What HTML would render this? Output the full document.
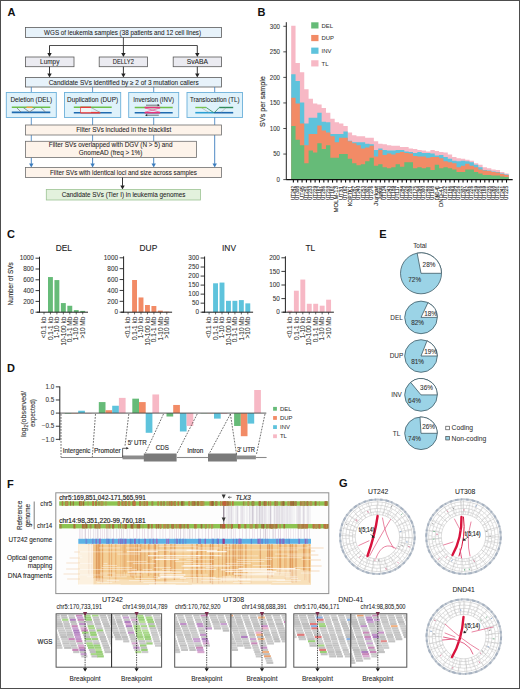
<!DOCTYPE html><html><head><meta charset="utf-8"><style>html,body{margin:0;padding:0;background:#fff;}svg{display:block;}</style></head><body>
<svg width="520" height="689" viewBox="0 0 520 689" font-family='"Liberation Sans", sans-serif'>
<rect x="0.00" y="0.00" width="520.00" height="689.00" fill="#ffffff" stroke="none" stroke-width="1"/>
<text x="7.6" y="15.6" font-size="11" text-anchor="start" font-weight="bold" fill="#111">A</text>
<rect x="25.50" y="27.50" width="196.00" height="10.00" fill="#e7f2fa" stroke="#5a5a5a" stroke-width="0.8"/>
<text x="122.6" y="35.0" font-size="6.7" text-anchor="middle" font-weight="normal" fill="#222" textLength="157" lengthAdjust="spacingAndGlyphs" stroke="#222" stroke-width="0.06">WGS of leukemia samples (38 patients and 12 cell lines)</text>
<line x1="123.40" y1="37.50" x2="123.40" y2="45.50" stroke="#222" stroke-width="0.8"/>
<line x1="49.50" y1="45.50" x2="197.30" y2="45.50" stroke="#222" stroke-width="0.8"/>
<line x1="49.50" y1="45.50" x2="49.50" y2="53.40" stroke="#222" stroke-width="0.9"/>
<path d="M47.30,53.10 L51.70,53.10 L49.50,57.00 Z" fill="#222" stroke="none" stroke-width="1"/>
<line x1="123.40" y1="45.50" x2="123.40" y2="53.40" stroke="#222" stroke-width="0.9"/>
<path d="M121.20,53.10 L125.60,53.10 L123.40,57.00 Z" fill="#222" stroke="none" stroke-width="1"/>
<line x1="197.30" y1="45.50" x2="197.30" y2="53.40" stroke="#222" stroke-width="0.9"/>
<path d="M195.10,53.10 L199.50,53.10 L197.30,57.00 Z" fill="#222" stroke="none" stroke-width="1"/>
<rect x="25.50" y="57.00" width="48.50" height="9.70" fill="#ebebf1" stroke="#5a5a5a" stroke-width="0.8"/>
<text x="49.75" y="64.0" font-size="6.7" text-anchor="middle" font-weight="normal" fill="#222" textLength="19.3" lengthAdjust="spacingAndGlyphs" stroke="#222" stroke-width="0.06">Lumpy</text>
<rect x="99.20" y="57.00" width="48.30" height="9.70" fill="#ebebf1" stroke="#5a5a5a" stroke-width="0.8"/>
<text x="123.35" y="64.0" font-size="6.7" text-anchor="middle" font-weight="normal" fill="#222" textLength="21.2" lengthAdjust="spacingAndGlyphs" stroke="#222" stroke-width="0.06">DELLY2</text>
<rect x="173.20" y="57.00" width="48.30" height="9.70" fill="#ebebf1" stroke="#5a5a5a" stroke-width="0.8"/>
<text x="197.35" y="64.0" font-size="6.7" text-anchor="middle" font-weight="normal" fill="#222" textLength="21.4" lengthAdjust="spacingAndGlyphs" stroke="#222" stroke-width="0.06">SvABA</text>
<line x1="49.50" y1="66.70" x2="49.50" y2="73.90" stroke="#222" stroke-width="0.9"/>
<path d="M47.30,73.60 L51.70,73.60 L49.50,77.50 Z" fill="#222" stroke="none" stroke-width="1"/>
<line x1="123.40" y1="66.70" x2="123.40" y2="73.90" stroke="#222" stroke-width="0.9"/>
<path d="M121.20,73.60 L125.60,73.60 L123.40,77.50 Z" fill="#222" stroke="none" stroke-width="1"/>
<line x1="197.30" y1="66.70" x2="197.30" y2="73.90" stroke="#222" stroke-width="0.9"/>
<path d="M195.10,73.60 L199.50,73.60 L197.30,77.50 Z" fill="#222" stroke="none" stroke-width="1"/>
<rect x="25.50" y="77.50" width="196.00" height="9.50" fill="#e7f2fa" stroke="#5a5a5a" stroke-width="0.8"/>
<text x="123.7" y="84.6" font-size="6.7" text-anchor="middle" font-weight="normal" fill="#222" textLength="150" lengthAdjust="spacingAndGlyphs" stroke="#222" stroke-width="0.06">Candidate SVs identified by ≥ 2 of 3 mutation callers</text>
<line x1="31.30" y1="87.00" x2="31.30" y2="92.50" stroke="#3b7cbd" stroke-width="0.8"/>
<line x1="92.60" y1="87.00" x2="92.60" y2="92.50" stroke="#3b7cbd" stroke-width="0.8"/>
<line x1="153.70" y1="87.00" x2="153.70" y2="92.50" stroke="#3b7cbd" stroke-width="0.8"/>
<line x1="214.70" y1="87.00" x2="214.70" y2="92.50" stroke="#3b7cbd" stroke-width="0.8"/>
<rect x="6.30" y="92.50" width="50.00" height="25.00" fill="#dff2fb" stroke="#6cb0da" stroke-width="0.9"/>
<text x="31.3" y="102.2" font-size="6.7" text-anchor="middle" font-weight="normal" fill="#222" textLength="41.7" lengthAdjust="spacingAndGlyphs" stroke="#222" stroke-width="0.06">Deletion (DEL)</text>
<rect x="64.50" y="92.50" width="56.20" height="25.00" fill="#dff2fb" stroke="#6cb0da" stroke-width="0.9"/>
<text x="92.6" y="102.2" font-size="6.7" text-anchor="middle" font-weight="normal" fill="#222" textLength="51" lengthAdjust="spacingAndGlyphs" stroke="#222" stroke-width="0.06">Duplication (DUP)</text>
<rect x="128.70" y="92.50" width="50.00" height="25.00" fill="#dff2fb" stroke="#6cb0da" stroke-width="0.9"/>
<text x="153.7" y="102.2" font-size="6.7" text-anchor="middle" font-weight="normal" fill="#222" textLength="40.7" lengthAdjust="spacingAndGlyphs" stroke="#222" stroke-width="0.06">Inversion (INV)</text>
<rect x="187.00" y="92.50" width="55.50" height="25.00" fill="#dff2fb" stroke="#6cb0da" stroke-width="0.9"/>
<text x="214.75" y="102.2" font-size="6.7" text-anchor="middle" font-weight="normal" fill="#222" textLength="49.5" lengthAdjust="spacingAndGlyphs" stroke="#222" stroke-width="0.06">Translocation (TL)</text>
<line x1="11.80" y1="107.30" x2="50.30" y2="107.30" stroke="#6cc04a" stroke-width="1.4"/>
<line x1="26.50" y1="107.30" x2="32.50" y2="107.30" stroke="#f5a04a" stroke-width="1.4"/>
<line x1="11.80" y1="112.40" x2="50.30" y2="112.40" stroke="#1f6bb0" stroke-width="1.6"/>
<path d="M16.8,107.8 L21,112 M23.5,107.8 L29.5,112 L35.5,107.8 M41,107.8 L45.5,112" fill="none" stroke="#777" stroke-width="0.75"/>
<line x1="73.80" y1="107.30" x2="111.70" y2="107.30" stroke="#6cc04a" stroke-width="1.4"/>
<line x1="80.50" y1="107.30" x2="91.00" y2="107.30" stroke="#e83a3a" stroke-width="1.4"/>
<line x1="73.80" y1="112.70" x2="111.70" y2="112.70" stroke="#1f6bb0" stroke-width="1.6"/>
<line x1="80.50" y1="112.70" x2="100.30" y2="112.70" stroke="#e83a3a" stroke-width="1.6"/>
<rect x="80.50" y="108.00" width="10.50" height="4.20" fill="#f3f3f3" stroke="none" stroke-width="1"/>
<line x1="80.50" y1="107.30" x2="80.50" y2="112.70" stroke="#e83a3a" stroke-width="0.7"/>
<line x1="91.00" y1="107.50" x2="100.30" y2="112.50" stroke="#888" stroke-width="0.6"/>
<line x1="134.70" y1="107.50" x2="172.70" y2="107.50" stroke="#6cc04a" stroke-width="1.4"/>
<line x1="144.60" y1="107.50" x2="160.20" y2="107.50" stroke="#e5357a" stroke-width="1.5"/>
<line x1="134.70" y1="112.70" x2="172.70" y2="112.70" stroke="#1f6bb0" stroke-width="1.6"/>
<line x1="144.60" y1="112.70" x2="160.20" y2="112.70" stroke="#e5357a" stroke-width="1.5"/>
<path d="M145,108 L160,112.2 M145,112.2 L160,108" fill="none" stroke="#e5357a" stroke-width="0.6"/>
<line x1="146.00" y1="105.20" x2="158.50" y2="105.20" stroke="#222" stroke-width="0.6"/>
<path d="M159.8,105.2 L157.6,104.1 L157.6,106.3 Z" fill="#222" stroke="none" stroke-width="1"/>
<line x1="146.30" y1="115.20" x2="158.80" y2="115.20" stroke="#222" stroke-width="0.6"/>
<path d="M145,115.2 L147.2,114.1 L147.2,116.3 Z" fill="#222" stroke="none" stroke-width="1"/>
<line x1="195.30" y1="107.50" x2="206.20" y2="107.50" stroke="#76c44f" stroke-width="1.4"/>
<line x1="219.20" y1="107.50" x2="233.20" y2="107.50" stroke="#2f8a5a" stroke-width="1.4"/>
<line x1="195.30" y1="112.70" x2="214.00" y2="112.70" stroke="#2a9fd4" stroke-width="1.6"/>
<line x1="214.00" y1="112.70" x2="233.20" y2="112.70" stroke="#1f6bb0" stroke-width="1.6"/>
<path d="M206.2,107.5 L213.5,112.5 M219.2,107.5 L214.5,112.5" fill="none" stroke="#2f8a5a" stroke-width="0.8"/>
<path d="M201.5,107.8 L209,112.5 M226,107.8 L221,112.3" fill="none" stroke="#999" stroke-width="0.5"/>
<line x1="31.30" y1="117.50" x2="31.30" y2="125.00" stroke="#3b7cbd" stroke-width="0.8"/>
<line x1="92.60" y1="117.50" x2="92.60" y2="125.00" stroke="#3b7cbd" stroke-width="0.8"/>
<line x1="153.70" y1="117.50" x2="153.70" y2="125.00" stroke="#3b7cbd" stroke-width="0.8"/>
<line x1="214.70" y1="117.50" x2="214.70" y2="125.00" stroke="#3b7cbd" stroke-width="0.8"/>
<line x1="31.30" y1="135.00" x2="31.30" y2="141.30" stroke="#3b7cbd" stroke-width="0.8"/>
<line x1="31.30" y1="157.50" x2="31.30" y2="163.90" stroke="#3b7cbd" stroke-width="0.9"/>
<path d="M29.10,163.60 L33.50,163.60 L31.30,167.50 Z" fill="#3b7cbd" stroke="none" stroke-width="1"/>
<line x1="92.60" y1="135.00" x2="92.60" y2="141.30" stroke="#3b7cbd" stroke-width="0.8"/>
<line x1="92.60" y1="157.50" x2="92.60" y2="163.90" stroke="#3b7cbd" stroke-width="0.9"/>
<path d="M90.40,163.60 L94.80,163.60 L92.60,167.50 Z" fill="#3b7cbd" stroke="none" stroke-width="1"/>
<line x1="153.70" y1="135.00" x2="153.70" y2="141.30" stroke="#3b7cbd" stroke-width="0.8"/>
<line x1="153.70" y1="157.50" x2="153.70" y2="163.90" stroke="#3b7cbd" stroke-width="0.9"/>
<path d="M151.50,163.60 L155.90,163.60 L153.70,167.50 Z" fill="#3b7cbd" stroke="none" stroke-width="1"/>
<line x1="214.70" y1="135.00" x2="214.70" y2="163.90" stroke="#3b7cbd" stroke-width="0.9"/>
<path d="M212.50,163.60 L216.90,163.60 L214.70,167.50 Z" fill="#3b7cbd" stroke="none" stroke-width="1"/>
<rect x="25.50" y="125.00" width="196.00" height="10.00" fill="#fdf3ea" stroke="#6e6e6e" stroke-width="0.8"/>
<text x="123.7" y="132.3" font-size="6.7" text-anchor="middle" font-weight="normal" fill="#222" textLength="95" lengthAdjust="spacingAndGlyphs" stroke="#222" stroke-width="0.06">Filter SVs included in the blacklist</text>
<rect x="25.50" y="141.30" width="171.00" height="16.20" fill="#fdf3ea" stroke="#6e6e6e" stroke-width="0.8"/>
<text x="110.6" y="146.6" font-size="6.7" text-anchor="middle" font-weight="normal" fill="#222" textLength="123.7" lengthAdjust="spacingAndGlyphs" stroke="#222" stroke-width="0.06">Filter SVs overlapped with DGV (N &gt; 5) and</text>
<text x="110.6" y="154.6" font-size="6.7" text-anchor="middle" font-weight="normal" fill="#222" textLength="63.7" lengthAdjust="spacingAndGlyphs" stroke="#222" stroke-width="0.06">GnomeAD (freq &gt; 1%)</text>
<rect x="25.50" y="167.50" width="196.00" height="10.00" fill="#fdf3ea" stroke="#6e6e6e" stroke-width="0.8"/>
<text x="123.5" y="174.6" font-size="6.7" text-anchor="middle" font-weight="normal" fill="#222" textLength="147" lengthAdjust="spacingAndGlyphs" stroke="#222" stroke-width="0.06">Filter SVs with identical loci and size across samples</text>
<line x1="122.50" y1="177.50" x2="122.50" y2="185.90" stroke="#222" stroke-width="0.9"/>
<path d="M120.30,185.60 L124.70,185.60 L122.50,189.50 Z" fill="#222" stroke="none" stroke-width="1"/>
<rect x="46.30" y="189.50" width="154.20" height="10.50" fill="#e3f1dd" stroke="#9cc493" stroke-width="0.8"/>
<text x="123.6" y="196.9" font-size="6.7" text-anchor="middle" font-weight="normal" fill="#222" textLength="123.7" lengthAdjust="spacingAndGlyphs" stroke="#222" stroke-width="0.06">Candidate SVs (Tier I) in leukemia genomes</text>
<text x="257.6" y="16.3" font-size="11" text-anchor="start" font-weight="bold" fill="#111">B</text>
<path d="M291.20,179.60 L291.20,25.79 L295.55,25.79 L295.55,63.09 L299.90,63.09 L299.90,72.29 L304.25,72.29 L304.25,89.15 L308.60,89.15 L308.60,98.86 L312.95,98.86 L312.95,103.46 L317.30,103.46 L317.30,104.48 L321.65,104.48 L321.65,108.06 L326.00,108.06 L326.00,112.66 L330.35,112.66 L330.35,118.79 L334.70,118.79 L334.70,122.37 L339.05,122.37 L339.05,123.39 L343.40,123.39 L343.40,125.94 L347.75,125.94 L347.75,132.59 L352.10,132.59 L352.10,135.14 L356.45,135.14 L356.45,136.16 L360.80,136.16 L360.80,136.16 L365.15,136.16 L365.15,137.70 L369.50,137.70 L369.50,137.70 L373.85,137.70 L373.85,141.27 L378.20,141.27 L378.20,143.83 L382.55,143.83 L382.55,144.34 L386.90,144.34 L386.90,145.36 L391.25,145.36 L391.25,145.87 L395.60,145.87 L395.60,145.87 L399.95,145.87 L399.95,146.90 L404.30,146.90 L404.30,146.90 L408.65,146.90 L408.65,148.43 L413.00,148.43 L413.00,148.94 L417.35,148.94 L417.35,149.96 L421.70,149.96 L421.70,150.47 L426.05,150.47 L426.05,151.50 L430.40,151.50 L430.40,149.96 L434.75,149.96 L434.75,150.98 L439.10,150.98 L439.10,152.01 L443.45,152.01 L443.45,152.52 L447.80,152.52 L447.80,154.56 L452.15,154.56 L452.15,157.12 L456.50,157.12 L456.50,158.14 L460.85,158.14 L460.85,158.65 L465.20,158.65 L465.20,159.67 L469.55,159.67 L469.55,160.69 L473.90,160.69 L473.90,163.25 L478.25,163.25 L478.25,164.78 L482.60,164.78 L482.60,167.34 L486.95,167.34 L486.95,168.36 L491.30,168.36 L491.30,169.38 L495.65,169.38 L495.65,169.89 L500.00,169.89 L500.00,171.94 L504.35,171.94 L504.35,173.47 L508.70,173.47 L508.70,179.60 Z" fill="#f7b8c5" stroke="none" stroke-width="1"/>
<path d="M291.20,179.60 L291.20,74.33 L295.55,74.33 L295.55,80.98 L299.90,80.98 L299.90,102.44 L304.25,102.44 L304.25,123.39 L308.60,123.39 L308.60,117.77 L312.95,117.77 L312.95,117.77 L317.30,117.77 L317.30,112.66 L321.65,112.66 L321.65,121.86 L326.00,121.86 L326.00,122.37 L330.35,122.37 L330.35,134.12 L334.70,134.12 L334.70,134.12 L339.05,134.12 L339.05,134.12 L343.40,134.12 L343.40,131.57 L347.75,131.57 L347.75,140.76 L352.10,140.76 L352.10,142.30 L356.45,142.30 L356.45,142.30 L360.80,142.30 L360.80,142.30 L365.15,142.30 L365.15,143.83 L369.50,143.83 L369.50,144.34 L373.85,144.34 L373.85,149.96 L378.20,149.96 L378.20,148.43 L382.55,148.43 L382.55,149.96 L386.90,149.96 L386.90,150.47 L391.25,150.47 L391.25,150.47 L395.60,150.47 L395.60,149.96 L399.95,149.96 L399.95,149.96 L404.30,149.96 L404.30,151.50 L408.65,151.50 L408.65,152.01 L413.00,152.01 L413.00,153.03 L417.35,153.03 L417.35,152.01 L421.70,152.01 L421.70,153.03 L426.05,153.03 L426.05,153.03 L430.40,153.03 L430.40,153.54 L434.75,153.54 L434.75,155.58 L439.10,155.58 L439.10,155.07 L443.45,155.07 L443.45,157.12 L447.80,157.12 L447.80,158.65 L452.15,158.65 L452.15,160.69 L456.50,160.69 L456.50,161.20 L460.85,161.20 L460.85,160.69 L465.20,160.69 L465.20,161.20 L469.55,161.20 L469.55,162.23 L473.90,162.23 L473.90,164.78 L478.25,164.78 L478.25,167.34 L482.60,167.34 L482.60,169.89 L486.95,169.89 L486.95,170.40 L491.30,170.40 L491.30,171.42 L495.65,171.42 L495.65,171.94 L500.00,171.94 L500.00,173.47 L504.35,173.47 L504.35,174.49 L508.70,174.49 L508.70,179.60 Z" fill="#5ec3dc" stroke="none" stroke-width="1"/>
<path d="M291.20,179.60 L291.20,97.84 L295.55,97.84 L295.55,103.46 L299.90,103.46 L299.90,123.39 L304.25,123.39 L304.25,145.36 L308.60,145.36 L308.60,134.12 L312.95,134.12 L312.95,134.12 L317.30,134.12 L317.30,125.43 L321.65,125.43 L321.65,130.54 L326.00,130.54 L326.00,132.59 L330.35,132.59 L330.35,136.16 L334.70,136.16 L334.70,142.30 L339.05,142.30 L339.05,137.70 L343.40,137.70 L343.40,137.70 L347.75,137.70 L347.75,141.27 L352.10,141.27 L352.10,143.32 L356.45,143.32 L356.45,145.36 L360.80,145.36 L360.80,148.43 L365.15,148.43 L365.15,147.41 L369.50,147.41 L369.50,145.87 L373.85,145.87 L373.85,156.60 L378.20,156.60 L378.20,149.96 L382.55,149.96 L382.55,155.07 L386.90,155.07 L386.90,153.54 L391.25,153.54 L391.25,154.56 L395.60,154.56 L395.60,153.03 L399.95,153.03 L399.95,152.01 L404.30,152.01 L404.30,153.03 L408.65,153.03 L408.65,153.54 L413.00,153.54 L413.00,156.09 L417.35,156.09 L417.35,156.60 L421.70,156.60 L421.70,156.60 L426.05,156.60 L426.05,157.63 L430.40,157.63 L430.40,157.12 L434.75,157.12 L434.75,157.12 L439.10,157.12 L439.10,158.14 L443.45,158.14 L443.45,161.20 L447.80,161.20 L447.80,162.23 L452.15,162.23 L452.15,163.25 L456.50,163.25 L456.50,167.34 L460.85,167.34 L460.85,165.80 L465.20,165.80 L465.20,163.76 L469.55,163.76 L469.55,165.80 L473.90,165.80 L473.90,167.34 L478.25,167.34 L478.25,169.38 L482.60,169.38 L482.60,170.40 L486.95,170.40 L486.95,170.91 L491.30,170.91 L491.30,171.94 L495.65,171.94 L495.65,172.45 L500.00,172.45 L500.00,173.98 L504.35,173.98 L504.35,175.00 L508.70,175.00 L508.70,179.60 Z" fill="#f28b66" stroke="none" stroke-width="1"/>
<path d="M291.20,179.60 L291.20,125.94 L295.55,125.94 L295.55,139.74 L299.90,139.74 L299.90,145.36 L304.25,145.36 L304.25,163.25 L308.60,163.25 L308.60,150.47 L312.95,150.47 L312.95,152.52 L317.30,152.52 L317.30,143.32 L321.65,143.32 L321.65,148.94 L326.00,148.94 L326.00,145.36 L330.35,145.36 L330.35,157.63 L334.70,157.63 L334.70,157.63 L339.05,157.63 L339.05,154.05 L343.40,154.05 L343.40,154.05 L347.75,154.05 L347.75,158.65 L352.10,158.65 L352.10,163.25 L356.45,163.25 L356.45,165.29 L360.80,165.29 L360.80,164.27 L365.15,164.27 L365.15,161.20 L369.50,161.20 L369.50,157.63 L373.85,157.63 L373.85,165.80 L378.20,165.80 L378.20,164.27 L382.55,164.27 L382.55,167.34 L386.90,167.34 L386.90,168.36 L391.25,168.36 L391.25,167.34 L395.60,167.34 L395.60,164.27 L399.95,164.27 L399.95,166.82 L404.30,166.82 L404.30,162.23 L408.65,162.23 L408.65,162.23 L413.00,162.23 L413.00,168.36 L417.35,168.36 L417.35,167.34 L421.70,167.34 L421.70,168.36 L426.05,168.36 L426.05,167.34 L430.40,167.34 L430.40,169.89 L434.75,169.89 L434.75,164.78 L439.10,164.78 L439.10,168.36 L443.45,168.36 L443.45,167.34 L447.80,167.34 L447.80,168.36 L452.15,168.36 L452.15,169.38 L456.50,169.38 L456.50,171.94 L460.85,171.94 L460.85,171.94 L465.20,171.94 L465.20,169.38 L469.55,169.38 L469.55,169.38 L473.90,169.38 L473.90,171.94 L478.25,171.94 L478.25,173.47 L482.60,173.47 L482.60,175.00 L486.95,175.00 L486.95,175.00 L491.30,175.00 L491.30,175.51 L495.65,175.51 L495.65,175.51 L500.00,175.51 L500.00,176.53 L504.35,176.53 L504.35,177.04 L508.70,177.04 L508.70,179.60 Z" fill="#66bb78" stroke="none" stroke-width="1"/>
<line x1="286.30" y1="22.20" x2="286.30" y2="180.00" stroke="#222" stroke-width="1"/>
<line x1="286.30" y1="179.60" x2="512.70" y2="179.60" stroke="#111" stroke-width="1.3"/>
<line x1="283.30" y1="179.60" x2="286.30" y2="179.60" stroke="#222" stroke-width="0.8"/>
<text x="280.0" y="181.9" font-size="6.4" text-anchor="end" font-weight="normal" fill="#333" textLength="3.4" lengthAdjust="spacingAndGlyphs" stroke="#333" stroke-width="0.07">0</text>
<line x1="283.30" y1="154.05" x2="286.30" y2="154.05" stroke="#222" stroke-width="0.8"/>
<text x="280.0" y="156.35" font-size="6.4" text-anchor="end" font-weight="normal" fill="#333" textLength="6.8" lengthAdjust="spacingAndGlyphs" stroke="#333" stroke-width="0.07">50</text>
<line x1="283.30" y1="128.50" x2="286.30" y2="128.50" stroke="#222" stroke-width="0.8"/>
<text x="280.0" y="130.8" font-size="6.4" text-anchor="end" font-weight="normal" fill="#333" textLength="10.2" lengthAdjust="spacingAndGlyphs" stroke="#333" stroke-width="0.07">100</text>
<line x1="283.30" y1="102.95" x2="286.30" y2="102.95" stroke="#222" stroke-width="0.8"/>
<text x="280.0" y="105.24999999999999" font-size="6.4" text-anchor="end" font-weight="normal" fill="#333" textLength="10.2" lengthAdjust="spacingAndGlyphs" stroke="#333" stroke-width="0.07">150</text>
<line x1="283.30" y1="77.40" x2="286.30" y2="77.40" stroke="#222" stroke-width="0.8"/>
<text x="280.0" y="79.69999999999999" font-size="6.4" text-anchor="end" font-weight="normal" fill="#333" textLength="10.2" lengthAdjust="spacingAndGlyphs" stroke="#333" stroke-width="0.07">200</text>
<line x1="283.30" y1="51.85" x2="286.30" y2="51.85" stroke="#222" stroke-width="0.8"/>
<text x="280.0" y="54.14999999999999" font-size="6.4" text-anchor="end" font-weight="normal" fill="#333" textLength="10.2" lengthAdjust="spacingAndGlyphs" stroke="#333" stroke-width="0.07">250</text>
<line x1="283.30" y1="26.30" x2="286.30" y2="26.30" stroke="#222" stroke-width="0.8"/>
<text x="280.0" y="28.599999999999984" font-size="6.4" text-anchor="end" font-weight="normal" fill="#333" textLength="10.2" lengthAdjust="spacingAndGlyphs" stroke="#333" stroke-width="0.07">300</text>
<line x1="293.38" y1="179.60" x2="293.38" y2="182.60" stroke="#111" stroke-width="1.1"/>
<text x="294.975" y="186.0" font-size="4.6" text-anchor="end" font-weight="normal" fill="#333" textLength="14" lengthAdjust="spacingAndGlyphs" transform="rotate(-90 294.975 186.0)" stroke="#333" stroke-width="0.14">UT242</text>
<line x1="297.73" y1="179.60" x2="297.73" y2="182.60" stroke="#111" stroke-width="1.1"/>
<text x="299.32500000000005" y="186.0" font-size="4.6" text-anchor="end" font-weight="normal" fill="#333" textLength="14" lengthAdjust="spacingAndGlyphs" transform="rotate(-90 299.32500000000005 186.0)" stroke="#333" stroke-width="0.14">UT308</text>
<line x1="302.07" y1="179.60" x2="302.07" y2="182.60" stroke="#111" stroke-width="1.1"/>
<text x="303.675" y="186.0" font-size="4.6" text-anchor="end" font-weight="normal" fill="#333" textLength="14" lengthAdjust="spacingAndGlyphs" transform="rotate(-90 303.675 186.0)" stroke="#333" stroke-width="0.14">UT45</text>
<line x1="306.43" y1="179.60" x2="306.43" y2="182.60" stroke="#111" stroke-width="1.1"/>
<text x="308.02500000000003" y="186.0" font-size="4.6" text-anchor="end" font-weight="normal" fill="#333" textLength="14" lengthAdjust="spacingAndGlyphs" transform="rotate(-90 308.02500000000003 186.0)" stroke="#333" stroke-width="0.14">UT251</text>
<line x1="310.77" y1="179.60" x2="310.77" y2="182.60" stroke="#111" stroke-width="1.1"/>
<text x="312.375" y="186.0" font-size="4.6" text-anchor="end" font-weight="normal" fill="#333" textLength="14" lengthAdjust="spacingAndGlyphs" transform="rotate(-90 312.375 186.0)" stroke="#333" stroke-width="0.14">UT233</text>
<line x1="315.12" y1="179.60" x2="315.12" y2="182.60" stroke="#111" stroke-width="1.1"/>
<text x="316.725" y="186.0" font-size="4.6" text-anchor="end" font-weight="normal" fill="#333" textLength="14" lengthAdjust="spacingAndGlyphs" transform="rotate(-90 316.725 186.0)" stroke="#333" stroke-width="0.14">UT229</text>
<line x1="319.48" y1="179.60" x2="319.48" y2="182.60" stroke="#111" stroke-width="1.1"/>
<text x="321.07500000000005" y="186.0" font-size="4.6" text-anchor="end" font-weight="normal" fill="#333" textLength="14" lengthAdjust="spacingAndGlyphs" transform="rotate(-90 321.07500000000005 186.0)" stroke="#333" stroke-width="0.14">UT167</text>
<line x1="323.82" y1="179.60" x2="323.82" y2="182.60" stroke="#111" stroke-width="1.1"/>
<text x="325.425" y="186.0" font-size="4.6" text-anchor="end" font-weight="normal" fill="#333" textLength="14" lengthAdjust="spacingAndGlyphs" transform="rotate(-90 325.425 186.0)" stroke="#333" stroke-width="0.14">UT286</text>
<line x1="328.18" y1="179.60" x2="328.18" y2="182.60" stroke="#111" stroke-width="1.1"/>
<text x="329.77500000000003" y="186.0" font-size="4.6" text-anchor="end" font-weight="normal" fill="#333" textLength="14" lengthAdjust="spacingAndGlyphs" transform="rotate(-90 329.77500000000003 186.0)" stroke="#333" stroke-width="0.14">UT218</text>
<line x1="332.52" y1="179.60" x2="332.52" y2="182.60" stroke="#111" stroke-width="1.1"/>
<text x="334.125" y="186.0" font-size="4.6" text-anchor="end" font-weight="normal" fill="#333" textLength="14" lengthAdjust="spacingAndGlyphs" transform="rotate(-90 334.125 186.0)" stroke="#333" stroke-width="0.14">UT161</text>
<line x1="336.88" y1="179.60" x2="336.88" y2="182.60" stroke="#111" stroke-width="1.1"/>
<text x="338.475" y="186.0" font-size="4.6" text-anchor="end" font-weight="normal" fill="#333" textLength="26.5" lengthAdjust="spacingAndGlyphs" transform="rotate(-90 338.475 186.0)" stroke="#333" stroke-width="0.14">MOLM-13</text>
<line x1="341.22" y1="179.60" x2="341.22" y2="182.60" stroke="#111" stroke-width="1.1"/>
<text x="342.825" y="186.0" font-size="4.6" text-anchor="end" font-weight="normal" fill="#333" textLength="14" lengthAdjust="spacingAndGlyphs" transform="rotate(-90 342.825 186.0)" stroke="#333" stroke-width="0.14">UT31</text>
<line x1="345.57" y1="179.60" x2="345.57" y2="182.60" stroke="#111" stroke-width="1.1"/>
<text x="347.175" y="186.0" font-size="4.6" text-anchor="end" font-weight="normal" fill="#333" textLength="14" lengthAdjust="spacingAndGlyphs" transform="rotate(-90 347.175 186.0)" stroke="#333" stroke-width="0.14">UT162</text>
<line x1="349.93" y1="179.60" x2="349.93" y2="182.60" stroke="#111" stroke-width="1.1"/>
<text x="351.52500000000003" y="186.0" font-size="4.6" text-anchor="end" font-weight="normal" fill="#333" textLength="20" lengthAdjust="spacingAndGlyphs" transform="rotate(-90 351.52500000000003 186.0)" stroke="#333" stroke-width="0.14">KOPTK1</text>
<line x1="354.27" y1="179.60" x2="354.27" y2="182.60" stroke="#111" stroke-width="1.1"/>
<text x="355.875" y="186.0" font-size="4.6" text-anchor="end" font-weight="normal" fill="#333" textLength="14" lengthAdjust="spacingAndGlyphs" transform="rotate(-90 355.875 186.0)" stroke="#333" stroke-width="0.14">UT287</text>
<line x1="358.62" y1="179.60" x2="358.62" y2="182.60" stroke="#111" stroke-width="1.1"/>
<text x="360.225" y="186.0" font-size="4.6" text-anchor="end" font-weight="normal" fill="#333" textLength="14" lengthAdjust="spacingAndGlyphs" transform="rotate(-90 360.225 186.0)" stroke="#333" stroke-width="0.14">UT240</text>
<line x1="362.97" y1="179.60" x2="362.97" y2="182.60" stroke="#111" stroke-width="1.1"/>
<text x="364.575" y="186.0" font-size="4.6" text-anchor="end" font-weight="normal" fill="#333" textLength="14" lengthAdjust="spacingAndGlyphs" transform="rotate(-90 364.575 186.0)" stroke="#333" stroke-width="0.14">UT253</text>
<line x1="367.32" y1="179.60" x2="367.32" y2="182.60" stroke="#111" stroke-width="1.1"/>
<text x="368.925" y="186.0" font-size="4.6" text-anchor="end" font-weight="normal" fill="#333" textLength="14" lengthAdjust="spacingAndGlyphs" transform="rotate(-90 368.925 186.0)" stroke="#333" stroke-width="0.14">UT302</text>
<line x1="371.68" y1="179.60" x2="371.68" y2="182.60" stroke="#111" stroke-width="1.1"/>
<text x="373.27500000000003" y="186.0" font-size="4.6" text-anchor="end" font-weight="normal" fill="#333" textLength="14" lengthAdjust="spacingAndGlyphs" transform="rotate(-90 373.27500000000003 186.0)" stroke="#333" stroke-width="0.14">UT276</text>
<line x1="376.02" y1="179.60" x2="376.02" y2="182.60" stroke="#111" stroke-width="1.1"/>
<text x="377.625" y="186.0" font-size="4.6" text-anchor="end" font-weight="normal" fill="#333" textLength="20" lengthAdjust="spacingAndGlyphs" transform="rotate(-90 377.625 186.0)" stroke="#333" stroke-width="0.14">Jurkat</text>
<line x1="380.38" y1="179.60" x2="380.38" y2="182.60" stroke="#111" stroke-width="1.1"/>
<text x="381.975" y="186.0" font-size="4.6" text-anchor="end" font-weight="normal" fill="#333" textLength="14" lengthAdjust="spacingAndGlyphs" transform="rotate(-90 381.975 186.0)" stroke="#333" stroke-width="0.14">Jurkat</text>
<line x1="384.72" y1="179.60" x2="384.72" y2="182.60" stroke="#111" stroke-width="1.1"/>
<text x="386.325" y="186.0" font-size="4.6" text-anchor="end" font-weight="normal" fill="#333" textLength="14" lengthAdjust="spacingAndGlyphs" transform="rotate(-90 386.325 186.0)" stroke="#333" stroke-width="0.14">UT124</text>
<line x1="389.07" y1="179.60" x2="389.07" y2="182.60" stroke="#111" stroke-width="1.1"/>
<text x="390.675" y="186.0" font-size="4.6" text-anchor="end" font-weight="normal" fill="#333" textLength="14" lengthAdjust="spacingAndGlyphs" transform="rotate(-90 390.675 186.0)" stroke="#333" stroke-width="0.14">UT243</text>
<line x1="393.43" y1="179.60" x2="393.43" y2="182.60" stroke="#111" stroke-width="1.1"/>
<text x="395.02500000000003" y="186.0" font-size="4.6" text-anchor="end" font-weight="normal" fill="#333" textLength="14" lengthAdjust="spacingAndGlyphs" transform="rotate(-90 395.02500000000003 186.0)" stroke="#333" stroke-width="0.14">UT189</text>
<line x1="397.77" y1="179.60" x2="397.77" y2="182.60" stroke="#111" stroke-width="1.1"/>
<text x="399.375" y="186.0" font-size="4.6" text-anchor="end" font-weight="normal" fill="#333" textLength="14" lengthAdjust="spacingAndGlyphs" transform="rotate(-90 399.375 186.0)" stroke="#333" stroke-width="0.14">UT117</text>
<line x1="402.12" y1="179.60" x2="402.12" y2="182.60" stroke="#111" stroke-width="1.1"/>
<text x="403.725" y="186.0" font-size="4.6" text-anchor="end" font-weight="normal" fill="#333" textLength="14" lengthAdjust="spacingAndGlyphs" transform="rotate(-90 403.725 186.0)" stroke="#333" stroke-width="0.14">UT284</text>
<line x1="406.47" y1="179.60" x2="406.47" y2="182.60" stroke="#111" stroke-width="1.1"/>
<text x="408.075" y="186.0" font-size="4.6" text-anchor="end" font-weight="normal" fill="#333" textLength="14" lengthAdjust="spacingAndGlyphs" transform="rotate(-90 408.075 186.0)" stroke="#333" stroke-width="0.14">UT226</text>
<line x1="410.82" y1="179.60" x2="410.82" y2="182.60" stroke="#111" stroke-width="1.1"/>
<text x="412.425" y="186.0" font-size="4.6" text-anchor="end" font-weight="normal" fill="#333" textLength="14" lengthAdjust="spacingAndGlyphs" transform="rotate(-90 412.425 186.0)" stroke="#333" stroke-width="0.14">UT209</text>
<line x1="415.18" y1="179.60" x2="415.18" y2="182.60" stroke="#111" stroke-width="1.1"/>
<text x="416.77500000000003" y="186.0" font-size="4.6" text-anchor="end" font-weight="normal" fill="#333" textLength="14" lengthAdjust="spacingAndGlyphs" transform="rotate(-90 416.77500000000003 186.0)" stroke="#333" stroke-width="0.14">UT175</text>
<line x1="419.52" y1="179.60" x2="419.52" y2="182.60" stroke="#111" stroke-width="1.1"/>
<text x="421.125" y="186.0" font-size="4.6" text-anchor="end" font-weight="normal" fill="#333" textLength="14" lengthAdjust="spacingAndGlyphs" transform="rotate(-90 421.125 186.0)" stroke="#333" stroke-width="0.14">UT298</text>
<line x1="423.88" y1="179.60" x2="423.88" y2="182.60" stroke="#111" stroke-width="1.1"/>
<text x="425.475" y="186.0" font-size="4.6" text-anchor="end" font-weight="normal" fill="#333" textLength="14" lengthAdjust="spacingAndGlyphs" transform="rotate(-90 425.475 186.0)" stroke="#333" stroke-width="0.14">UT300</text>
<line x1="428.22" y1="179.60" x2="428.22" y2="182.60" stroke="#111" stroke-width="1.1"/>
<text x="429.825" y="186.0" font-size="4.6" text-anchor="end" font-weight="normal" fill="#333" textLength="14" lengthAdjust="spacingAndGlyphs" transform="rotate(-90 429.825 186.0)" stroke="#333" stroke-width="0.14">UT288</text>
<line x1="432.57" y1="179.60" x2="432.57" y2="182.60" stroke="#111" stroke-width="1.1"/>
<text x="434.175" y="186.0" font-size="4.6" text-anchor="end" font-weight="normal" fill="#333" textLength="14" lengthAdjust="spacingAndGlyphs" transform="rotate(-90 434.175 186.0)" stroke="#333" stroke-width="0.14">UT168</text>
<line x1="436.93" y1="179.60" x2="436.93" y2="182.60" stroke="#111" stroke-width="1.1"/>
<text x="438.52500000000003" y="186.0" font-size="4.6" text-anchor="end" font-weight="normal" fill="#333" textLength="14" lengthAdjust="spacingAndGlyphs" transform="rotate(-90 438.52500000000003 186.0)" stroke="#333" stroke-width="0.14">DND-41</text>
<line x1="441.27" y1="179.60" x2="441.27" y2="182.60" stroke="#111" stroke-width="1.1"/>
<text x="442.875" y="186.0" font-size="4.6" text-anchor="end" font-weight="normal" fill="#333" textLength="21" lengthAdjust="spacingAndGlyphs" transform="rotate(-90 442.875 186.0)" stroke="#333" stroke-width="0.14">DND-41</text>
<line x1="445.62" y1="179.60" x2="445.62" y2="182.60" stroke="#111" stroke-width="1.1"/>
<text x="447.225" y="186.0" font-size="4.6" text-anchor="end" font-weight="normal" fill="#333" textLength="14" lengthAdjust="spacingAndGlyphs" transform="rotate(-90 447.225 186.0)" stroke="#333" stroke-width="0.14">UT232</text>
<line x1="449.97" y1="179.60" x2="449.97" y2="182.60" stroke="#111" stroke-width="1.1"/>
<text x="451.575" y="186.0" font-size="4.6" text-anchor="end" font-weight="normal" fill="#333" textLength="14" lengthAdjust="spacingAndGlyphs" transform="rotate(-90 451.575 186.0)" stroke="#333" stroke-width="0.14">UT186</text>
<line x1="454.32" y1="179.60" x2="454.32" y2="182.60" stroke="#111" stroke-width="1.1"/>
<text x="455.925" y="186.0" font-size="4.6" text-anchor="end" font-weight="normal" fill="#333" textLength="14" lengthAdjust="spacingAndGlyphs" transform="rotate(-90 455.925 186.0)" stroke="#333" stroke-width="0.14">UT284</text>
<line x1="458.68" y1="179.60" x2="458.68" y2="182.60" stroke="#111" stroke-width="1.1"/>
<text x="460.27500000000003" y="186.0" font-size="4.6" text-anchor="end" font-weight="normal" fill="#333" textLength="14" lengthAdjust="spacingAndGlyphs" transform="rotate(-90 460.27500000000003 186.0)" stroke="#333" stroke-width="0.14">UT216</text>
<line x1="463.02" y1="179.60" x2="463.02" y2="182.60" stroke="#111" stroke-width="1.1"/>
<text x="464.625" y="186.0" font-size="4.6" text-anchor="end" font-weight="normal" fill="#333" textLength="14" lengthAdjust="spacingAndGlyphs" transform="rotate(-90 464.625 186.0)" stroke="#333" stroke-width="0.14">UT307</text>
<line x1="467.38" y1="179.60" x2="467.38" y2="182.60" stroke="#111" stroke-width="1.1"/>
<text x="468.975" y="186.0" font-size="4.6" text-anchor="end" font-weight="normal" fill="#333" textLength="14" lengthAdjust="spacingAndGlyphs" transform="rotate(-90 468.975 186.0)" stroke="#333" stroke-width="0.14">UT262</text>
<line x1="471.72" y1="179.60" x2="471.72" y2="182.60" stroke="#111" stroke-width="1.1"/>
<text x="473.325" y="186.0" font-size="4.6" text-anchor="end" font-weight="normal" fill="#333" textLength="14" lengthAdjust="spacingAndGlyphs" transform="rotate(-90 473.325 186.0)" stroke="#333" stroke-width="0.14">UT226</text>
<line x1="476.07" y1="179.60" x2="476.07" y2="182.60" stroke="#111" stroke-width="1.1"/>
<text x="477.675" y="186.0" font-size="4.6" text-anchor="end" font-weight="normal" fill="#333" textLength="14" lengthAdjust="spacingAndGlyphs" transform="rotate(-90 477.675 186.0)" stroke="#333" stroke-width="0.14">UT259</text>
<line x1="480.43" y1="179.60" x2="480.43" y2="182.60" stroke="#111" stroke-width="1.1"/>
<text x="482.02500000000003" y="186.0" font-size="4.6" text-anchor="end" font-weight="normal" fill="#333" textLength="14" lengthAdjust="spacingAndGlyphs" transform="rotate(-90 482.02500000000003 186.0)" stroke="#333" stroke-width="0.14">UT226</text>
<line x1="484.77" y1="179.60" x2="484.77" y2="182.60" stroke="#111" stroke-width="1.1"/>
<text x="486.375" y="186.0" font-size="4.6" text-anchor="end" font-weight="normal" fill="#333" textLength="14" lengthAdjust="spacingAndGlyphs" transform="rotate(-90 486.375 186.0)" stroke="#333" stroke-width="0.14">UT169</text>
<line x1="489.12" y1="179.60" x2="489.12" y2="182.60" stroke="#111" stroke-width="1.1"/>
<text x="490.72499999999997" y="186.0" font-size="4.6" text-anchor="end" font-weight="normal" fill="#333" textLength="14" lengthAdjust="spacingAndGlyphs" transform="rotate(-90 490.72499999999997 186.0)" stroke="#333" stroke-width="0.14">UT235</text>
<line x1="493.47" y1="179.60" x2="493.47" y2="182.60" stroke="#111" stroke-width="1.1"/>
<text x="495.075" y="186.0" font-size="4.6" text-anchor="end" font-weight="normal" fill="#333" textLength="14" lengthAdjust="spacingAndGlyphs" transform="rotate(-90 495.075 186.0)" stroke="#333" stroke-width="0.14">UT268</text>
<line x1="497.82" y1="179.60" x2="497.82" y2="182.60" stroke="#111" stroke-width="1.1"/>
<text x="499.425" y="186.0" font-size="4.6" text-anchor="end" font-weight="normal" fill="#333" textLength="14" lengthAdjust="spacingAndGlyphs" transform="rotate(-90 499.425 186.0)" stroke="#333" stroke-width="0.14">UT201</text>
<line x1="502.18" y1="179.60" x2="502.18" y2="182.60" stroke="#111" stroke-width="1.1"/>
<text x="503.77500000000003" y="186.0" font-size="4.6" text-anchor="end" font-weight="normal" fill="#333" textLength="14" lengthAdjust="spacingAndGlyphs" transform="rotate(-90 503.77500000000003 186.0)" stroke="#333" stroke-width="0.14">UT241</text>
<line x1="506.52" y1="179.60" x2="506.52" y2="182.60" stroke="#111" stroke-width="1.1"/>
<text x="508.125" y="186.0" font-size="4.6" text-anchor="end" font-weight="normal" fill="#333" textLength="14" lengthAdjust="spacingAndGlyphs" transform="rotate(-90 508.125 186.0)" stroke="#333" stroke-width="0.14">UT225</text>
<text x="264.5" y="101.5" font-size="7.2" text-anchor="middle" font-weight="normal" fill="#333" transform="rotate(-90 264.5 101.5)" stroke="#333" stroke-width="0.16">SVs per sample</text>
<rect x="311.20" y="22.30" width="7.30" height="6.20" fill="#66bb78" stroke="none" stroke-width="1"/>
<text x="321.6" y="27.6" font-size="5.9" text-anchor="start" font-weight="normal" fill="#333" stroke="#333" stroke-width="0.05">DEL</text>
<rect x="311.20" y="34.95" width="7.30" height="6.20" fill="#f28b66" stroke="none" stroke-width="1"/>
<text x="321.6" y="40.25" font-size="5.9" text-anchor="start" font-weight="normal" fill="#333" stroke="#333" stroke-width="0.05">DUP</text>
<rect x="311.20" y="47.60" width="7.30" height="6.20" fill="#5ec3dc" stroke="none" stroke-width="1"/>
<text x="321.6" y="52.9" font-size="5.9" text-anchor="start" font-weight="normal" fill="#333" stroke="#333" stroke-width="0.05">INV</text>
<rect x="311.20" y="60.25" width="7.30" height="6.20" fill="#f7b8c5" stroke="none" stroke-width="1"/>
<text x="321.6" y="65.55" font-size="5.9" text-anchor="start" font-weight="normal" fill="#333" stroke="#333" stroke-width="0.05">TL</text>
<text x="6.9" y="238.0" font-size="11" text-anchor="start" font-weight="bold" fill="#111">C</text>
<text x="63.8" y="250.8" font-size="8.4" text-anchor="middle" font-weight="normal" fill="#222" stroke="#222" stroke-width="0.1">DEL</text>
<rect x="41.55" y="312.04" width="4.90" height="0.16" fill="#66bb78" stroke="none" stroke-width="1"/>
<rect x="48.00" y="277.05" width="4.90" height="35.15" fill="#66bb78" stroke="none" stroke-width="1"/>
<rect x="54.45" y="280.07" width="4.90" height="32.13" fill="#66bb78" stroke="none" stroke-width="1"/>
<rect x="60.90" y="303.07" width="4.90" height="9.13" fill="#66bb78" stroke="none" stroke-width="1"/>
<rect x="67.35" y="305.77" width="4.90" height="6.43" fill="#66bb78" stroke="none" stroke-width="1"/>
<rect x="73.80" y="310.09" width="4.90" height="2.11" fill="#66bb78" stroke="none" stroke-width="1"/>
<rect x="80.25" y="310.90" width="4.90" height="1.30" fill="#66bb78" stroke="none" stroke-width="1"/>
<line x1="39.50" y1="256.70" x2="39.50" y2="312.70" stroke="#222" stroke-width="1"/>
<line x1="37.00" y1="312.20" x2="88.00" y2="312.20" stroke="#222" stroke-width="1"/>
<line x1="35.50" y1="312.20" x2="39.50" y2="312.20" stroke="#222" stroke-width="0.9"/>
<text x="33.9" y="314.4" font-size="6.3" text-anchor="end" font-weight="normal" fill="#333" textLength="3.55" lengthAdjust="spacingAndGlyphs" stroke="#333" stroke-width="0.07">0</text>
<line x1="35.50" y1="301.40" x2="39.50" y2="301.40" stroke="#222" stroke-width="0.9"/>
<text x="33.9" y="303.59999999999997" font-size="6.3" text-anchor="end" font-weight="normal" fill="#333" textLength="10.649999999999999" lengthAdjust="spacingAndGlyphs" stroke="#333" stroke-width="0.07">200</text>
<line x1="35.50" y1="290.60" x2="39.50" y2="290.60" stroke="#222" stroke-width="0.9"/>
<text x="33.9" y="292.79999999999995" font-size="6.3" text-anchor="end" font-weight="normal" fill="#333" textLength="10.649999999999999" lengthAdjust="spacingAndGlyphs" stroke="#333" stroke-width="0.07">400</text>
<line x1="35.50" y1="279.80" x2="39.50" y2="279.80" stroke="#222" stroke-width="0.9"/>
<text x="33.9" y="282.0" font-size="6.3" text-anchor="end" font-weight="normal" fill="#333" textLength="10.649999999999999" lengthAdjust="spacingAndGlyphs" stroke="#333" stroke-width="0.07">600</text>
<line x1="35.50" y1="269.00" x2="39.50" y2="269.00" stroke="#222" stroke-width="0.9"/>
<text x="33.9" y="271.2" font-size="6.3" text-anchor="end" font-weight="normal" fill="#333" textLength="10.649999999999999" lengthAdjust="spacingAndGlyphs" stroke="#333" stroke-width="0.07">800</text>
<line x1="35.50" y1="258.20" x2="39.50" y2="258.20" stroke="#222" stroke-width="0.9"/>
<text x="33.9" y="260.4" font-size="6.3" text-anchor="end" font-weight="normal" fill="#333" textLength="14.2" lengthAdjust="spacingAndGlyphs" stroke="#333" stroke-width="0.07">1000</text>
<line x1="44.00" y1="312.20" x2="44.00" y2="314.40" stroke="#222" stroke-width="0.7"/>
<text x="46.2" y="316.6" font-size="6.5" text-anchor="end" font-weight="normal" fill="#333" transform="rotate(-90 46.2 316.6)" stroke="#333" stroke-width="0.07">&lt;0.1 kb</text>
<line x1="50.45" y1="312.20" x2="50.45" y2="314.40" stroke="#222" stroke-width="0.7"/>
<text x="52.650000000000006" y="316.6" font-size="6.5" text-anchor="end" font-weight="normal" fill="#333" transform="rotate(-90 52.650000000000006 316.6)" stroke="#333" stroke-width="0.07">0.1-1 kb</text>
<line x1="56.90" y1="312.20" x2="56.90" y2="314.40" stroke="#222" stroke-width="0.7"/>
<text x="59.1" y="316.6" font-size="6.5" text-anchor="end" font-weight="normal" fill="#333" transform="rotate(-90 59.1 316.6)" stroke="#333" stroke-width="0.07">1-10 kb</text>
<line x1="63.35" y1="312.20" x2="63.35" y2="314.40" stroke="#222" stroke-width="0.7"/>
<text x="65.55" y="316.6" font-size="6.5" text-anchor="end" font-weight="normal" fill="#333" transform="rotate(-90 65.55 316.6)" stroke="#333" stroke-width="0.07">10-100 kb</text>
<line x1="69.80" y1="312.20" x2="69.80" y2="314.40" stroke="#222" stroke-width="0.7"/>
<text x="72.0" y="316.6" font-size="6.5" text-anchor="end" font-weight="normal" fill="#333" transform="rotate(-90 72.0 316.6)" stroke="#333" stroke-width="0.07">0.1-1 Mb</text>
<line x1="76.25" y1="312.20" x2="76.25" y2="314.40" stroke="#222" stroke-width="0.7"/>
<text x="78.45" y="316.6" font-size="6.5" text-anchor="end" font-weight="normal" fill="#333" transform="rotate(-90 78.45 316.6)" stroke="#333" stroke-width="0.07">1-10 Mb</text>
<line x1="82.70" y1="312.20" x2="82.70" y2="314.40" stroke="#222" stroke-width="0.7"/>
<text x="84.9" y="316.6" font-size="6.5" text-anchor="end" font-weight="normal" fill="#333" transform="rotate(-90 84.9 316.6)" stroke="#333" stroke-width="0.07">&gt;10 Mb</text>
<text x="148.4" y="250.8" font-size="8.4" text-anchor="middle" font-weight="normal" fill="#222" stroke="#222" stroke-width="0.1">DUP</text>
<rect x="125.65" y="312.09" width="4.90" height="0.11" fill="#f28b66" stroke="none" stroke-width="1"/>
<rect x="132.10" y="280.00" width="4.90" height="32.20" fill="#f28b66" stroke="none" stroke-width="1"/>
<rect x="138.55" y="297.46" width="4.90" height="14.74" fill="#f28b66" stroke="none" stroke-width="1"/>
<rect x="145.00" y="305.02" width="4.90" height="7.18" fill="#f28b66" stroke="none" stroke-width="1"/>
<rect x="151.45" y="306.00" width="4.90" height="6.20" fill="#f28b66" stroke="none" stroke-width="1"/>
<rect x="157.90" y="310.62" width="4.90" height="1.58" fill="#f28b66" stroke="none" stroke-width="1"/>
<rect x="164.35" y="311.66" width="4.90" height="0.54" fill="#f28b66" stroke="none" stroke-width="1"/>
<line x1="123.60" y1="256.30" x2="123.60" y2="312.70" stroke="#222" stroke-width="1"/>
<line x1="121.10" y1="312.20" x2="172.10" y2="312.20" stroke="#222" stroke-width="1"/>
<line x1="119.60" y1="312.20" x2="123.60" y2="312.20" stroke="#222" stroke-width="0.9"/>
<text x="118.0" y="314.4" font-size="6.3" text-anchor="end" font-weight="normal" fill="#333" textLength="3.55" lengthAdjust="spacingAndGlyphs" stroke="#333" stroke-width="0.07">0</text>
<line x1="119.60" y1="301.32" x2="123.60" y2="301.32" stroke="#222" stroke-width="0.9"/>
<text x="118.0" y="303.52" font-size="6.3" text-anchor="end" font-weight="normal" fill="#333" textLength="10.649999999999999" lengthAdjust="spacingAndGlyphs" stroke="#333" stroke-width="0.07">200</text>
<line x1="119.60" y1="290.44" x2="123.60" y2="290.44" stroke="#222" stroke-width="0.9"/>
<text x="118.0" y="292.64" font-size="6.3" text-anchor="end" font-weight="normal" fill="#333" textLength="10.649999999999999" lengthAdjust="spacingAndGlyphs" stroke="#333" stroke-width="0.07">400</text>
<line x1="119.60" y1="279.56" x2="123.60" y2="279.56" stroke="#222" stroke-width="0.9"/>
<text x="118.0" y="281.76" font-size="6.3" text-anchor="end" font-weight="normal" fill="#333" textLength="10.649999999999999" lengthAdjust="spacingAndGlyphs" stroke="#333" stroke-width="0.07">600</text>
<line x1="119.60" y1="268.68" x2="123.60" y2="268.68" stroke="#222" stroke-width="0.9"/>
<text x="118.0" y="270.88" font-size="6.3" text-anchor="end" font-weight="normal" fill="#333" textLength="10.649999999999999" lengthAdjust="spacingAndGlyphs" stroke="#333" stroke-width="0.07">800</text>
<line x1="119.60" y1="257.80" x2="123.60" y2="257.80" stroke="#222" stroke-width="0.9"/>
<text x="118.0" y="260.0" font-size="6.3" text-anchor="end" font-weight="normal" fill="#333" textLength="14.2" lengthAdjust="spacingAndGlyphs" stroke="#333" stroke-width="0.07">1000</text>
<line x1="128.10" y1="312.20" x2="128.10" y2="314.40" stroke="#222" stroke-width="0.7"/>
<text x="130.29999999999998" y="316.6" font-size="6.5" text-anchor="end" font-weight="normal" fill="#333" transform="rotate(-90 130.29999999999998 316.6)" stroke="#333" stroke-width="0.07">&lt;0.1 kb</text>
<line x1="134.55" y1="312.20" x2="134.55" y2="314.40" stroke="#222" stroke-width="0.7"/>
<text x="136.74999999999997" y="316.6" font-size="6.5" text-anchor="end" font-weight="normal" fill="#333" transform="rotate(-90 136.74999999999997 316.6)" stroke="#333" stroke-width="0.07">0.1-1 kb</text>
<line x1="141.00" y1="312.20" x2="141.00" y2="314.40" stroke="#222" stroke-width="0.7"/>
<text x="143.2" y="316.6" font-size="6.5" text-anchor="end" font-weight="normal" fill="#333" transform="rotate(-90 143.2 316.6)" stroke="#333" stroke-width="0.07">1-10 kb</text>
<line x1="147.45" y1="312.20" x2="147.45" y2="314.40" stroke="#222" stroke-width="0.7"/>
<text x="149.64999999999998" y="316.6" font-size="6.5" text-anchor="end" font-weight="normal" fill="#333" transform="rotate(-90 149.64999999999998 316.6)" stroke="#333" stroke-width="0.07">10-100 kb</text>
<line x1="153.90" y1="312.20" x2="153.90" y2="314.40" stroke="#222" stroke-width="0.7"/>
<text x="156.1" y="316.6" font-size="6.5" text-anchor="end" font-weight="normal" fill="#333" transform="rotate(-90 156.1 316.6)" stroke="#333" stroke-width="0.07">0.1-1 Mb</text>
<line x1="160.35" y1="312.20" x2="160.35" y2="314.40" stroke="#222" stroke-width="0.7"/>
<text x="162.54999999999998" y="316.6" font-size="6.5" text-anchor="end" font-weight="normal" fill="#333" transform="rotate(-90 162.54999999999998 316.6)" stroke="#333" stroke-width="0.07">1-10 Mb</text>
<line x1="166.80" y1="312.20" x2="166.80" y2="314.40" stroke="#222" stroke-width="0.7"/>
<text x="169.0" y="316.6" font-size="6.5" text-anchor="end" font-weight="normal" fill="#333" transform="rotate(-90 169.0 316.6)" stroke="#333" stroke-width="0.07">&gt;10 Mb</text>
<text x="229.0" y="250.8" font-size="8.4" text-anchor="middle" font-weight="normal" fill="#222" stroke="#222" stroke-width="0.1">INV</text>
<rect x="206.65" y="311.84" width="4.90" height="0.36" fill="#5ec3dc" stroke="none" stroke-width="1"/>
<rect x="213.10" y="283.29" width="4.90" height="28.91" fill="#5ec3dc" stroke="none" stroke-width="1"/>
<rect x="219.55" y="282.57" width="4.90" height="29.63" fill="#5ec3dc" stroke="none" stroke-width="1"/>
<rect x="226.00" y="300.82" width="4.90" height="11.38" fill="#5ec3dc" stroke="none" stroke-width="1"/>
<rect x="232.45" y="300.82" width="4.90" height="11.38" fill="#5ec3dc" stroke="none" stroke-width="1"/>
<rect x="238.90" y="300.10" width="4.90" height="12.10" fill="#5ec3dc" stroke="none" stroke-width="1"/>
<rect x="245.35" y="303.35" width="4.90" height="8.85" fill="#5ec3dc" stroke="none" stroke-width="1"/>
<line x1="204.60" y1="256.50" x2="204.60" y2="312.70" stroke="#222" stroke-width="1"/>
<line x1="202.10" y1="312.20" x2="253.10" y2="312.20" stroke="#222" stroke-width="1"/>
<line x1="200.60" y1="312.20" x2="204.60" y2="312.20" stroke="#222" stroke-width="0.9"/>
<text x="199.0" y="314.4" font-size="6.3" text-anchor="end" font-weight="normal" fill="#333" textLength="3.55" lengthAdjust="spacingAndGlyphs" stroke="#333" stroke-width="0.07">0</text>
<line x1="200.60" y1="303.17" x2="204.60" y2="303.17" stroke="#222" stroke-width="0.9"/>
<text x="199.0" y="305.3666666666666" font-size="6.3" text-anchor="end" font-weight="normal" fill="#333" textLength="7.1" lengthAdjust="spacingAndGlyphs" stroke="#333" stroke-width="0.07">50</text>
<line x1="200.60" y1="294.13" x2="204.60" y2="294.13" stroke="#222" stroke-width="0.9"/>
<text x="199.0" y="296.3333333333333" font-size="6.3" text-anchor="end" font-weight="normal" fill="#333" textLength="10.649999999999999" lengthAdjust="spacingAndGlyphs" stroke="#333" stroke-width="0.07">100</text>
<line x1="200.60" y1="285.10" x2="204.60" y2="285.10" stroke="#222" stroke-width="0.9"/>
<text x="199.0" y="287.29999999999995" font-size="6.3" text-anchor="end" font-weight="normal" fill="#333" textLength="10.649999999999999" lengthAdjust="spacingAndGlyphs" stroke="#333" stroke-width="0.07">150</text>
<line x1="200.60" y1="276.07" x2="204.60" y2="276.07" stroke="#222" stroke-width="0.9"/>
<text x="199.0" y="278.26666666666665" font-size="6.3" text-anchor="end" font-weight="normal" fill="#333" textLength="10.649999999999999" lengthAdjust="spacingAndGlyphs" stroke="#333" stroke-width="0.07">200</text>
<line x1="200.60" y1="267.03" x2="204.60" y2="267.03" stroke="#222" stroke-width="0.9"/>
<text x="199.0" y="269.2333333333333" font-size="6.3" text-anchor="end" font-weight="normal" fill="#333" textLength="10.649999999999999" lengthAdjust="spacingAndGlyphs" stroke="#333" stroke-width="0.07">250</text>
<line x1="200.60" y1="258.00" x2="204.60" y2="258.00" stroke="#222" stroke-width="0.9"/>
<text x="199.0" y="260.2" font-size="6.3" text-anchor="end" font-weight="normal" fill="#333" textLength="10.649999999999999" lengthAdjust="spacingAndGlyphs" stroke="#333" stroke-width="0.07">300</text>
<line x1="209.10" y1="312.20" x2="209.10" y2="314.40" stroke="#222" stroke-width="0.7"/>
<text x="211.29999999999998" y="316.6" font-size="6.5" text-anchor="end" font-weight="normal" fill="#333" transform="rotate(-90 211.29999999999998 316.6)" stroke="#333" stroke-width="0.07">&lt;0.1 kb</text>
<line x1="215.55" y1="312.20" x2="215.55" y2="314.40" stroke="#222" stroke-width="0.7"/>
<text x="217.74999999999997" y="316.6" font-size="6.5" text-anchor="end" font-weight="normal" fill="#333" transform="rotate(-90 217.74999999999997 316.6)" stroke="#333" stroke-width="0.07">0.1-1 kb</text>
<line x1="222.00" y1="312.20" x2="222.00" y2="314.40" stroke="#222" stroke-width="0.7"/>
<text x="224.2" y="316.6" font-size="6.5" text-anchor="end" font-weight="normal" fill="#333" transform="rotate(-90 224.2 316.6)" stroke="#333" stroke-width="0.07">1-10 kb</text>
<line x1="228.45" y1="312.20" x2="228.45" y2="314.40" stroke="#222" stroke-width="0.7"/>
<text x="230.64999999999998" y="316.6" font-size="6.5" text-anchor="end" font-weight="normal" fill="#333" transform="rotate(-90 230.64999999999998 316.6)" stroke="#333" stroke-width="0.07">10-100 kb</text>
<line x1="234.90" y1="312.20" x2="234.90" y2="314.40" stroke="#222" stroke-width="0.7"/>
<text x="237.1" y="316.6" font-size="6.5" text-anchor="end" font-weight="normal" fill="#333" transform="rotate(-90 237.1 316.6)" stroke="#333" stroke-width="0.07">0.1-1 Mb</text>
<line x1="241.35" y1="312.20" x2="241.35" y2="314.40" stroke="#222" stroke-width="0.7"/>
<text x="243.54999999999998" y="316.6" font-size="6.5" text-anchor="end" font-weight="normal" fill="#333" transform="rotate(-90 243.54999999999998 316.6)" stroke="#333" stroke-width="0.07">1-10 Mb</text>
<line x1="247.80" y1="312.20" x2="247.80" y2="314.40" stroke="#222" stroke-width="0.7"/>
<text x="250.0" y="316.6" font-size="6.5" text-anchor="end" font-weight="normal" fill="#333" transform="rotate(-90 250.0 316.6)" stroke="#333" stroke-width="0.07">&gt;10 Mb</text>
<text x="310.4" y="250.8" font-size="8.4" text-anchor="middle" font-weight="normal" fill="#222" stroke="#222" stroke-width="0.1">TL</text>
<rect x="287.45" y="310.57" width="4.90" height="1.63" fill="#f7b8c5" stroke="none" stroke-width="1"/>
<rect x="293.90" y="290.71" width="4.90" height="21.49" fill="#f7b8c5" stroke="none" stroke-width="1"/>
<rect x="300.35" y="279.56" width="4.90" height="32.64" fill="#f7b8c5" stroke="none" stroke-width="1"/>
<rect x="306.80" y="303.77" width="4.90" height="8.43" fill="#f7b8c5" stroke="none" stroke-width="1"/>
<rect x="313.25" y="303.77" width="4.90" height="8.43" fill="#f7b8c5" stroke="none" stroke-width="1"/>
<rect x="319.70" y="305.67" width="4.90" height="6.53" fill="#f7b8c5" stroke="none" stroke-width="1"/>
<rect x="326.15" y="299.69" width="4.90" height="12.51" fill="#f7b8c5" stroke="none" stroke-width="1"/>
<line x1="285.40" y1="256.30" x2="285.40" y2="312.70" stroke="#222" stroke-width="1"/>
<line x1="282.90" y1="312.20" x2="333.90" y2="312.20" stroke="#222" stroke-width="1"/>
<line x1="281.40" y1="312.20" x2="285.40" y2="312.20" stroke="#222" stroke-width="0.9"/>
<text x="279.79999999999995" y="314.4" font-size="6.3" text-anchor="end" font-weight="normal" fill="#333" textLength="3.55" lengthAdjust="spacingAndGlyphs" stroke="#333" stroke-width="0.07">0</text>
<line x1="281.40" y1="298.60" x2="285.40" y2="298.60" stroke="#222" stroke-width="0.9"/>
<text x="279.79999999999995" y="300.79999999999995" font-size="6.3" text-anchor="end" font-weight="normal" fill="#333" textLength="7.1" lengthAdjust="spacingAndGlyphs" stroke="#333" stroke-width="0.07">50</text>
<line x1="281.40" y1="285.00" x2="285.40" y2="285.00" stroke="#222" stroke-width="0.9"/>
<text x="279.79999999999995" y="287.2" font-size="6.3" text-anchor="end" font-weight="normal" fill="#333" textLength="10.649999999999999" lengthAdjust="spacingAndGlyphs" stroke="#333" stroke-width="0.07">100</text>
<line x1="281.40" y1="271.40" x2="285.40" y2="271.40" stroke="#222" stroke-width="0.9"/>
<text x="279.79999999999995" y="273.59999999999997" font-size="6.3" text-anchor="end" font-weight="normal" fill="#333" textLength="10.649999999999999" lengthAdjust="spacingAndGlyphs" stroke="#333" stroke-width="0.07">150</text>
<line x1="281.40" y1="257.80" x2="285.40" y2="257.80" stroke="#222" stroke-width="0.9"/>
<text x="279.79999999999995" y="259.99999999999994" font-size="6.3" text-anchor="end" font-weight="normal" fill="#333" textLength="10.649999999999999" lengthAdjust="spacingAndGlyphs" stroke="#333" stroke-width="0.07">200</text>
<line x1="289.90" y1="312.20" x2="289.90" y2="314.40" stroke="#222" stroke-width="0.7"/>
<text x="292.09999999999997" y="316.6" font-size="6.5" text-anchor="end" font-weight="normal" fill="#333" transform="rotate(-90 292.09999999999997 316.6)" stroke="#333" stroke-width="0.07">&lt;0.1 kb</text>
<line x1="296.35" y1="312.20" x2="296.35" y2="314.40" stroke="#222" stroke-width="0.7"/>
<text x="298.54999999999995" y="316.6" font-size="6.5" text-anchor="end" font-weight="normal" fill="#333" transform="rotate(-90 298.54999999999995 316.6)" stroke="#333" stroke-width="0.07">0.1-1 kb</text>
<line x1="302.80" y1="312.20" x2="302.80" y2="314.40" stroke="#222" stroke-width="0.7"/>
<text x="304.99999999999994" y="316.6" font-size="6.5" text-anchor="end" font-weight="normal" fill="#333" transform="rotate(-90 304.99999999999994 316.6)" stroke="#333" stroke-width="0.07">1-10 kb</text>
<line x1="309.25" y1="312.20" x2="309.25" y2="314.40" stroke="#222" stroke-width="0.7"/>
<text x="311.45" y="316.6" font-size="6.5" text-anchor="end" font-weight="normal" fill="#333" transform="rotate(-90 311.45 316.6)" stroke="#333" stroke-width="0.07">10-100 kb</text>
<line x1="315.70" y1="312.20" x2="315.70" y2="314.40" stroke="#222" stroke-width="0.7"/>
<text x="317.9" y="316.6" font-size="6.5" text-anchor="end" font-weight="normal" fill="#333" transform="rotate(-90 317.9 316.6)" stroke="#333" stroke-width="0.07">0.1-1 Mb</text>
<line x1="322.15" y1="312.20" x2="322.15" y2="314.40" stroke="#222" stroke-width="0.7"/>
<text x="324.34999999999997" y="316.6" font-size="6.5" text-anchor="end" font-weight="normal" fill="#333" transform="rotate(-90 324.34999999999997 316.6)" stroke="#333" stroke-width="0.07">1-10 Mb</text>
<line x1="328.60" y1="312.20" x2="328.60" y2="314.40" stroke="#222" stroke-width="0.7"/>
<text x="330.79999999999995" y="316.6" font-size="6.5" text-anchor="end" font-weight="normal" fill="#333" transform="rotate(-90 330.79999999999995 316.6)" stroke="#333" stroke-width="0.07">&gt;10 Mb</text>
<text x="13.0" y="283.8" font-size="7.6" text-anchor="middle" font-weight="normal" fill="#333" textLength="43" lengthAdjust="spacingAndGlyphs" transform="rotate(-90 13.0 283.8)" stroke="#333" stroke-width="0.16">Number of SVs</text>
<text x="7.0" y="371.8" font-size="11" text-anchor="start" font-weight="bold" fill="#111">D</text>
<rect x="64.80" y="413.10" width="6.70" height="0.53" fill="#66bb78" stroke="none" stroke-width="1"/>
<rect x="71.50" y="413.10" width="6.70" height="0.39" fill="#f28b66" stroke="none" stroke-width="1"/>
<rect x="78.20" y="410.74" width="6.70" height="2.36" fill="#5ec3dc" stroke="none" stroke-width="1"/>
<rect x="84.90" y="413.10" width="6.70" height="0.53" fill="#f7b8c5" stroke="none" stroke-width="1"/>
<rect x="98.80" y="402.08" width="6.70" height="11.03" fill="#66bb78" stroke="none" stroke-width="1"/>
<rect x="105.50" y="410.21" width="6.70" height="2.89" fill="#f28b66" stroke="none" stroke-width="1"/>
<rect x="112.20" y="405.75" width="6.70" height="7.35" fill="#5ec3dc" stroke="none" stroke-width="1"/>
<rect x="118.90" y="397.88" width="6.70" height="15.22" fill="#f7b8c5" stroke="none" stroke-width="1"/>
<rect x="132.30" y="398.66" width="6.70" height="14.44" fill="#66bb78" stroke="none" stroke-width="1"/>
<rect x="139.00" y="402.08" width="6.70" height="11.03" fill="#f28b66" stroke="none" stroke-width="1"/>
<rect x="145.70" y="413.10" width="6.70" height="19.69" fill="#5ec3dc" stroke="none" stroke-width="1"/>
<rect x="152.40" y="394.46" width="6.70" height="18.64" fill="#f7b8c5" stroke="none" stroke-width="1"/>
<rect x="166.50" y="413.10" width="6.70" height="3.41" fill="#66bb78" stroke="none" stroke-width="1"/>
<rect x="173.20" y="404.96" width="6.70" height="8.14" fill="#f28b66" stroke="none" stroke-width="1"/>
<rect x="179.90" y="413.10" width="6.70" height="18.38" fill="#5ec3dc" stroke="none" stroke-width="1"/>
<rect x="186.60" y="413.10" width="6.70" height="12.86" fill="#f7b8c5" stroke="none" stroke-width="1"/>
<rect x="200.60" y="413.10" width="6.70" height="0.26" fill="#66bb78" stroke="none" stroke-width="1"/>
<rect x="207.30" y="413.10" width="6.70" height="0.26" fill="#f28b66" stroke="none" stroke-width="1"/>
<rect x="214.00" y="413.10" width="6.70" height="5.51" fill="#5ec3dc" stroke="none" stroke-width="1"/>
<rect x="220.70" y="413.10" width="6.70" height="0.79" fill="#f7b8c5" stroke="none" stroke-width="1"/>
<rect x="234.10" y="413.10" width="6.70" height="12.86" fill="#66bb78" stroke="none" stroke-width="1"/>
<rect x="240.80" y="413.10" width="6.70" height="23.10" fill="#f28b66" stroke="none" stroke-width="1"/>
<rect x="247.50" y="413.10" width="6.70" height="10.50" fill="#5ec3dc" stroke="none" stroke-width="1"/>
<rect x="254.20" y="390.00" width="6.70" height="23.10" fill="#f7b8c5" stroke="none" stroke-width="1"/>
<line x1="59.80" y1="413.10" x2="266.30" y2="413.10" stroke="#444" stroke-width="0.9"/>
<line x1="59.80" y1="386.50" x2="59.80" y2="440.30" stroke="#222" stroke-width="1"/>
<line x1="55.80" y1="386.85" x2="59.80" y2="386.85" stroke="#222" stroke-width="0.9"/>
<text x="54.199999999999996" y="389.05" font-size="6.3" text-anchor="end" font-weight="normal" fill="#333" stroke="#333" stroke-width="0.07">1.0</text>
<line x1="55.80" y1="399.98" x2="59.80" y2="399.98" stroke="#222" stroke-width="0.9"/>
<text x="54.199999999999996" y="402.175" font-size="6.3" text-anchor="end" font-weight="normal" fill="#333" stroke="#333" stroke-width="0.07">0.5</text>
<line x1="55.80" y1="413.10" x2="59.80" y2="413.10" stroke="#222" stroke-width="0.9"/>
<text x="54.199999999999996" y="415.3" font-size="6.3" text-anchor="end" font-weight="normal" fill="#333" stroke="#333" stroke-width="0.07">0</text>
<line x1="55.80" y1="426.23" x2="59.80" y2="426.23" stroke="#222" stroke-width="0.9"/>
<text x="54.199999999999996" y="428.425" font-size="6.3" text-anchor="end" font-weight="normal" fill="#333" stroke="#333" stroke-width="0.07">−0.5</text>
<line x1="55.80" y1="439.35" x2="59.80" y2="439.35" stroke="#222" stroke-width="0.9"/>
<text x="54.199999999999996" y="441.55" font-size="6.3" text-anchor="end" font-weight="normal" fill="#333" stroke="#333" stroke-width="0.07">−1.0</text>
<text x="26.2" y="414" font-size="7.2" text-anchor="middle" fill="#333" stroke="#333" stroke-width="0.1" transform="rotate(-90 26.2 414)">log<tspan font-size="4.8" dy="1.6">2</tspan><tspan dy="-1.6">(observed/</tspan></text>
<text x="34.6" y="413.0" font-size="7.2" text-anchor="middle" font-weight="normal" fill="#333" textLength="28" lengthAdjust="spacingAndGlyphs" transform="rotate(-90 34.6 413.0)" stroke="#333" stroke-width="0.1">expected)</text>
<rect x="273.10" y="406.90" width="3.80" height="3.80" fill="#66bb78" stroke="none" stroke-width="1"/>
<text x="280.0" y="410.90000000000003" font-size="5.9" text-anchor="start" font-weight="normal" fill="#333" stroke="#333" stroke-width="0.05">DEL</text>
<rect x="273.10" y="416.05" width="3.80" height="3.80" fill="#f28b66" stroke="none" stroke-width="1"/>
<text x="280.0" y="420.05" font-size="5.9" text-anchor="start" font-weight="normal" fill="#333" stroke="#333" stroke-width="0.05">DUP</text>
<rect x="273.10" y="425.20" width="3.80" height="3.80" fill="#5ec3dc" stroke="none" stroke-width="1"/>
<text x="280.0" y="429.20000000000005" font-size="5.9" text-anchor="start" font-weight="normal" fill="#333" stroke="#333" stroke-width="0.05">INV</text>
<rect x="273.10" y="434.35" width="3.80" height="3.80" fill="#f7b8c5" stroke="none" stroke-width="1"/>
<text x="280.0" y="438.35" font-size="5.9" text-anchor="start" font-weight="normal" fill="#333" stroke="#333" stroke-width="0.05">TL</text>
<line x1="60.80" y1="457.50" x2="122.50" y2="457.50" stroke="#8a8a8a" stroke-width="1.1"/>
<rect x="122.50" y="455.50" width="21.50" height="3.80" fill="#8c8c8c" stroke="none" stroke-width="1"/>
<rect x="143.80" y="453.50" width="32.80" height="8.00" fill="#7a7a7a" stroke="none" stroke-width="1"/>
<line x1="176.60" y1="457.50" x2="208.00" y2="457.50" stroke="#8a8a8a" stroke-width="1.1"/>
<rect x="208.00" y="453.50" width="28.90" height="8.00" fill="#7a7a7a" stroke="none" stroke-width="1"/>
<rect x="236.90" y="455.50" width="19.00" height="3.80" fill="#8c8c8c" stroke="none" stroke-width="1"/>
<line x1="255.80" y1="457.50" x2="266.60" y2="457.50" stroke="#8a8a8a" stroke-width="1.1"/>
<path d="M122.6,457.5 L122.6,448.3 L126.8,448.3" fill="none" stroke="#222" stroke-width="0.7"/>
<path d="M128.8,448.3 L126.3,447.1 L126.3,449.5 Z" fill="#222" stroke="none" stroke-width="1"/>
<line x1="61.00" y1="414.00" x2="61.00" y2="457.00" stroke="#333" stroke-width="0.7" stroke-dasharray="1.8,1.2"/>
<line x1="95.50" y1="414.00" x2="92.30" y2="457.00" stroke="#333" stroke-width="0.7" stroke-dasharray="1.8,1.2"/>
<line x1="128.80" y1="414.00" x2="125.00" y2="446.00" stroke="#333" stroke-width="0.7" stroke-dasharray="1.8,1.2"/>
<line x1="163.50" y1="414.00" x2="145.50" y2="453.00" stroke="#333" stroke-width="0.7" stroke-dasharray="1.8,1.2"/>
<line x1="197.20" y1="414.00" x2="177.20" y2="453.00" stroke="#333" stroke-width="0.7" stroke-dasharray="1.8,1.2"/>
<line x1="230.40" y1="414.00" x2="209.60" y2="453.00" stroke="#333" stroke-width="0.7" stroke-dasharray="1.8,1.2"/>
<line x1="230.40" y1="414.00" x2="236.60" y2="455.00" stroke="#333" stroke-width="0.7" stroke-dasharray="1.8,1.2"/>
<line x1="265.00" y1="414.00" x2="256.30" y2="455.00" stroke="#333" stroke-width="0.7" stroke-dasharray="1.8,1.2"/>
<text x="62.8" y="453.2" font-size="6.5" text-anchor="start" font-weight="normal" fill="#333" textLength="27.7" lengthAdjust="spacingAndGlyphs" stroke="#333" stroke-width="0.16">Intergenic</text>
<text x="93.9" y="453.2" font-size="6.5" text-anchor="start" font-weight="normal" fill="#333" textLength="26.8" lengthAdjust="spacingAndGlyphs" stroke="#333" stroke-width="0.16">Promoter</text>
<text x="127.7" y="444.6" font-size="6.5" text-anchor="start" font-weight="normal" fill="#333" textLength="19.1" lengthAdjust="spacingAndGlyphs" stroke="#333" stroke-width="0.16">5′ UTR</text>
<text x="155.8" y="450.3" font-size="6.5" text-anchor="start" font-weight="normal" fill="#333" textLength="13" lengthAdjust="spacingAndGlyphs" stroke="#333" stroke-width="0.16">CDS</text>
<text x="187.2" y="452.6" font-size="6.5" text-anchor="start" font-weight="normal" fill="#333" textLength="16.2" lengthAdjust="spacingAndGlyphs" stroke="#333" stroke-width="0.16">Intron</text>
<text x="236.9" y="452.0" font-size="6.5" text-anchor="start" font-weight="normal" fill="#333" textLength="18.1" lengthAdjust="spacingAndGlyphs" stroke="#333" stroke-width="0.16">3′ UTR</text>
<text x="379.3" y="237.6" font-size="11" text-anchor="start" font-weight="bold" fill="#111">E</text>
<text x="419.9" y="248.4" font-size="6.4" text-anchor="middle" font-weight="normal" fill="#333" stroke="#333" stroke-width="0.06">Total</text>
<circle cx="421" cy="273.3" r="20.5" fill="#9bd3e6" stroke="#3d5a66" stroke-width="0.8"/>
<path d="M421,273.3 L441.50,273.30 A20.5,20.5 0 0 0 417.16,253.16 Z" fill="#fff" stroke="#3d5a66" stroke-width="0.8"/>
<text x="429" y="266.6" font-size="6.4" text-anchor="middle" font-weight="normal" fill="#333" stroke="#333" stroke-width="0.08">28%</text>
<text x="414.7" y="281.9" font-size="6.4" text-anchor="middle" font-weight="normal" fill="#333" stroke="#333" stroke-width="0.08">72%</text>
<text x="396.5" y="319.59999999999997" font-size="6.4" text-anchor="middle" font-weight="normal" fill="#333" stroke="#333" stroke-width="0.06">DEL</text>
<circle cx="421" cy="317.4" r="16.3" fill="#9bd3e6" stroke="#3d5a66" stroke-width="0.8"/>
<path d="M421,317.4 L437.30,317.40 A16.3,16.3 0 0 0 427.94,302.65 Z" fill="#fff" stroke="#3d5a66" stroke-width="0.8"/>
<text x="396.5" y="358.2" font-size="6.4" text-anchor="middle" font-weight="normal" fill="#333" stroke="#333" stroke-width="0.06">DUP</text>
<circle cx="421" cy="356.0" r="16.3" fill="#9bd3e6" stroke="#3d5a66" stroke-width="0.8"/>
<path d="M421,356.0 L437.30,356.00 A16.3,16.3 0 0 0 427.00,340.84 Z" fill="#fff" stroke="#3d5a66" stroke-width="0.8"/>
<text x="396.5" y="397.09999999999997" font-size="6.4" text-anchor="middle" font-weight="normal" fill="#333" stroke="#333" stroke-width="0.06">INV</text>
<circle cx="421" cy="394.9" r="16.3" fill="#9bd3e6" stroke="#3d5a66" stroke-width="0.8"/>
<path d="M421,394.9 L437.30,394.90 A16.3,16.3 0 0 0 410.61,382.34 Z" fill="#fff" stroke="#3d5a66" stroke-width="0.8"/>
<text x="396.5" y="435.5" font-size="6.4" text-anchor="middle" font-weight="normal" fill="#333" stroke="#333" stroke-width="0.06">TL</text>
<circle cx="421" cy="433.3" r="16.3" fill="#9bd3e6" stroke="#3d5a66" stroke-width="0.8"/>
<path d="M421,433.3 L437.30,433.30 A16.3,16.3 0 0 0 419.98,417.03 Z" fill="#fff" stroke="#3d5a66" stroke-width="0.8"/>
<text x="430.6" y="315.6" font-size="6.4" text-anchor="middle" font-weight="normal" fill="#333" stroke="#333" stroke-width="0.08">18%</text>
<text x="417.6" y="325.2" font-size="6.4" text-anchor="middle" font-weight="normal" fill="#333" stroke="#333" stroke-width="0.08">82%</text>
<text x="430.6" y="354.0" font-size="6.4" text-anchor="middle" font-weight="normal" fill="#333" stroke="#333" stroke-width="0.08">19%</text>
<text x="417.6" y="363.8" font-size="6.4" text-anchor="middle" font-weight="normal" fill="#333" stroke="#333" stroke-width="0.08">81%</text>
<text x="426.5" y="389.8" font-size="6.4" text-anchor="middle" font-weight="normal" fill="#333" stroke="#333" stroke-width="0.08">36%</text>
<text x="414.5" y="402.5" font-size="6.4" text-anchor="middle" font-weight="normal" fill="#333" stroke="#333" stroke-width="0.08">64%</text>
<text x="428.6" y="429.4" font-size="6.4" text-anchor="middle" font-weight="normal" fill="#333" stroke="#333" stroke-width="0.08">26%</text>
<text x="414.5" y="441.2" font-size="6.4" text-anchor="middle" font-weight="normal" fill="#333" stroke="#333" stroke-width="0.08">74%</text>
<rect x="445.80" y="426.20" width="3.60" height="3.60" fill="#fff" stroke="#333" stroke-width="0.6"/>
<rect x="445.80" y="436.40" width="3.60" height="3.60" fill="#9bd3e6" stroke="#333" stroke-width="0.6"/>
<text x="451.6" y="430.3" font-size="6.8" text-anchor="start" font-weight="normal" fill="#333" textLength="21.3" lengthAdjust="spacingAndGlyphs" stroke="#333" stroke-width="0.06">Coding</text>
<text x="451.6" y="440.5" font-size="6.8" text-anchor="start" font-weight="normal" fill="#333" textLength="34.6" lengthAdjust="spacingAndGlyphs" stroke="#333" stroke-width="0.06">Non-coding</text>
<text x="7.1" y="488.2" font-size="11" text-anchor="start" font-weight="bold" fill="#111">F</text>
<rect x="55.80" y="492.80" width="273.00" height="100.80" fill="#fdfdfd" stroke="#8f8f8f" stroke-width="1.0"/>
<text x="59.2" y="499.6" font-size="6.8" text-anchor="start" font-weight="normal" fill="#222" textLength="86.5" lengthAdjust="spacingAndGlyphs" stroke="#222" stroke-width="0.16">chr5:169,851,042-171,565,991</text>
<text x="59.2" y="522.6" font-size="6.8" text-anchor="start" font-weight="normal" fill="#222" textLength="86.5" lengthAdjust="spacingAndGlyphs" stroke="#222" stroke-width="0.16">chr14:98,351,220-99,760,181</text>
<rect x="224.50" y="505.80" width="86.50" height="18.20" fill="#eeedf0" stroke="none" stroke-width="1"/>
<rect x="225.00" y="505.80" width="1.05" height="18.20" fill="#fafafa" stroke="none" stroke-width="1"/>
<rect x="228.21" y="505.80" width="1.38" height="18.20" fill="#e0dce4" stroke="none" stroke-width="1"/>
<rect x="230.73" y="505.80" width="1.19" height="18.20" fill="#dcd8e0" stroke="none" stroke-width="1"/>
<rect x="233.84" y="505.80" width="1.08" height="18.20" fill="#fafafa" stroke="none" stroke-width="1"/>
<rect x="236.92" y="505.80" width="0.69" height="18.20" fill="#cfcad4" stroke="none" stroke-width="1"/>
<rect x="238.71" y="505.80" width="1.14" height="18.20" fill="#ffffff" stroke="none" stroke-width="1"/>
<rect x="241.48" y="505.80" width="1.20" height="18.20" fill="#e0dce4" stroke="none" stroke-width="1"/>
<rect x="244.91" y="505.80" width="1.25" height="18.20" fill="#fafafa" stroke="none" stroke-width="1"/>
<rect x="247.71" y="505.80" width="1.22" height="18.20" fill="#fafafa" stroke="none" stroke-width="1"/>
<rect x="249.33" y="505.80" width="0.64" height="18.20" fill="#dcd8e0" stroke="none" stroke-width="1"/>
<rect x="252.03" y="505.80" width="1.38" height="18.20" fill="#cfcad4" stroke="none" stroke-width="1"/>
<rect x="254.41" y="505.80" width="1.44" height="18.20" fill="#fafafa" stroke="none" stroke-width="1"/>
<rect x="256.38" y="505.80" width="0.89" height="18.20" fill="#d6d2da" stroke="none" stroke-width="1"/>
<rect x="259.20" y="505.80" width="1.06" height="18.20" fill="#cfcad4" stroke="none" stroke-width="1"/>
<rect x="261.52" y="505.80" width="1.15" height="18.20" fill="#d6d2da" stroke="none" stroke-width="1"/>
<rect x="264.43" y="505.80" width="0.92" height="18.20" fill="#dcd8e0" stroke="none" stroke-width="1"/>
<rect x="266.96" y="505.80" width="0.63" height="18.20" fill="#fafafa" stroke="none" stroke-width="1"/>
<rect x="269.99" y="505.80" width="1.00" height="18.20" fill="#cfcad4" stroke="none" stroke-width="1"/>
<rect x="272.26" y="505.80" width="1.56" height="18.20" fill="#ffffff" stroke="none" stroke-width="1"/>
<rect x="273.77" y="505.80" width="0.81" height="18.20" fill="#d6d2da" stroke="none" stroke-width="1"/>
<rect x="276.21" y="505.80" width="1.58" height="18.20" fill="#e0dce4" stroke="none" stroke-width="1"/>
<rect x="278.55" y="505.80" width="1.17" height="18.20" fill="#dcd8e0" stroke="none" stroke-width="1"/>
<rect x="281.60" y="505.80" width="0.87" height="18.20" fill="#d6d2da" stroke="none" stroke-width="1"/>
<rect x="283.72" y="505.80" width="0.62" height="18.20" fill="#e0dce4" stroke="none" stroke-width="1"/>
<rect x="286.74" y="505.80" width="0.72" height="18.20" fill="#dcd8e0" stroke="none" stroke-width="1"/>
<rect x="289.65" y="505.80" width="0.61" height="18.20" fill="#e0dce4" stroke="none" stroke-width="1"/>
<rect x="292.75" y="505.80" width="0.78" height="18.20" fill="#fafafa" stroke="none" stroke-width="1"/>
<rect x="294.63" y="505.80" width="1.11" height="18.20" fill="#ffffff" stroke="none" stroke-width="1"/>
<rect x="297.66" y="505.80" width="1.02" height="18.20" fill="#e0dce4" stroke="none" stroke-width="1"/>
<rect x="299.40" y="505.80" width="1.02" height="18.20" fill="#dcd8e0" stroke="none" stroke-width="1"/>
<rect x="300.90" y="505.80" width="1.46" height="18.20" fill="#fafafa" stroke="none" stroke-width="1"/>
<rect x="303.01" y="505.80" width="1.48" height="18.20" fill="#dcd8e0" stroke="none" stroke-width="1"/>
<rect x="304.88" y="505.80" width="1.60" height="18.20" fill="#fafafa" stroke="none" stroke-width="1"/>
<rect x="307.67" y="505.80" width="0.70" height="18.20" fill="#dcd8e0" stroke="none" stroke-width="1"/>
<rect x="309.59" y="505.80" width="0.86" height="18.20" fill="#fafafa" stroke="none" stroke-width="1"/>
<rect x="79.00" y="528.50" width="0.68" height="10.50" fill="#e6d8e4" stroke="none" stroke-width="1"/>
<rect x="80.67" y="528.50" width="0.63" height="10.50" fill="#ddd2de" stroke="none" stroke-width="1"/>
<rect x="82.21" y="528.50" width="0.72" height="10.50" fill="#e9e2ea" stroke="none" stroke-width="1"/>
<rect x="84.75" y="528.50" width="1.08" height="10.50" fill="#d6ccd8" stroke="none" stroke-width="1"/>
<rect x="88.16" y="528.50" width="0.58" height="10.50" fill="#d6ccd8" stroke="none" stroke-width="1"/>
<rect x="90.08" y="528.50" width="0.59" height="10.50" fill="#ddd2de" stroke="none" stroke-width="1"/>
<rect x="93.46" y="528.50" width="0.65" height="10.50" fill="#ddd2de" stroke="none" stroke-width="1"/>
<rect x="95.33" y="528.50" width="0.88" height="10.50" fill="#e9e2ea" stroke="none" stroke-width="1"/>
<rect x="97.28" y="528.50" width="1.07" height="10.50" fill="#d6ccd8" stroke="none" stroke-width="1"/>
<rect x="100.17" y="528.50" width="0.75" height="10.50" fill="#e6d8e4" stroke="none" stroke-width="1"/>
<rect x="101.92" y="528.50" width="0.81" height="10.50" fill="#ecdfe8" stroke="none" stroke-width="1"/>
<rect x="103.97" y="528.50" width="0.92" height="10.50" fill="#ecdfe8" stroke="none" stroke-width="1"/>
<rect x="106.44" y="528.50" width="1.04" height="10.50" fill="#d6ccd8" stroke="none" stroke-width="1"/>
<rect x="108.61" y="528.50" width="0.61" height="10.50" fill="#e6d8e4" stroke="none" stroke-width="1"/>
<rect x="110.40" y="528.50" width="0.79" height="10.50" fill="#e9e2ea" stroke="none" stroke-width="1"/>
<rect x="113.32" y="528.50" width="0.67" height="10.50" fill="#ddd2de" stroke="none" stroke-width="1"/>
<rect x="116.54" y="528.50" width="0.54" height="10.50" fill="#d6ccd8" stroke="none" stroke-width="1"/>
<rect x="119.06" y="528.50" width="0.54" height="10.50" fill="#ddd2de" stroke="none" stroke-width="1"/>
<rect x="121.21" y="528.50" width="0.82" height="10.50" fill="#ddd2de" stroke="none" stroke-width="1"/>
<rect x="122.92" y="528.50" width="0.58" height="10.50" fill="#d6ccd8" stroke="none" stroke-width="1"/>
<rect x="126.68" y="528.50" width="0.89" height="10.50" fill="#e9e2ea" stroke="none" stroke-width="1"/>
<rect x="129.52" y="528.50" width="0.58" height="10.50" fill="#e6d8e4" stroke="none" stroke-width="1"/>
<rect x="133.15" y="528.50" width="0.78" height="10.50" fill="#ecdfe8" stroke="none" stroke-width="1"/>
<rect x="136.26" y="528.50" width="1.08" height="10.50" fill="#e6d8e4" stroke="none" stroke-width="1"/>
<rect x="139.14" y="528.50" width="0.54" height="10.50" fill="#e6d8e4" stroke="none" stroke-width="1"/>
<rect x="142.32" y="528.50" width="0.69" height="10.50" fill="#e6d8e4" stroke="none" stroke-width="1"/>
<rect x="143.99" y="528.50" width="0.83" height="10.50" fill="#e6d8e4" stroke="none" stroke-width="1"/>
<rect x="147.56" y="528.50" width="0.94" height="10.50" fill="#ddd2de" stroke="none" stroke-width="1"/>
<rect x="150.88" y="528.50" width="1.05" height="10.50" fill="#ecdfe8" stroke="none" stroke-width="1"/>
<rect x="152.58" y="528.50" width="0.78" height="10.50" fill="#e6d8e4" stroke="none" stroke-width="1"/>
<rect x="156.08" y="528.50" width="0.75" height="10.50" fill="#e6d8e4" stroke="none" stroke-width="1"/>
<rect x="159.57" y="528.50" width="0.84" height="10.50" fill="#e9e2ea" stroke="none" stroke-width="1"/>
<rect x="162.59" y="528.50" width="0.73" height="10.50" fill="#e6d8e4" stroke="none" stroke-width="1"/>
<rect x="165.49" y="528.50" width="0.55" height="10.50" fill="#e6d8e4" stroke="none" stroke-width="1"/>
<rect x="169.28" y="528.50" width="1.03" height="10.50" fill="#ecdfe8" stroke="none" stroke-width="1"/>
<rect x="171.67" y="528.50" width="0.94" height="10.50" fill="#e9e2ea" stroke="none" stroke-width="1"/>
<rect x="174.22" y="528.50" width="0.78" height="10.50" fill="#e9e2ea" stroke="none" stroke-width="1"/>
<rect x="175.92" y="528.50" width="0.95" height="10.50" fill="#e6d8e4" stroke="none" stroke-width="1"/>
<rect x="178.13" y="528.50" width="0.55" height="10.50" fill="#e6d8e4" stroke="none" stroke-width="1"/>
<rect x="180.16" y="528.50" width="0.92" height="10.50" fill="#d6ccd8" stroke="none" stroke-width="1"/>
<rect x="183.45" y="528.50" width="0.90" height="10.50" fill="#d6ccd8" stroke="none" stroke-width="1"/>
<rect x="185.54" y="528.50" width="0.51" height="10.50" fill="#ecdfe8" stroke="none" stroke-width="1"/>
<rect x="187.37" y="528.50" width="0.87" height="10.50" fill="#e9e2ea" stroke="none" stroke-width="1"/>
<rect x="189.26" y="528.50" width="1.04" height="10.50" fill="#d6ccd8" stroke="none" stroke-width="1"/>
<rect x="191.91" y="528.50" width="0.64" height="10.50" fill="#d6ccd8" stroke="none" stroke-width="1"/>
<rect x="194.94" y="528.50" width="0.62" height="10.50" fill="#d6ccd8" stroke="none" stroke-width="1"/>
<rect x="198.29" y="528.50" width="0.95" height="10.50" fill="#ddd2de" stroke="none" stroke-width="1"/>
<rect x="201.81" y="528.50" width="0.73" height="10.50" fill="#e9e2ea" stroke="none" stroke-width="1"/>
<rect x="205.43" y="528.50" width="0.63" height="10.50" fill="#ddd2de" stroke="none" stroke-width="1"/>
<rect x="208.07" y="528.50" width="1.00" height="10.50" fill="#e6d8e4" stroke="none" stroke-width="1"/>
<rect x="211.21" y="528.50" width="1.07" height="10.50" fill="#ecdfe8" stroke="none" stroke-width="1"/>
<rect x="214.60" y="528.50" width="0.57" height="10.50" fill="#d6ccd8" stroke="none" stroke-width="1"/>
<rect x="216.73" y="528.50" width="0.63" height="10.50" fill="#d6ccd8" stroke="none" stroke-width="1"/>
<rect x="219.11" y="528.50" width="0.81" height="10.50" fill="#ecdfe8" stroke="none" stroke-width="1"/>
<rect x="222.26" y="528.50" width="1.01" height="10.50" fill="#e9e2ea" stroke="none" stroke-width="1"/>
<rect x="224.80" y="528.50" width="0.54" height="10.50" fill="#e6d8e4" stroke="none" stroke-width="1"/>
<rect x="226.94" y="528.50" width="0.86" height="10.50" fill="#ecdfe8" stroke="none" stroke-width="1"/>
<rect x="229.75" y="528.50" width="0.69" height="10.50" fill="#e9e2ea" stroke="none" stroke-width="1"/>
<rect x="231.29" y="528.50" width="0.58" height="10.50" fill="#d6ccd8" stroke="none" stroke-width="1"/>
<rect x="233.23" y="528.50" width="0.96" height="10.50" fill="#ecdfe8" stroke="none" stroke-width="1"/>
<rect x="235.28" y="528.50" width="0.58" height="10.50" fill="#e6d8e4" stroke="none" stroke-width="1"/>
<rect x="239.04" y="528.50" width="0.57" height="10.50" fill="#e6d8e4" stroke="none" stroke-width="1"/>
<rect x="241.99" y="528.50" width="0.89" height="10.50" fill="#ecdfe8" stroke="none" stroke-width="1"/>
<rect x="245.69" y="528.50" width="0.91" height="10.50" fill="#ddd2de" stroke="none" stroke-width="1"/>
<rect x="249.09" y="528.50" width="0.65" height="10.50" fill="#e6d8e4" stroke="none" stroke-width="1"/>
<rect x="252.33" y="528.50" width="0.82" height="10.50" fill="#e6d8e4" stroke="none" stroke-width="1"/>
<rect x="254.24" y="528.50" width="0.66" height="10.50" fill="#ecdfe8" stroke="none" stroke-width="1"/>
<rect x="256.98" y="528.50" width="1.07" height="10.50" fill="#e9e2ea" stroke="none" stroke-width="1"/>
<rect x="259.89" y="528.50" width="0.95" height="10.50" fill="#d6ccd8" stroke="none" stroke-width="1"/>
<rect x="263.34" y="528.50" width="0.92" height="10.50" fill="#ddd2de" stroke="none" stroke-width="1"/>
<rect x="265.04" y="528.50" width="1.06" height="10.50" fill="#d6ccd8" stroke="none" stroke-width="1"/>
<rect x="266.84" y="528.50" width="0.77" height="10.50" fill="#e6d8e4" stroke="none" stroke-width="1"/>
<rect x="269.21" y="528.50" width="0.84" height="10.50" fill="#e9e2ea" stroke="none" stroke-width="1"/>
<rect x="272.54" y="528.50" width="1.07" height="10.50" fill="#d6ccd8" stroke="none" stroke-width="1"/>
<rect x="274.79" y="528.50" width="1.09" height="10.50" fill="#e6d8e4" stroke="none" stroke-width="1"/>
<rect x="277.95" y="528.50" width="0.99" height="10.50" fill="#e6d8e4" stroke="none" stroke-width="1"/>
<rect x="279.94" y="528.50" width="1.04" height="10.50" fill="#e6d8e4" stroke="none" stroke-width="1"/>
<rect x="283.69" y="528.50" width="0.82" height="10.50" fill="#ecdfe8" stroke="none" stroke-width="1"/>
<rect x="285.79" y="528.50" width="0.93" height="10.50" fill="#e6d8e4" stroke="none" stroke-width="1"/>
<rect x="288.10" y="528.50" width="0.55" height="10.50" fill="#d6ccd8" stroke="none" stroke-width="1"/>
<rect x="290.38" y="528.50" width="0.75" height="10.50" fill="#ecdfe8" stroke="none" stroke-width="1"/>
<rect x="293.00" y="528.50" width="0.52" height="10.50" fill="#e6d8e4" stroke="none" stroke-width="1"/>
<rect x="295.49" y="528.50" width="0.52" height="10.50" fill="#e9e2ea" stroke="none" stroke-width="1"/>
<rect x="297.76" y="528.50" width="0.97" height="10.50" fill="#ddd2de" stroke="none" stroke-width="1"/>
<rect x="300.34" y="528.50" width="1.10" height="10.50" fill="#e9e2ea" stroke="none" stroke-width="1"/>
<rect x="303.78" y="528.50" width="0.91" height="10.50" fill="#d6ccd8" stroke="none" stroke-width="1"/>
<rect x="306.61" y="528.50" width="0.91" height="10.50" fill="#ddd2de" stroke="none" stroke-width="1"/>
<rect x="309.12" y="528.50" width="0.84" height="10.50" fill="#e9e2ea" stroke="none" stroke-width="1"/>
<rect x="223.20" y="505.80" width="1.10" height="18.20" fill="#8a7c8c" stroke="none" stroke-width="1"/>
<rect x="59.20" y="501.30" width="269.10" height="4.40" fill="#8ec452" stroke="none" stroke-width="1"/>
<rect x="199.36" y="501.30" width="2.13" height="4.40" fill="#b09450" stroke="none" stroke-width="1"/>
<rect x="127.97" y="501.30" width="1.84" height="4.40" fill="#a08a48" stroke="none" stroke-width="1"/>
<rect x="292.47" y="501.30" width="1.74" height="4.40" fill="#b88a4a" stroke="none" stroke-width="1"/>
<rect x="287.29" y="501.30" width="2.35" height="4.40" fill="#b09450" stroke="none" stroke-width="1"/>
<rect x="132.38" y="501.30" width="1.55" height="4.40" fill="#9a6436" stroke="none" stroke-width="1"/>
<rect x="202.88" y="501.30" width="1.56" height="4.40" fill="#b09450" stroke="none" stroke-width="1"/>
<rect x="160.28" y="501.30" width="1.62" height="4.40" fill="#ac7c42" stroke="none" stroke-width="1"/>
<rect x="197.54" y="501.30" width="1.38" height="4.40" fill="#a08a48" stroke="none" stroke-width="1"/>
<rect x="324.46" y="501.30" width="0.91" height="4.40" fill="#ac7c42" stroke="none" stroke-width="1"/>
<rect x="244.45" y="501.30" width="0.81" height="4.40" fill="#b09450" stroke="none" stroke-width="1"/>
<rect x="182.24" y="501.30" width="2.27" height="4.40" fill="#a08a48" stroke="none" stroke-width="1"/>
<rect x="306.77" y="501.30" width="1.16" height="4.40" fill="#9a6436" stroke="none" stroke-width="1"/>
<rect x="191.38" y="501.30" width="1.28" height="4.40" fill="#a08a48" stroke="none" stroke-width="1"/>
<rect x="310.06" y="501.30" width="2.26" height="4.40" fill="#b09450" stroke="none" stroke-width="1"/>
<rect x="144.25" y="501.30" width="1.03" height="4.40" fill="#b09450" stroke="none" stroke-width="1"/>
<rect x="67.09" y="501.30" width="1.14" height="4.40" fill="#bc7442" stroke="none" stroke-width="1"/>
<rect x="268.13" y="501.30" width="0.74" height="4.40" fill="#a46c3a" stroke="none" stroke-width="1"/>
<rect x="100.90" y="501.30" width="0.72" height="4.40" fill="#b88a4a" stroke="none" stroke-width="1"/>
<rect x="145.55" y="501.30" width="1.30" height="4.40" fill="#b09450" stroke="none" stroke-width="1"/>
<rect x="192.93" y="501.30" width="1.55" height="4.40" fill="#b09450" stroke="none" stroke-width="1"/>
<rect x="92.12" y="501.30" width="1.57" height="4.40" fill="#b88a4a" stroke="none" stroke-width="1"/>
<rect x="251.61" y="501.30" width="1.89" height="4.40" fill="#9a6436" stroke="none" stroke-width="1"/>
<rect x="65.43" y="501.30" width="1.78" height="4.40" fill="#a08a48" stroke="none" stroke-width="1"/>
<rect x="201.12" y="501.30" width="0.97" height="4.40" fill="#a46c3a" stroke="none" stroke-width="1"/>
<rect x="290.80" y="501.30" width="1.61" height="4.40" fill="#a46c3a" stroke="none" stroke-width="1"/>
<rect x="201.19" y="501.30" width="2.15" height="4.40" fill="#b09450" stroke="none" stroke-width="1"/>
<rect x="216.48" y="501.30" width="0.93" height="4.40" fill="#bc7442" stroke="none" stroke-width="1"/>
<rect x="227.54" y="501.30" width="1.29" height="4.40" fill="#a46c3a" stroke="none" stroke-width="1"/>
<rect x="143.89" y="501.30" width="1.24" height="4.40" fill="#a46c3a" stroke="none" stroke-width="1"/>
<rect x="117.68" y="501.30" width="2.40" height="4.40" fill="#ac7c42" stroke="none" stroke-width="1"/>
<rect x="95.11" y="501.30" width="1.11" height="4.40" fill="#bc7442" stroke="none" stroke-width="1"/>
<rect x="82.83" y="501.30" width="1.36" height="4.40" fill="#9a6436" stroke="none" stroke-width="1"/>
<rect x="282.30" y="501.30" width="1.42" height="4.40" fill="#a08a48" stroke="none" stroke-width="1"/>
<rect x="248.17" y="501.30" width="1.04" height="4.40" fill="#bc7442" stroke="none" stroke-width="1"/>
<rect x="242.91" y="501.30" width="0.73" height="4.40" fill="#a46c3a" stroke="none" stroke-width="1"/>
<rect x="211.99" y="501.30" width="1.31" height="4.40" fill="#a08a48" stroke="none" stroke-width="1"/>
<rect x="318.82" y="501.30" width="0.90" height="4.40" fill="#b09450" stroke="none" stroke-width="1"/>
<rect x="229.35" y="501.30" width="1.28" height="4.40" fill="#bc7442" stroke="none" stroke-width="1"/>
<rect x="282.51" y="501.30" width="2.06" height="4.40" fill="#9a6436" stroke="none" stroke-width="1"/>
<rect x="87.67" y="501.30" width="0.76" height="4.40" fill="#b09450" stroke="none" stroke-width="1"/>
<rect x="223.64" y="501.30" width="2.24" height="4.40" fill="#9a6436" stroke="none" stroke-width="1"/>
<rect x="98.49" y="501.30" width="1.01" height="4.40" fill="#a46c3a" stroke="none" stroke-width="1"/>
<rect x="105.45" y="501.30" width="0.97" height="4.40" fill="#b88a4a" stroke="none" stroke-width="1"/>
<rect x="307.70" y="501.30" width="0.86" height="4.40" fill="#ac7c42" stroke="none" stroke-width="1"/>
<rect x="95.25" y="501.30" width="1.86" height="4.40" fill="#ac7c42" stroke="none" stroke-width="1"/>
<rect x="264.22" y="501.30" width="1.26" height="4.40" fill="#9a6436" stroke="none" stroke-width="1"/>
<rect x="173.53" y="501.30" width="1.30" height="4.40" fill="#a46c3a" stroke="none" stroke-width="1"/>
<rect x="220.31" y="501.30" width="0.72" height="4.40" fill="#bc7442" stroke="none" stroke-width="1"/>
<rect x="70.16" y="501.30" width="1.04" height="4.40" fill="#9a6436" stroke="none" stroke-width="1"/>
<rect x="180.90" y="501.30" width="1.96" height="4.40" fill="#9a6436" stroke="none" stroke-width="1"/>
<rect x="306.35" y="501.30" width="1.73" height="4.40" fill="#ac7c42" stroke="none" stroke-width="1"/>
<rect x="196.62" y="501.30" width="0.73" height="4.40" fill="#ac7c42" stroke="none" stroke-width="1"/>
<rect x="274.14" y="501.30" width="1.90" height="4.40" fill="#a08a48" stroke="none" stroke-width="1"/>
<rect x="302.83" y="501.30" width="2.30" height="4.40" fill="#b09450" stroke="none" stroke-width="1"/>
<rect x="219.95" y="501.30" width="1.56" height="4.40" fill="#b88a4a" stroke="none" stroke-width="1"/>
<rect x="274.97" y="501.30" width="1.14" height="4.40" fill="#ac7c42" stroke="none" stroke-width="1"/>
<rect x="258.78" y="501.30" width="2.02" height="4.40" fill="#a08a48" stroke="none" stroke-width="1"/>
<rect x="309.55" y="501.30" width="0.93" height="4.40" fill="#b88a4a" stroke="none" stroke-width="1"/>
<rect x="295.09" y="501.30" width="1.88" height="4.40" fill="#a08a48" stroke="none" stroke-width="1"/>
<rect x="174.92" y="501.30" width="1.01" height="4.40" fill="#a46c3a" stroke="none" stroke-width="1"/>
<rect x="252.94" y="501.30" width="0.82" height="4.40" fill="#b88a4a" stroke="none" stroke-width="1"/>
<rect x="140.08" y="501.30" width="0.87" height="4.40" fill="#b88a4a" stroke="none" stroke-width="1"/>
<rect x="324.77" y="501.30" width="2.23" height="4.40" fill="#ac7c42" stroke="none" stroke-width="1"/>
<rect x="121.43" y="501.30" width="2.31" height="4.40" fill="#bc7442" stroke="none" stroke-width="1"/>
<rect x="139.33" y="501.30" width="1.07" height="4.40" fill="#9a6436" stroke="none" stroke-width="1"/>
<rect x="211.90" y="501.30" width="1.61" height="4.40" fill="#9a6436" stroke="none" stroke-width="1"/>
<rect x="197.19" y="501.30" width="1.55" height="4.40" fill="#a46c3a" stroke="none" stroke-width="1"/>
<rect x="247.21" y="501.30" width="1.99" height="4.40" fill="#b09450" stroke="none" stroke-width="1"/>
<rect x="65.32" y="501.30" width="1.75" height="4.40" fill="#bc7442" stroke="none" stroke-width="1"/>
<rect x="122.75" y="501.30" width="1.45" height="4.40" fill="#b09450" stroke="none" stroke-width="1"/>
<rect x="72.73" y="501.30" width="1.03" height="4.40" fill="#9a6436" stroke="none" stroke-width="1"/>
<rect x="62.09" y="501.30" width="1.14" height="4.40" fill="#b88a4a" stroke="none" stroke-width="1"/>
<rect x="302.00" y="501.30" width="1.64" height="4.40" fill="#b09450" stroke="none" stroke-width="1"/>
<rect x="170.65" y="501.30" width="1.59" height="4.40" fill="#a08a48" stroke="none" stroke-width="1"/>
<rect x="325.99" y="501.30" width="1.78" height="4.40" fill="#a08a48" stroke="none" stroke-width="1"/>
<rect x="232.03" y="501.30" width="1.63" height="4.40" fill="#bc7442" stroke="none" stroke-width="1"/>
<rect x="262.75" y="501.30" width="0.78" height="4.40" fill="#a46c3a" stroke="none" stroke-width="1"/>
<rect x="162.66" y="501.30" width="2.35" height="4.40" fill="#a08a48" stroke="none" stroke-width="1"/>
<rect x="192.05" y="501.30" width="1.74" height="4.40" fill="#ac7c42" stroke="none" stroke-width="1"/>
<rect x="174.37" y="501.30" width="1.54" height="4.40" fill="#b88a4a" stroke="none" stroke-width="1"/>
<rect x="200.42" y="501.30" width="1.72" height="4.40" fill="#b88a4a" stroke="none" stroke-width="1"/>
<rect x="201.40" y="501.30" width="1.52" height="4.40" fill="#b88a4a" stroke="none" stroke-width="1"/>
<rect x="209.51" y="501.30" width="1.18" height="4.40" fill="#bc7442" stroke="none" stroke-width="1"/>
<rect x="259.67" y="501.30" width="0.75" height="4.40" fill="#a08a48" stroke="none" stroke-width="1"/>
<rect x="124.89" y="501.30" width="0.77" height="4.40" fill="#a46c3a" stroke="none" stroke-width="1"/>
<rect x="168.80" y="501.30" width="1.86" height="4.40" fill="#ac7c42" stroke="none" stroke-width="1"/>
<rect x="299.83" y="501.30" width="1.97" height="4.40" fill="#ac7c42" stroke="none" stroke-width="1"/>
<rect x="215.17" y="501.30" width="1.93" height="4.40" fill="#b88a4a" stroke="none" stroke-width="1"/>
<rect x="78.91" y="501.30" width="2.24" height="4.40" fill="#9a6436" stroke="none" stroke-width="1"/>
<rect x="252.00" y="501.30" width="1.13" height="4.40" fill="#a08a48" stroke="none" stroke-width="1"/>
<rect x="124.54" y="501.30" width="1.59" height="4.40" fill="#a08a48" stroke="none" stroke-width="1"/>
<rect x="252.97" y="501.30" width="1.50" height="4.40" fill="#a08a48" stroke="none" stroke-width="1"/>
<rect x="124.93" y="501.30" width="1.90" height="4.40" fill="#ac7c42" stroke="none" stroke-width="1"/>
<rect x="226.56" y="501.30" width="1.47" height="4.40" fill="#a46c3a" stroke="none" stroke-width="1"/>
<rect x="290.07" y="501.30" width="1.31" height="4.40" fill="#a46c3a" stroke="none" stroke-width="1"/>
<rect x="92.53" y="501.30" width="1.45" height="4.40" fill="#bc7442" stroke="none" stroke-width="1"/>
<rect x="170.99" y="501.30" width="1.72" height="4.40" fill="#bc7442" stroke="none" stroke-width="1"/>
<rect x="215.30" y="501.30" width="1.41" height="4.40" fill="#a08a48" stroke="none" stroke-width="1"/>
<rect x="258.63" y="501.30" width="2.09" height="4.40" fill="#a46c3a" stroke="none" stroke-width="1"/>
<rect x="314.60" y="501.30" width="1.95" height="4.40" fill="#a46c3a" stroke="none" stroke-width="1"/>
<rect x="188.18" y="501.30" width="1.56" height="4.40" fill="#b88a4a" stroke="none" stroke-width="1"/>
<rect x="269.47" y="501.30" width="1.76" height="4.40" fill="#b88a4a" stroke="none" stroke-width="1"/>
<rect x="132.86" y="501.30" width="1.74" height="4.40" fill="#bc7442" stroke="none" stroke-width="1"/>
<rect x="210.65" y="501.30" width="1.71" height="4.40" fill="#bc7442" stroke="none" stroke-width="1"/>
<rect x="133.90" y="501.30" width="1.11" height="4.40" fill="#a46c3a" stroke="none" stroke-width="1"/>
<rect x="193.83" y="501.30" width="1.81" height="4.40" fill="#a46c3a" stroke="none" stroke-width="1"/>
<rect x="294.80" y="501.30" width="0.77" height="4.40" fill="#ac7c42" stroke="none" stroke-width="1"/>
<rect x="61.74" y="501.30" width="1.14" height="4.40" fill="#ac7c42" stroke="none" stroke-width="1"/>
<rect x="226.32" y="501.30" width="0.87" height="4.40" fill="#b09450" stroke="none" stroke-width="1"/>
<rect x="133.81" y="501.30" width="1.98" height="4.40" fill="#bc7442" stroke="none" stroke-width="1"/>
<rect x="102.33" y="501.30" width="1.10" height="4.40" fill="#b88a4a" stroke="none" stroke-width="1"/>
<rect x="188.96" y="501.30" width="1.30" height="4.40" fill="#b88a4a" stroke="none" stroke-width="1"/>
<rect x="151.35" y="501.30" width="1.97" height="4.40" fill="#a08a48" stroke="none" stroke-width="1"/>
<rect x="292.34" y="501.30" width="2.06" height="4.40" fill="#9a6436" stroke="none" stroke-width="1"/>
<rect x="276.14" y="501.30" width="1.76" height="4.40" fill="#a08a48" stroke="none" stroke-width="1"/>
<rect x="265.35" y="501.30" width="1.46" height="4.40" fill="#bc7442" stroke="none" stroke-width="1"/>
<rect x="128.39" y="501.30" width="2.08" height="4.40" fill="#b88a4a" stroke="none" stroke-width="1"/>
<rect x="100.34" y="501.30" width="2.12" height="4.40" fill="#b09450" stroke="none" stroke-width="1"/>
<rect x="146.44" y="501.30" width="1.63" height="4.40" fill="#bc7442" stroke="none" stroke-width="1"/>
<rect x="280.69" y="501.30" width="1.01" height="4.40" fill="#bc7442" stroke="none" stroke-width="1"/>
<rect x="158.20" y="501.30" width="0.86" height="4.40" fill="#b88a4a" stroke="none" stroke-width="1"/>
<rect x="80.25" y="501.30" width="0.84" height="4.40" fill="#b09450" stroke="none" stroke-width="1"/>
<rect x="211.47" y="501.30" width="2.09" height="4.40" fill="#9a6436" stroke="none" stroke-width="1"/>
<rect x="139.33" y="501.30" width="2.02" height="4.40" fill="#ac7c42" stroke="none" stroke-width="1"/>
<rect x="142.35" y="501.30" width="2.25" height="4.40" fill="#b09450" stroke="none" stroke-width="1"/>
<rect x="81.11" y="501.30" width="1.22" height="4.40" fill="#bc7442" stroke="none" stroke-width="1"/>
<rect x="264.07" y="501.30" width="1.26" height="4.40" fill="#a46c3a" stroke="none" stroke-width="1"/>
<rect x="117.85" y="501.30" width="1.82" height="4.40" fill="#b88a4a" stroke="none" stroke-width="1"/>
<rect x="157.43" y="501.30" width="0.90" height="4.40" fill="#bc7442" stroke="none" stroke-width="1"/>
<rect x="177.43" y="501.30" width="1.71" height="4.40" fill="#bc7442" stroke="none" stroke-width="1"/>
<rect x="304.08" y="501.30" width="1.44" height="4.40" fill="#a08a48" stroke="none" stroke-width="1"/>
<rect x="325.25" y="501.30" width="1.48" height="4.40" fill="#a46c3a" stroke="none" stroke-width="1"/>
<rect x="166.33" y="501.30" width="2.29" height="4.40" fill="#b09450" stroke="none" stroke-width="1"/>
<rect x="125.77" y="501.30" width="1.31" height="4.40" fill="#b88a4a" stroke="none" stroke-width="1"/>
<rect x="65.67" y="501.30" width="1.85" height="4.40" fill="#b09450" stroke="none" stroke-width="1"/>
<rect x="59.20" y="524.00" width="269.10" height="4.40" fill="#8ec452" stroke="none" stroke-width="1"/>
<rect x="163.11" y="524.00" width="1.03" height="4.40" fill="#b09450" stroke="none" stroke-width="1"/>
<rect x="157.93" y="524.00" width="1.36" height="4.40" fill="#a46c3a" stroke="none" stroke-width="1"/>
<rect x="283.43" y="524.00" width="1.66" height="4.40" fill="#a46c3a" stroke="none" stroke-width="1"/>
<rect x="83.26" y="524.00" width="1.47" height="4.40" fill="#a08a48" stroke="none" stroke-width="1"/>
<rect x="134.66" y="524.00" width="0.74" height="4.40" fill="#b09450" stroke="none" stroke-width="1"/>
<rect x="74.68" y="524.00" width="0.97" height="4.40" fill="#b88a4a" stroke="none" stroke-width="1"/>
<rect x="318.30" y="524.00" width="1.81" height="4.40" fill="#a08a48" stroke="none" stroke-width="1"/>
<rect x="172.54" y="524.00" width="1.69" height="4.40" fill="#b88a4a" stroke="none" stroke-width="1"/>
<rect x="270.48" y="524.00" width="0.84" height="4.40" fill="#ac7c42" stroke="none" stroke-width="1"/>
<rect x="132.56" y="524.00" width="0.88" height="4.40" fill="#b88a4a" stroke="none" stroke-width="1"/>
<rect x="81.91" y="524.00" width="1.78" height="4.40" fill="#a46c3a" stroke="none" stroke-width="1"/>
<rect x="85.33" y="524.00" width="2.09" height="4.40" fill="#9a6436" stroke="none" stroke-width="1"/>
<rect x="125.01" y="524.00" width="1.07" height="4.40" fill="#a08a48" stroke="none" stroke-width="1"/>
<rect x="302.56" y="524.00" width="1.27" height="4.40" fill="#9a6436" stroke="none" stroke-width="1"/>
<rect x="164.93" y="524.00" width="1.27" height="4.40" fill="#b88a4a" stroke="none" stroke-width="1"/>
<rect x="239.47" y="524.00" width="1.54" height="4.40" fill="#b09450" stroke="none" stroke-width="1"/>
<rect x="274.96" y="524.00" width="0.82" height="4.40" fill="#b09450" stroke="none" stroke-width="1"/>
<rect x="304.51" y="524.00" width="1.40" height="4.40" fill="#a08a48" stroke="none" stroke-width="1"/>
<rect x="323.47" y="524.00" width="1.29" height="4.40" fill="#ac7c42" stroke="none" stroke-width="1"/>
<rect x="275.26" y="524.00" width="2.12" height="4.40" fill="#9a6436" stroke="none" stroke-width="1"/>
<rect x="315.98" y="524.00" width="1.79" height="4.40" fill="#b09450" stroke="none" stroke-width="1"/>
<rect x="156.27" y="524.00" width="0.72" height="4.40" fill="#ac7c42" stroke="none" stroke-width="1"/>
<rect x="172.23" y="524.00" width="1.41" height="4.40" fill="#a46c3a" stroke="none" stroke-width="1"/>
<rect x="125.08" y="524.00" width="0.98" height="4.40" fill="#bc7442" stroke="none" stroke-width="1"/>
<rect x="159.88" y="524.00" width="0.99" height="4.40" fill="#a46c3a" stroke="none" stroke-width="1"/>
<rect x="163.58" y="524.00" width="1.60" height="4.40" fill="#b88a4a" stroke="none" stroke-width="1"/>
<rect x="319.19" y="524.00" width="0.80" height="4.40" fill="#b88a4a" stroke="none" stroke-width="1"/>
<rect x="255.12" y="524.00" width="1.22" height="4.40" fill="#a46c3a" stroke="none" stroke-width="1"/>
<rect x="267.23" y="524.00" width="1.01" height="4.40" fill="#ac7c42" stroke="none" stroke-width="1"/>
<rect x="261.12" y="524.00" width="0.73" height="4.40" fill="#9a6436" stroke="none" stroke-width="1"/>
<rect x="302.98" y="524.00" width="0.76" height="4.40" fill="#ac7c42" stroke="none" stroke-width="1"/>
<rect x="112.18" y="524.00" width="1.31" height="4.40" fill="#b09450" stroke="none" stroke-width="1"/>
<rect x="122.31" y="524.00" width="1.92" height="4.40" fill="#b09450" stroke="none" stroke-width="1"/>
<rect x="195.56" y="524.00" width="1.45" height="4.40" fill="#b88a4a" stroke="none" stroke-width="1"/>
<rect x="167.11" y="524.00" width="2.25" height="4.40" fill="#b88a4a" stroke="none" stroke-width="1"/>
<rect x="227.23" y="524.00" width="2.30" height="4.40" fill="#b09450" stroke="none" stroke-width="1"/>
<rect x="187.75" y="524.00" width="1.14" height="4.40" fill="#9a6436" stroke="none" stroke-width="1"/>
<rect x="304.31" y="524.00" width="1.28" height="4.40" fill="#b09450" stroke="none" stroke-width="1"/>
<rect x="266.09" y="524.00" width="0.86" height="4.40" fill="#a08a48" stroke="none" stroke-width="1"/>
<rect x="118.45" y="524.00" width="0.78" height="4.40" fill="#a46c3a" stroke="none" stroke-width="1"/>
<rect x="274.06" y="524.00" width="1.35" height="4.40" fill="#b09450" stroke="none" stroke-width="1"/>
<rect x="272.26" y="524.00" width="2.02" height="4.40" fill="#a08a48" stroke="none" stroke-width="1"/>
<rect x="324.68" y="524.00" width="1.82" height="4.40" fill="#a46c3a" stroke="none" stroke-width="1"/>
<rect x="298.40" y="524.00" width="2.19" height="4.40" fill="#b88a4a" stroke="none" stroke-width="1"/>
<rect x="179.85" y="524.00" width="1.12" height="4.40" fill="#9a6436" stroke="none" stroke-width="1"/>
<rect x="221.69" y="524.00" width="0.97" height="4.40" fill="#a46c3a" stroke="none" stroke-width="1"/>
<rect x="266.15" y="524.00" width="0.95" height="4.40" fill="#a08a48" stroke="none" stroke-width="1"/>
<rect x="276.36" y="524.00" width="0.92" height="4.40" fill="#bc7442" stroke="none" stroke-width="1"/>
<rect x="325.46" y="524.00" width="1.15" height="4.40" fill="#b09450" stroke="none" stroke-width="1"/>
<rect x="73.39" y="524.00" width="1.67" height="4.40" fill="#a46c3a" stroke="none" stroke-width="1"/>
<rect x="59.57" y="524.00" width="2.10" height="4.40" fill="#a08a48" stroke="none" stroke-width="1"/>
<rect x="99.15" y="524.00" width="0.92" height="4.40" fill="#b88a4a" stroke="none" stroke-width="1"/>
<rect x="131.57" y="524.00" width="1.92" height="4.40" fill="#ac7c42" stroke="none" stroke-width="1"/>
<rect x="297.72" y="524.00" width="1.88" height="4.40" fill="#ac7c42" stroke="none" stroke-width="1"/>
<rect x="315.37" y="524.00" width="1.70" height="4.40" fill="#a08a48" stroke="none" stroke-width="1"/>
<rect x="194.85" y="524.00" width="0.73" height="4.40" fill="#a46c3a" stroke="none" stroke-width="1"/>
<rect x="170.99" y="524.00" width="2.26" height="4.40" fill="#ac7c42" stroke="none" stroke-width="1"/>
<rect x="268.70" y="524.00" width="1.45" height="4.40" fill="#ac7c42" stroke="none" stroke-width="1"/>
<rect x="204.88" y="524.00" width="1.59" height="4.40" fill="#a46c3a" stroke="none" stroke-width="1"/>
<rect x="312.98" y="524.00" width="2.34" height="4.40" fill="#b88a4a" stroke="none" stroke-width="1"/>
<rect x="142.51" y="524.00" width="0.83" height="4.40" fill="#b88a4a" stroke="none" stroke-width="1"/>
<rect x="326.57" y="524.00" width="1.73" height="4.40" fill="#ac7c42" stroke="none" stroke-width="1"/>
<rect x="155.64" y="524.00" width="1.87" height="4.40" fill="#ac7c42" stroke="none" stroke-width="1"/>
<rect x="238.20" y="524.00" width="1.85" height="4.40" fill="#bc7442" stroke="none" stroke-width="1"/>
<rect x="318.43" y="524.00" width="2.11" height="4.40" fill="#bc7442" stroke="none" stroke-width="1"/>
<rect x="178.59" y="524.00" width="2.17" height="4.40" fill="#bc7442" stroke="none" stroke-width="1"/>
<rect x="249.55" y="524.00" width="1.10" height="4.40" fill="#b09450" stroke="none" stroke-width="1"/>
<rect x="89.58" y="524.00" width="2.01" height="4.40" fill="#a08a48" stroke="none" stroke-width="1"/>
<rect x="325.05" y="524.00" width="2.06" height="4.40" fill="#a46c3a" stroke="none" stroke-width="1"/>
<rect x="300.90" y="524.00" width="0.96" height="4.40" fill="#bc7442" stroke="none" stroke-width="1"/>
<rect x="160.00" y="524.00" width="1.62" height="4.40" fill="#b88a4a" stroke="none" stroke-width="1"/>
<rect x="314.99" y="524.00" width="1.98" height="4.40" fill="#b09450" stroke="none" stroke-width="1"/>
<rect x="237.94" y="524.00" width="1.14" height="4.40" fill="#a46c3a" stroke="none" stroke-width="1"/>
<rect x="160.15" y="524.00" width="0.89" height="4.40" fill="#b88a4a" stroke="none" stroke-width="1"/>
<rect x="312.56" y="524.00" width="1.66" height="4.40" fill="#bc7442" stroke="none" stroke-width="1"/>
<rect x="230.87" y="524.00" width="1.46" height="4.40" fill="#9a6436" stroke="none" stroke-width="1"/>
<rect x="83.94" y="524.00" width="0.94" height="4.40" fill="#ac7c42" stroke="none" stroke-width="1"/>
<rect x="94.44" y="524.00" width="1.77" height="4.40" fill="#a46c3a" stroke="none" stroke-width="1"/>
<rect x="107.42" y="524.00" width="1.38" height="4.40" fill="#a08a48" stroke="none" stroke-width="1"/>
<rect x="183.37" y="524.00" width="1.90" height="4.40" fill="#ac7c42" stroke="none" stroke-width="1"/>
<rect x="119.95" y="524.00" width="0.97" height="4.40" fill="#ac7c42" stroke="none" stroke-width="1"/>
<rect x="175.51" y="524.00" width="2.01" height="4.40" fill="#b88a4a" stroke="none" stroke-width="1"/>
<rect x="306.02" y="524.00" width="1.43" height="4.40" fill="#b09450" stroke="none" stroke-width="1"/>
<rect x="96.48" y="524.00" width="1.05" height="4.40" fill="#a46c3a" stroke="none" stroke-width="1"/>
<rect x="279.34" y="524.00" width="1.36" height="4.40" fill="#b88a4a" stroke="none" stroke-width="1"/>
<rect x="306.21" y="524.00" width="1.76" height="4.40" fill="#bc7442" stroke="none" stroke-width="1"/>
<rect x="166.63" y="524.00" width="1.89" height="4.40" fill="#a08a48" stroke="none" stroke-width="1"/>
<rect x="270.91" y="524.00" width="1.82" height="4.40" fill="#b09450" stroke="none" stroke-width="1"/>
<rect x="201.26" y="524.00" width="1.14" height="4.40" fill="#a46c3a" stroke="none" stroke-width="1"/>
<rect x="150.95" y="524.00" width="1.81" height="4.40" fill="#ac7c42" stroke="none" stroke-width="1"/>
<rect x="208.59" y="524.00" width="1.05" height="4.40" fill="#b88a4a" stroke="none" stroke-width="1"/>
<rect x="270.61" y="524.00" width="2.10" height="4.40" fill="#b09450" stroke="none" stroke-width="1"/>
<rect x="250.47" y="524.00" width="1.13" height="4.40" fill="#b09450" stroke="none" stroke-width="1"/>
<rect x="301.29" y="524.00" width="1.63" height="4.40" fill="#b88a4a" stroke="none" stroke-width="1"/>
<rect x="223.28" y="524.00" width="1.57" height="4.40" fill="#b09450" stroke="none" stroke-width="1"/>
<rect x="250.47" y="524.00" width="2.38" height="4.40" fill="#b09450" stroke="none" stroke-width="1"/>
<rect x="326.86" y="524.00" width="1.44" height="4.40" fill="#a46c3a" stroke="none" stroke-width="1"/>
<rect x="211.31" y="524.00" width="0.75" height="4.40" fill="#bc7442" stroke="none" stroke-width="1"/>
<rect x="112.26" y="524.00" width="0.84" height="4.40" fill="#a46c3a" stroke="none" stroke-width="1"/>
<rect x="187.32" y="524.00" width="1.41" height="4.40" fill="#b88a4a" stroke="none" stroke-width="1"/>
<rect x="147.45" y="524.00" width="2.28" height="4.40" fill="#b88a4a" stroke="none" stroke-width="1"/>
<rect x="130.56" y="524.00" width="2.20" height="4.40" fill="#9a6436" stroke="none" stroke-width="1"/>
<rect x="320.22" y="524.00" width="0.93" height="4.40" fill="#b09450" stroke="none" stroke-width="1"/>
<rect x="204.89" y="524.00" width="1.65" height="4.40" fill="#b09450" stroke="none" stroke-width="1"/>
<rect x="304.54" y="524.00" width="0.99" height="4.40" fill="#bc7442" stroke="none" stroke-width="1"/>
<rect x="325.19" y="524.00" width="2.09" height="4.40" fill="#b09450" stroke="none" stroke-width="1"/>
<rect x="98.25" y="524.00" width="2.29" height="4.40" fill="#ac7c42" stroke="none" stroke-width="1"/>
<rect x="136.57" y="524.00" width="2.22" height="4.40" fill="#a46c3a" stroke="none" stroke-width="1"/>
<rect x="262.51" y="524.00" width="1.32" height="4.40" fill="#a46c3a" stroke="none" stroke-width="1"/>
<rect x="108.95" y="524.00" width="1.63" height="4.40" fill="#ac7c42" stroke="none" stroke-width="1"/>
<rect x="181.01" y="524.00" width="1.39" height="4.40" fill="#a08a48" stroke="none" stroke-width="1"/>
<rect x="323.82" y="524.00" width="2.30" height="4.40" fill="#bc7442" stroke="none" stroke-width="1"/>
<rect x="96.27" y="524.00" width="1.99" height="4.40" fill="#a08a48" stroke="none" stroke-width="1"/>
<rect x="256.97" y="524.00" width="1.35" height="4.40" fill="#b09450" stroke="none" stroke-width="1"/>
<rect x="230.87" y="524.00" width="2.00" height="4.40" fill="#a46c3a" stroke="none" stroke-width="1"/>
<rect x="112.70" y="524.00" width="1.50" height="4.40" fill="#a46c3a" stroke="none" stroke-width="1"/>
<rect x="200.72" y="524.00" width="0.90" height="4.40" fill="#9a6436" stroke="none" stroke-width="1"/>
<rect x="105.77" y="524.00" width="1.58" height="4.40" fill="#b88a4a" stroke="none" stroke-width="1"/>
<rect x="124.65" y="524.00" width="2.28" height="4.40" fill="#ac7c42" stroke="none" stroke-width="1"/>
<rect x="231.24" y="524.00" width="0.76" height="4.40" fill="#bc7442" stroke="none" stroke-width="1"/>
<rect x="270.33" y="524.00" width="1.39" height="4.40" fill="#9a6436" stroke="none" stroke-width="1"/>
<rect x="220.09" y="524.00" width="1.50" height="4.40" fill="#9a6436" stroke="none" stroke-width="1"/>
<rect x="299.60" y="524.00" width="2.25" height="4.40" fill="#b09450" stroke="none" stroke-width="1"/>
<rect x="262.43" y="524.00" width="1.98" height="4.40" fill="#9a6436" stroke="none" stroke-width="1"/>
<rect x="297.59" y="524.00" width="1.49" height="4.40" fill="#a08a48" stroke="none" stroke-width="1"/>
<rect x="244.26" y="524.00" width="2.10" height="4.40" fill="#ac7c42" stroke="none" stroke-width="1"/>
<rect x="210.94" y="524.00" width="2.24" height="4.40" fill="#b09450" stroke="none" stroke-width="1"/>
<rect x="147.77" y="524.00" width="1.59" height="4.40" fill="#9a6436" stroke="none" stroke-width="1"/>
<rect x="301.64" y="524.00" width="1.25" height="4.40" fill="#ac7c42" stroke="none" stroke-width="1"/>
<rect x="138.57" y="524.00" width="1.75" height="4.40" fill="#9a6436" stroke="none" stroke-width="1"/>
<rect x="255.45" y="524.00" width="1.72" height="4.40" fill="#a08a48" stroke="none" stroke-width="1"/>
<rect x="270.88" y="524.00" width="2.20" height="4.40" fill="#ac7c42" stroke="none" stroke-width="1"/>
<rect x="124.71" y="524.00" width="2.14" height="4.40" fill="#a46c3a" stroke="none" stroke-width="1"/>
<rect x="193.96" y="524.00" width="1.37" height="4.40" fill="#ac7c42" stroke="none" stroke-width="1"/>
<rect x="186.74" y="524.00" width="0.88" height="4.40" fill="#a46c3a" stroke="none" stroke-width="1"/>
<rect x="222.20" y="501.30" width="4.20" height="4.40" fill="#c0603a" stroke="none" stroke-width="1"/>
<rect x="222.20" y="524.00" width="3.20" height="4.40" fill="#b85a3a" stroke="none" stroke-width="1"/>
<rect x="78.30" y="538.80" width="232.70" height="5.00" fill="#5cb2e4" stroke="none" stroke-width="1"/>
<rect x="204.57" y="538.80" width="1.39" height="5.00" fill="#8868c0" stroke="none" stroke-width="1"/>
<rect x="282.14" y="538.80" width="1.80" height="5.00" fill="#6a8ad8" stroke="none" stroke-width="1"/>
<rect x="279.07" y="538.80" width="1.11" height="5.00" fill="#8868c0" stroke="none" stroke-width="1"/>
<rect x="129.69" y="538.80" width="1.50" height="5.00" fill="#5a86d4" stroke="none" stroke-width="1"/>
<rect x="106.72" y="538.80" width="0.69" height="5.00" fill="#5a86d4" stroke="none" stroke-width="1"/>
<rect x="261.89" y="538.80" width="0.75" height="5.00" fill="#5a86d4" stroke="none" stroke-width="1"/>
<rect x="211.73" y="538.80" width="1.14" height="5.00" fill="#6a8ad8" stroke="none" stroke-width="1"/>
<rect x="134.82" y="538.80" width="0.96" height="5.00" fill="#6a8ad8" stroke="none" stroke-width="1"/>
<rect x="118.16" y="538.80" width="1.13" height="5.00" fill="#9a70c4" stroke="none" stroke-width="1"/>
<rect x="267.24" y="538.80" width="1.08" height="5.00" fill="#6a8ad8" stroke="none" stroke-width="1"/>
<rect x="238.70" y="538.80" width="0.88" height="5.00" fill="#6a8ad8" stroke="none" stroke-width="1"/>
<rect x="85.51" y="538.80" width="1.68" height="5.00" fill="#6a8ad8" stroke="none" stroke-width="1"/>
<rect x="153.45" y="538.80" width="0.77" height="5.00" fill="#9a70c4" stroke="none" stroke-width="1"/>
<rect x="281.90" y="538.80" width="0.84" height="5.00" fill="#7a78cc" stroke="none" stroke-width="1"/>
<rect x="123.60" y="538.80" width="1.61" height="5.00" fill="#6a8ad8" stroke="none" stroke-width="1"/>
<rect x="286.67" y="538.80" width="0.62" height="5.00" fill="#5a86d4" stroke="none" stroke-width="1"/>
<rect x="125.11" y="538.80" width="1.36" height="5.00" fill="#8868c0" stroke="none" stroke-width="1"/>
<rect x="298.29" y="538.80" width="1.77" height="5.00" fill="#7a78cc" stroke="none" stroke-width="1"/>
<rect x="149.22" y="538.80" width="1.58" height="5.00" fill="#6a8ad8" stroke="none" stroke-width="1"/>
<rect x="279.78" y="538.80" width="1.46" height="5.00" fill="#8868c0" stroke="none" stroke-width="1"/>
<rect x="155.90" y="538.80" width="1.75" height="5.00" fill="#9a70c4" stroke="none" stroke-width="1"/>
<rect x="174.50" y="538.80" width="0.80" height="5.00" fill="#6a8ad8" stroke="none" stroke-width="1"/>
<rect x="106.26" y="538.80" width="1.43" height="5.00" fill="#6a8ad8" stroke="none" stroke-width="1"/>
<rect x="120.24" y="538.80" width="0.88" height="5.00" fill="#6a8ad8" stroke="none" stroke-width="1"/>
<rect x="261.46" y="538.80" width="1.05" height="5.00" fill="#5a86d4" stroke="none" stroke-width="1"/>
<rect x="283.22" y="538.80" width="1.31" height="5.00" fill="#8868c0" stroke="none" stroke-width="1"/>
<rect x="304.70" y="538.80" width="1.67" height="5.00" fill="#8868c0" stroke="none" stroke-width="1"/>
<rect x="232.85" y="538.80" width="0.93" height="5.00" fill="#7a78cc" stroke="none" stroke-width="1"/>
<rect x="185.51" y="538.80" width="0.69" height="5.00" fill="#5a86d4" stroke="none" stroke-width="1"/>
<rect x="95.40" y="538.80" width="1.69" height="5.00" fill="#7a78cc" stroke="none" stroke-width="1"/>
<rect x="217.25" y="538.80" width="0.94" height="5.00" fill="#6a8ad8" stroke="none" stroke-width="1"/>
<rect x="176.41" y="538.80" width="1.28" height="5.00" fill="#8868c0" stroke="none" stroke-width="1"/>
<rect x="144.37" y="538.80" width="1.51" height="5.00" fill="#8868c0" stroke="none" stroke-width="1"/>
<rect x="119.85" y="538.80" width="1.48" height="5.00" fill="#7a78cc" stroke="none" stroke-width="1"/>
<rect x="121.48" y="538.80" width="1.68" height="5.00" fill="#7a78cc" stroke="none" stroke-width="1"/>
<rect x="222.40" y="538.80" width="1.70" height="5.00" fill="#5a86d4" stroke="none" stroke-width="1"/>
<rect x="167.44" y="538.80" width="1.72" height="5.00" fill="#9a70c4" stroke="none" stroke-width="1"/>
<rect x="92.25" y="538.80" width="0.68" height="5.00" fill="#6a8ad8" stroke="none" stroke-width="1"/>
<rect x="152.63" y="538.80" width="1.18" height="5.00" fill="#7a78cc" stroke="none" stroke-width="1"/>
<rect x="198.03" y="538.80" width="1.21" height="5.00" fill="#5a86d4" stroke="none" stroke-width="1"/>
<rect x="250.77" y="538.80" width="1.24" height="5.00" fill="#5a86d4" stroke="none" stroke-width="1"/>
<rect x="258.95" y="538.80" width="0.80" height="5.00" fill="#5a86d4" stroke="none" stroke-width="1"/>
<rect x="179.22" y="538.80" width="1.40" height="5.00" fill="#5a86d4" stroke="none" stroke-width="1"/>
<rect x="257.41" y="538.80" width="1.54" height="5.00" fill="#8868c0" stroke="none" stroke-width="1"/>
<rect x="138.47" y="538.80" width="1.25" height="5.00" fill="#5a86d4" stroke="none" stroke-width="1"/>
<rect x="218.08" y="538.80" width="0.91" height="5.00" fill="#8868c0" stroke="none" stroke-width="1"/>
<rect x="216.59" y="538.80" width="1.46" height="5.00" fill="#5a86d4" stroke="none" stroke-width="1"/>
<rect x="182.19" y="538.80" width="1.66" height="5.00" fill="#6a8ad8" stroke="none" stroke-width="1"/>
<rect x="113.47" y="538.80" width="0.62" height="5.00" fill="#9a70c4" stroke="none" stroke-width="1"/>
<rect x="265.09" y="538.80" width="1.20" height="5.00" fill="#6a8ad8" stroke="none" stroke-width="1"/>
<rect x="276.79" y="538.80" width="0.64" height="5.00" fill="#7a78cc" stroke="none" stroke-width="1"/>
<rect x="288.52" y="538.80" width="1.28" height="5.00" fill="#5a86d4" stroke="none" stroke-width="1"/>
<rect x="212.57" y="538.80" width="1.47" height="5.00" fill="#5a86d4" stroke="none" stroke-width="1"/>
<rect x="112.18" y="538.80" width="0.97" height="5.00" fill="#7a78cc" stroke="none" stroke-width="1"/>
<rect x="239.48" y="538.80" width="1.58" height="5.00" fill="#5a86d4" stroke="none" stroke-width="1"/>
<rect x="259.19" y="538.80" width="1.52" height="5.00" fill="#9a70c4" stroke="none" stroke-width="1"/>
<rect x="98.80" y="538.80" width="1.58" height="5.00" fill="#8868c0" stroke="none" stroke-width="1"/>
<rect x="166.08" y="538.80" width="0.90" height="5.00" fill="#9a70c4" stroke="none" stroke-width="1"/>
<rect x="238.33" y="538.80" width="1.60" height="5.00" fill="#9a70c4" stroke="none" stroke-width="1"/>
<rect x="92.47" y="538.80" width="1.09" height="5.00" fill="#6a8ad8" stroke="none" stroke-width="1"/>
<rect x="240.18" y="538.80" width="1.44" height="5.00" fill="#7a78cc" stroke="none" stroke-width="1"/>
<rect x="108.05" y="538.80" width="1.51" height="5.00" fill="#5a86d4" stroke="none" stroke-width="1"/>
<rect x="306.80" y="538.80" width="0.77" height="5.00" fill="#9a70c4" stroke="none" stroke-width="1"/>
<rect x="199.17" y="538.80" width="1.78" height="5.00" fill="#7a78cc" stroke="none" stroke-width="1"/>
<rect x="134.05" y="538.80" width="1.67" height="5.00" fill="#8868c0" stroke="none" stroke-width="1"/>
<rect x="99.48" y="538.80" width="1.27" height="5.00" fill="#9a70c4" stroke="none" stroke-width="1"/>
<rect x="176.64" y="538.80" width="0.69" height="5.00" fill="#7a78cc" stroke="none" stroke-width="1"/>
<rect x="235.82" y="538.80" width="1.46" height="5.00" fill="#5a86d4" stroke="none" stroke-width="1"/>
<rect x="131.56" y="538.80" width="0.90" height="5.00" fill="#5a86d4" stroke="none" stroke-width="1"/>
<rect x="276.49" y="538.80" width="1.10" height="5.00" fill="#7a78cc" stroke="none" stroke-width="1"/>
<rect x="222.60" y="538.80" width="2.20" height="5.00" fill="#9a3a8a" stroke="none" stroke-width="1"/>
<path d="M221.7,494.6 L225.7,494.6 L223.7,498.8 Z" fill="#333" stroke="none" stroke-width="1"/>
<path d="M221.7,517.6 L225.7,517.6 L223.7,521.8 Z" fill="#333" stroke="none" stroke-width="1"/>
<path d="M228.3,497.3 L231.6,497.3 M228.3,497.3 L229.6,496.3 M228.3,497.3 L229.6,498.3" fill="none" stroke="#222" stroke-width="0.6"/>
<text x="235.7" y="499.6" font-size="6.8" text-anchor="start" font-weight="normal" fill="#222" textLength="15.2" lengthAdjust="spacingAndGlyphs" font-style="italic" stroke="#222" stroke-width="0.16">TLX3</text>
<rect x="78.30" y="544.30" width="232.70" height="40.50" fill="#f4cf96" stroke="none" stroke-width="1"/>
<rect x="294.73" y="544.30" width="0.86" height="30.22" fill="#efba7c" stroke="none" stroke-width="1" opacity="0.8"/>
<rect x="133.34" y="544.30" width="0.66" height="34.07" fill="#e6a462" stroke="none" stroke-width="1" opacity="0.8"/>
<rect x="250.66" y="544.30" width="1.07" height="39.14" fill="#efba7c" stroke="none" stroke-width="1" opacity="0.8"/>
<rect x="292.80" y="544.30" width="0.68" height="38.33" fill="#ebb072" stroke="none" stroke-width="1" opacity="0.8"/>
<rect x="170.14" y="544.30" width="1.28" height="28.34" fill="#e09858" stroke="none" stroke-width="1" opacity="0.8"/>
<rect x="139.71" y="544.30" width="1.29" height="37.46" fill="#d88e52" stroke="none" stroke-width="1" opacity="0.8"/>
<rect x="130.02" y="544.30" width="0.71" height="32.25" fill="#e09858" stroke="none" stroke-width="1" opacity="0.8"/>
<rect x="190.80" y="544.30" width="0.99" height="34.71" fill="#ebb072" stroke="none" stroke-width="1" opacity="0.8"/>
<rect x="278.98" y="544.30" width="0.70" height="30.94" fill="#e6a462" stroke="none" stroke-width="1" opacity="0.8"/>
<rect x="94.66" y="544.30" width="0.78" height="39.71" fill="#efba7c" stroke="none" stroke-width="1" opacity="0.8"/>
<rect x="88.20" y="544.30" width="0.68" height="29.07" fill="#d88e52" stroke="none" stroke-width="1" opacity="0.8"/>
<rect x="212.23" y="544.30" width="1.15" height="28.37" fill="#e6a462" stroke="none" stroke-width="1" opacity="0.8"/>
<rect x="165.61" y="544.30" width="0.65" height="39.52" fill="#e09858" stroke="none" stroke-width="1" opacity="0.8"/>
<rect x="114.98" y="544.30" width="0.74" height="38.01" fill="#e6a462" stroke="none" stroke-width="1" opacity="0.8"/>
<rect x="88.61" y="544.30" width="0.82" height="30.96" fill="#e6a462" stroke="none" stroke-width="1" opacity="0.8"/>
<rect x="277.13" y="544.30" width="0.88" height="28.97" fill="#efba7c" stroke="none" stroke-width="1" opacity="0.8"/>
<rect x="235.24" y="544.30" width="0.80" height="34.42" fill="#d88e52" stroke="none" stroke-width="1" opacity="0.8"/>
<rect x="93.23" y="544.30" width="0.65" height="34.23" fill="#e6a462" stroke="none" stroke-width="1" opacity="0.8"/>
<rect x="131.13" y="544.30" width="0.91" height="32.42" fill="#ebb072" stroke="none" stroke-width="1" opacity="0.8"/>
<rect x="200.83" y="544.30" width="1.05" height="29.86" fill="#d88e52" stroke="none" stroke-width="1" opacity="0.8"/>
<rect x="234.56" y="544.30" width="0.65" height="28.17" fill="#e09858" stroke="none" stroke-width="1" opacity="0.8"/>
<rect x="204.90" y="544.30" width="0.95" height="27.12" fill="#efba7c" stroke="none" stroke-width="1" opacity="0.8"/>
<rect x="279.71" y="544.30" width="0.73" height="29.53" fill="#e09858" stroke="none" stroke-width="1" opacity="0.8"/>
<rect x="222.16" y="544.30" width="0.64" height="38.15" fill="#d88e52" stroke="none" stroke-width="1" opacity="0.8"/>
<rect x="211.90" y="544.30" width="1.31" height="40.12" fill="#e09858" stroke="none" stroke-width="1" opacity="0.8"/>
<rect x="233.25" y="544.30" width="0.57" height="38.22" fill="#efba7c" stroke="none" stroke-width="1" opacity="0.8"/>
<rect x="239.76" y="544.30" width="1.17" height="39.80" fill="#e09858" stroke="none" stroke-width="1" opacity="0.8"/>
<rect x="137.02" y="544.30" width="1.13" height="26.39" fill="#d88e52" stroke="none" stroke-width="1" opacity="0.8"/>
<rect x="111.08" y="544.30" width="0.99" height="32.59" fill="#e09858" stroke="none" stroke-width="1" opacity="0.8"/>
<rect x="148.31" y="544.30" width="1.20" height="28.44" fill="#d88e52" stroke="none" stroke-width="1" opacity="0.8"/>
<rect x="129.63" y="544.30" width="1.27" height="30.44" fill="#ebb072" stroke="none" stroke-width="1" opacity="0.8"/>
<rect x="201.62" y="544.30" width="1.24" height="39.07" fill="#ebb072" stroke="none" stroke-width="1" opacity="0.8"/>
<rect x="192.10" y="544.30" width="0.76" height="38.22" fill="#e09858" stroke="none" stroke-width="1" opacity="0.8"/>
<rect x="242.24" y="544.30" width="0.52" height="31.07" fill="#e09858" stroke="none" stroke-width="1" opacity="0.8"/>
<rect x="289.59" y="544.30" width="1.41" height="29.22" fill="#d88e52" stroke="none" stroke-width="1" opacity="0.8"/>
<rect x="196.00" y="544.30" width="1.09" height="32.27" fill="#e09858" stroke="none" stroke-width="1" opacity="0.8"/>
<rect x="284.25" y="544.30" width="0.57" height="25.55" fill="#e09858" stroke="none" stroke-width="1" opacity="0.8"/>
<rect x="285.54" y="544.30" width="1.07" height="29.06" fill="#ebb072" stroke="none" stroke-width="1" opacity="0.8"/>
<rect x="229.16" y="544.30" width="0.88" height="30.29" fill="#e09858" stroke="none" stroke-width="1" opacity="0.8"/>
<rect x="91.01" y="544.30" width="1.21" height="28.36" fill="#e6a462" stroke="none" stroke-width="1" opacity="0.8"/>
<rect x="225.78" y="544.30" width="1.12" height="31.37" fill="#d88e52" stroke="none" stroke-width="1" opacity="0.8"/>
<rect x="98.38" y="544.30" width="0.57" height="32.19" fill="#d88e52" stroke="none" stroke-width="1" opacity="0.8"/>
<rect x="170.30" y="544.30" width="1.41" height="25.59" fill="#ebb072" stroke="none" stroke-width="1" opacity="0.8"/>
<rect x="238.45" y="544.30" width="0.77" height="32.67" fill="#d88e52" stroke="none" stroke-width="1" opacity="0.8"/>
<rect x="304.80" y="544.30" width="0.65" height="27.98" fill="#ebb072" stroke="none" stroke-width="1" opacity="0.8"/>
<rect x="142.34" y="544.30" width="0.72" height="33.07" fill="#efba7c" stroke="none" stroke-width="1" opacity="0.8"/>
<rect x="305.43" y="544.30" width="0.50" height="33.48" fill="#efba7c" stroke="none" stroke-width="1" opacity="0.8"/>
<rect x="101.86" y="544.30" width="1.32" height="38.70" fill="#e09858" stroke="none" stroke-width="1" opacity="0.8"/>
<rect x="143.68" y="544.30" width="0.60" height="25.30" fill="#ebb072" stroke="none" stroke-width="1" opacity="0.8"/>
<rect x="241.16" y="544.30" width="1.19" height="39.94" fill="#ebb072" stroke="none" stroke-width="1" opacity="0.8"/>
<rect x="120.04" y="544.30" width="1.12" height="32.61" fill="#efba7c" stroke="none" stroke-width="1" opacity="0.8"/>
<rect x="150.37" y="544.30" width="0.91" height="30.69" fill="#efba7c" stroke="none" stroke-width="1" opacity="0.8"/>
<rect x="196.63" y="544.30" width="1.15" height="30.61" fill="#ebb072" stroke="none" stroke-width="1" opacity="0.8"/>
<rect x="291.34" y="544.30" width="1.24" height="38.60" fill="#e6a462" stroke="none" stroke-width="1" opacity="0.8"/>
<rect x="268.83" y="544.30" width="1.39" height="29.81" fill="#d88e52" stroke="none" stroke-width="1" opacity="0.8"/>
<rect x="199.79" y="544.30" width="1.18" height="25.63" fill="#efba7c" stroke="none" stroke-width="1" opacity="0.8"/>
<rect x="279.78" y="544.30" width="1.37" height="25.83" fill="#e09858" stroke="none" stroke-width="1" opacity="0.8"/>
<rect x="173.81" y="544.30" width="1.24" height="35.75" fill="#e09858" stroke="none" stroke-width="1" opacity="0.8"/>
<rect x="245.80" y="544.30" width="0.75" height="36.09" fill="#e09858" stroke="none" stroke-width="1" opacity="0.8"/>
<rect x="125.49" y="544.30" width="1.36" height="28.18" fill="#efba7c" stroke="none" stroke-width="1" opacity="0.8"/>
<rect x="271.25" y="544.30" width="1.07" height="31.52" fill="#ebb072" stroke="none" stroke-width="1" opacity="0.8"/>
<rect x="224.80" y="544.30" width="1.33" height="37.42" fill="#ebb072" stroke="none" stroke-width="1" opacity="0.8"/>
<rect x="129.39" y="544.30" width="1.12" height="29.53" fill="#ebb072" stroke="none" stroke-width="1" opacity="0.8"/>
<rect x="304.08" y="544.30" width="0.97" height="35.75" fill="#ebb072" stroke="none" stroke-width="1" opacity="0.8"/>
<rect x="144.57" y="544.30" width="0.77" height="28.91" fill="#d88e52" stroke="none" stroke-width="1" opacity="0.8"/>
<rect x="171.39" y="544.30" width="1.18" height="27.15" fill="#ebb072" stroke="none" stroke-width="1" opacity="0.8"/>
<rect x="245.20" y="544.30" width="0.62" height="25.66" fill="#e09858" stroke="none" stroke-width="1" opacity="0.8"/>
<rect x="164.56" y="544.30" width="1.04" height="37.43" fill="#d88e52" stroke="none" stroke-width="1" opacity="0.8"/>
<rect x="158.59" y="544.30" width="0.53" height="33.41" fill="#d88e52" stroke="none" stroke-width="1" opacity="0.8"/>
<rect x="122.70" y="544.30" width="0.57" height="31.80" fill="#e09858" stroke="none" stroke-width="1" opacity="0.8"/>
<rect x="134.55" y="544.30" width="1.22" height="31.33" fill="#ebb072" stroke="none" stroke-width="1" opacity="0.8"/>
<rect x="305.70" y="544.30" width="0.89" height="35.76" fill="#efba7c" stroke="none" stroke-width="1" opacity="0.8"/>
<rect x="147.89" y="544.30" width="1.37" height="31.85" fill="#e6a462" stroke="none" stroke-width="1" opacity="0.8"/>
<rect x="209.70" y="544.30" width="1.40" height="38.65" fill="#d88e52" stroke="none" stroke-width="1" opacity="0.8"/>
<rect x="111.20" y="544.30" width="0.82" height="25.30" fill="#efba7c" stroke="none" stroke-width="1" opacity="0.8"/>
<rect x="212.56" y="544.30" width="0.77" height="31.20" fill="#e09858" stroke="none" stroke-width="1" opacity="0.8"/>
<rect x="135.43" y="544.30" width="0.98" height="30.67" fill="#e09858" stroke="none" stroke-width="1" opacity="0.8"/>
<rect x="210.32" y="544.30" width="0.65" height="25.11" fill="#e09858" stroke="none" stroke-width="1" opacity="0.8"/>
<rect x="235.48" y="544.30" width="0.50" height="30.21" fill="#ebb072" stroke="none" stroke-width="1" opacity="0.8"/>
<rect x="309.36" y="544.30" width="0.70" height="38.44" fill="#d88e52" stroke="none" stroke-width="1" opacity="0.8"/>
<rect x="91.26" y="544.30" width="0.85" height="33.68" fill="#efba7c" stroke="none" stroke-width="1" opacity="0.8"/>
<rect x="97.03" y="544.30" width="1.05" height="35.18" fill="#efba7c" stroke="none" stroke-width="1" opacity="0.8"/>
<rect x="141.05" y="544.30" width="0.69" height="29.51" fill="#ebb072" stroke="none" stroke-width="1" opacity="0.8"/>
<rect x="308.71" y="544.30" width="0.94" height="37.92" fill="#e6a462" stroke="none" stroke-width="1" opacity="0.8"/>
<rect x="123.74" y="544.30" width="0.53" height="27.62" fill="#e6a462" stroke="none" stroke-width="1" opacity="0.8"/>
<rect x="236.51" y="544.30" width="0.77" height="25.37" fill="#efba7c" stroke="none" stroke-width="1" opacity="0.8"/>
<rect x="154.06" y="544.30" width="1.01" height="25.16" fill="#ebb072" stroke="none" stroke-width="1" opacity="0.8"/>
<rect x="98.40" y="544.30" width="0.86" height="36.89" fill="#e09858" stroke="none" stroke-width="1" opacity="0.8"/>
<rect x="267.09" y="544.30" width="1.29" height="36.40" fill="#d88e52" stroke="none" stroke-width="1" opacity="0.8"/>
<rect x="153.60" y="544.30" width="1.03" height="35.32" fill="#e6a462" stroke="none" stroke-width="1" opacity="0.8"/>
<rect x="295.57" y="544.30" width="0.98" height="38.02" fill="#d88e52" stroke="none" stroke-width="1" opacity="0.8"/>
<rect x="140.61" y="544.30" width="1.41" height="25.36" fill="#efba7c" stroke="none" stroke-width="1" opacity="0.8"/>
<rect x="115.82" y="544.30" width="0.82" height="36.23" fill="#efba7c" stroke="none" stroke-width="1" opacity="0.8"/>
<rect x="232.47" y="544.30" width="1.31" height="30.65" fill="#d88e52" stroke="none" stroke-width="1" opacity="0.8"/>
<rect x="164.02" y="544.30" width="0.78" height="39.03" fill="#e09858" stroke="none" stroke-width="1" opacity="0.8"/>
<rect x="218.29" y="544.30" width="0.76" height="28.31" fill="#ebb072" stroke="none" stroke-width="1" opacity="0.8"/>
<rect x="131.76" y="544.30" width="1.24" height="33.47" fill="#ebb072" stroke="none" stroke-width="1" opacity="0.8"/>
<rect x="124.07" y="544.30" width="0.61" height="27.22" fill="#e09858" stroke="none" stroke-width="1" opacity="0.8"/>
<rect x="125.21" y="544.30" width="0.52" height="31.20" fill="#e6a462" stroke="none" stroke-width="1" opacity="0.8"/>
<rect x="175.16" y="544.30" width="0.82" height="33.33" fill="#ebb072" stroke="none" stroke-width="1" opacity="0.8"/>
<rect x="88.70" y="544.30" width="0.67" height="26.03" fill="#efba7c" stroke="none" stroke-width="1" opacity="0.8"/>
<rect x="108.49" y="544.30" width="1.49" height="31.67" fill="#ebb072" stroke="none" stroke-width="1" opacity="0.8"/>
<rect x="196.84" y="544.30" width="1.28" height="38.76" fill="#e09858" stroke="none" stroke-width="1" opacity="0.8"/>
<rect x="99.81" y="544.30" width="0.89" height="39.27" fill="#ebb072" stroke="none" stroke-width="1" opacity="0.8"/>
<rect x="259.76" y="544.30" width="1.03" height="25.16" fill="#d88e52" stroke="none" stroke-width="1" opacity="0.8"/>
<rect x="289.90" y="544.30" width="0.56" height="34.56" fill="#e09858" stroke="none" stroke-width="1" opacity="0.8"/>
<rect x="284.60" y="544.30" width="1.36" height="34.74" fill="#efba7c" stroke="none" stroke-width="1" opacity="0.8"/>
<rect x="303.07" y="544.30" width="1.42" height="26.88" fill="#d88e52" stroke="none" stroke-width="1" opacity="0.8"/>
<rect x="182.58" y="544.30" width="0.97" height="37.97" fill="#efba7c" stroke="none" stroke-width="1" opacity="0.8"/>
<rect x="135.99" y="544.30" width="1.10" height="33.88" fill="#efba7c" stroke="none" stroke-width="1" opacity="0.8"/>
<rect x="291.91" y="544.30" width="1.03" height="32.00" fill="#e09858" stroke="none" stroke-width="1" opacity="0.8"/>
<rect x="218.10" y="544.30" width="1.09" height="39.44" fill="#ebb072" stroke="none" stroke-width="1" opacity="0.8"/>
<rect x="205.36" y="544.30" width="0.83" height="28.97" fill="#efba7c" stroke="none" stroke-width="1" opacity="0.8"/>
<rect x="154.73" y="544.30" width="1.24" height="40.34" fill="#d88e52" stroke="none" stroke-width="1" opacity="0.8"/>
<rect x="95.86" y="544.30" width="1.47" height="36.67" fill="#d88e52" stroke="none" stroke-width="1" opacity="0.8"/>
<rect x="109.10" y="544.30" width="0.69" height="39.32" fill="#ebb072" stroke="none" stroke-width="1" opacity="0.8"/>
<rect x="271.42" y="544.30" width="1.30" height="32.93" fill="#e09858" stroke="none" stroke-width="1" opacity="0.8"/>
<rect x="98.65" y="544.30" width="1.37" height="36.03" fill="#e09858" stroke="none" stroke-width="1" opacity="0.8"/>
<rect x="200.99" y="544.30" width="0.85" height="28.22" fill="#e6a462" stroke="none" stroke-width="1" opacity="0.8"/>
<rect x="279.61" y="544.30" width="0.70" height="29.33" fill="#ebb072" stroke="none" stroke-width="1" opacity="0.8"/>
<rect x="158.49" y="545.80" width="24.31" height="0.70" fill="#ffffff" stroke="none" stroke-width="1" opacity="0.6"/>
<rect x="182.80" y="545.80" width="12.24" height="0.70" fill="#ffffff" stroke="none" stroke-width="1" opacity="0.6"/>
<rect x="195.04" y="545.80" width="3.03" height="0.70" fill="#ffffff" stroke="none" stroke-width="1" opacity="0.6"/>
<rect x="224.29" y="545.80" width="5.29" height="0.70" fill="#ffffff" stroke="none" stroke-width="1" opacity="0.6"/>
<rect x="307.60" y="545.80" width="3.40" height="0.70" fill="#ffffff" stroke="none" stroke-width="1" opacity="0.6"/>
<rect x="98.93" y="547.60" width="21.46" height="0.70" fill="#ffffff" stroke="none" stroke-width="1" opacity="0.6"/>
<rect x="125.97" y="547.60" width="15.06" height="0.70" fill="#ffffff" stroke="none" stroke-width="1" opacity="0.6"/>
<rect x="194.22" y="547.60" width="12.09" height="0.70" fill="#ffffff" stroke="none" stroke-width="1" opacity="0.6"/>
<rect x="206.31" y="547.60" width="13.43" height="0.70" fill="#ffffff" stroke="none" stroke-width="1" opacity="0.6"/>
<rect x="279.17" y="547.60" width="28.37" height="0.70" fill="#ffffff" stroke="none" stroke-width="1" opacity="0.6"/>
<rect x="307.53" y="547.60" width="3.47" height="0.70" fill="#ffffff" stroke="none" stroke-width="1" opacity="0.6"/>
<rect x="170.20" y="549.55" width="14.56" height="0.70" fill="#ffffff" stroke="none" stroke-width="1" opacity="0.6"/>
<rect x="184.76" y="549.55" width="13.73" height="0.70" fill="#ffffff" stroke="none" stroke-width="1" opacity="0.6"/>
<rect x="223.04" y="549.55" width="20.82" height="0.70" fill="#ffffff" stroke="none" stroke-width="1" opacity="0.6"/>
<rect x="243.86" y="549.55" width="13.52" height="0.70" fill="#ffffff" stroke="none" stroke-width="1" opacity="0.6"/>
<rect x="257.38" y="549.55" width="27.07" height="0.70" fill="#ffffff" stroke="none" stroke-width="1" opacity="0.6"/>
<rect x="284.45" y="549.55" width="13.78" height="0.70" fill="#ffffff" stroke="none" stroke-width="1" opacity="0.6"/>
<rect x="78.30" y="551.51" width="17.29" height="0.70" fill="#ffffff" stroke="none" stroke-width="1" opacity="0.6"/>
<rect x="95.59" y="551.51" width="27.10" height="0.70" fill="#ffffff" stroke="none" stroke-width="1" opacity="0.6"/>
<rect x="168.74" y="551.51" width="28.59" height="0.70" fill="#ffffff" stroke="none" stroke-width="1" opacity="0.6"/>
<rect x="117.37" y="553.70" width="22.77" height="0.70" fill="#ffffff" stroke="none" stroke-width="1" opacity="0.6"/>
<rect x="274.79" y="553.70" width="5.63" height="0.70" fill="#ffffff" stroke="none" stroke-width="1" opacity="0.6"/>
<rect x="280.42" y="553.70" width="16.34" height="0.70" fill="#ffffff" stroke="none" stroke-width="1" opacity="0.6"/>
<rect x="296.76" y="553.70" width="14.24" height="0.70" fill="#ffffff" stroke="none" stroke-width="1" opacity="0.6"/>
<rect x="78.30" y="555.55" width="3.52" height="0.70" fill="#ffffff" stroke="none" stroke-width="1" opacity="0.6"/>
<rect x="187.41" y="555.55" width="2.30" height="0.70" fill="#ffffff" stroke="none" stroke-width="1" opacity="0.6"/>
<rect x="214.63" y="555.55" width="21.95" height="0.70" fill="#ffffff" stroke="none" stroke-width="1" opacity="0.6"/>
<rect x="236.58" y="555.55" width="16.87" height="0.70" fill="#ffffff" stroke="none" stroke-width="1" opacity="0.6"/>
<rect x="253.45" y="555.55" width="5.09" height="0.70" fill="#ffffff" stroke="none" stroke-width="1" opacity="0.6"/>
<rect x="287.59" y="555.55" width="23.41" height="0.70" fill="#ffffff" stroke="none" stroke-width="1" opacity="0.6"/>
<rect x="78.30" y="557.40" width="4.19" height="0.70" fill="#ffffff" stroke="none" stroke-width="1" opacity="0.6"/>
<rect x="163.67" y="557.40" width="13.04" height="0.70" fill="#ffffff" stroke="none" stroke-width="1" opacity="0.6"/>
<rect x="176.71" y="557.40" width="22.70" height="0.70" fill="#ffffff" stroke="none" stroke-width="1" opacity="0.6"/>
<rect x="265.57" y="557.40" width="8.23" height="0.70" fill="#ffffff" stroke="none" stroke-width="1" opacity="0.6"/>
<rect x="273.80" y="557.40" width="12.41" height="0.70" fill="#ffffff" stroke="none" stroke-width="1" opacity="0.6"/>
<rect x="286.22" y="557.40" width="15.55" height="0.70" fill="#ffffff" stroke="none" stroke-width="1" opacity="0.6"/>
<rect x="151.96" y="559.01" width="18.50" height="0.70" fill="#ffffff" stroke="none" stroke-width="1" opacity="0.6"/>
<rect x="186.40" y="559.01" width="23.11" height="0.70" fill="#ffffff" stroke="none" stroke-width="1" opacity="0.6"/>
<rect x="209.51" y="559.01" width="4.60" height="0.70" fill="#ffffff" stroke="none" stroke-width="1" opacity="0.6"/>
<rect x="237.58" y="559.01" width="13.26" height="0.70" fill="#ffffff" stroke="none" stroke-width="1" opacity="0.6"/>
<rect x="250.85" y="559.01" width="21.04" height="0.70" fill="#ffffff" stroke="none" stroke-width="1" opacity="0.6"/>
<rect x="301.44" y="559.01" width="9.56" height="0.70" fill="#ffffff" stroke="none" stroke-width="1" opacity="0.6"/>
<rect x="126.76" y="561.10" width="19.88" height="0.70" fill="#ffffff" stroke="none" stroke-width="1" opacity="0.6"/>
<rect x="174.81" y="561.10" width="18.24" height="0.70" fill="#ffffff" stroke="none" stroke-width="1" opacity="0.6"/>
<rect x="236.71" y="561.10" width="27.67" height="0.70" fill="#ffffff" stroke="none" stroke-width="1" opacity="0.6"/>
<rect x="78.30" y="562.97" width="14.23" height="0.70" fill="#ffffff" stroke="none" stroke-width="1" opacity="0.6"/>
<rect x="103.49" y="562.97" width="4.00" height="0.70" fill="#ffffff" stroke="none" stroke-width="1" opacity="0.6"/>
<rect x="132.84" y="562.97" width="17.35" height="0.70" fill="#ffffff" stroke="none" stroke-width="1" opacity="0.6"/>
<rect x="150.19" y="562.97" width="5.31" height="0.70" fill="#ffffff" stroke="none" stroke-width="1" opacity="0.6"/>
<rect x="184.21" y="562.97" width="27.82" height="0.70" fill="#ffffff" stroke="none" stroke-width="1" opacity="0.6"/>
<rect x="225.65" y="562.97" width="25.50" height="0.70" fill="#ffffff" stroke="none" stroke-width="1" opacity="0.6"/>
<rect x="102.77" y="564.98" width="7.66" height="0.70" fill="#ffffff" stroke="none" stroke-width="1" opacity="0.6"/>
<rect x="110.43" y="564.98" width="6.59" height="0.70" fill="#ffffff" stroke="none" stroke-width="1" opacity="0.6"/>
<rect x="192.39" y="564.98" width="29.46" height="0.70" fill="#ffffff" stroke="none" stroke-width="1" opacity="0.6"/>
<rect x="221.85" y="564.98" width="21.53" height="0.70" fill="#ffffff" stroke="none" stroke-width="1" opacity="0.6"/>
<rect x="252.69" y="564.98" width="18.10" height="0.70" fill="#ffffff" stroke="none" stroke-width="1" opacity="0.6"/>
<rect x="101.54" y="567.13" width="4.86" height="0.70" fill="#ffffff" stroke="none" stroke-width="1" opacity="0.6"/>
<rect x="106.40" y="567.13" width="25.73" height="0.70" fill="#ffffff" stroke="none" stroke-width="1" opacity="0.6"/>
<rect x="153.69" y="567.13" width="17.44" height="0.70" fill="#ffffff" stroke="none" stroke-width="1" opacity="0.6"/>
<rect x="205.52" y="567.13" width="8.12" height="0.70" fill="#ffffff" stroke="none" stroke-width="1" opacity="0.6"/>
<rect x="294.37" y="567.13" width="16.63" height="0.70" fill="#ffffff" stroke="none" stroke-width="1" opacity="0.6"/>
<rect x="78.30" y="569.24" width="22.35" height="0.70" fill="#ffffff" stroke="none" stroke-width="1" opacity="0.6"/>
<rect x="100.65" y="569.24" width="8.98" height="0.70" fill="#ffffff" stroke="none" stroke-width="1" opacity="0.6"/>
<rect x="109.63" y="569.24" width="17.04" height="0.70" fill="#ffffff" stroke="none" stroke-width="1" opacity="0.6"/>
<rect x="126.67" y="569.24" width="10.21" height="0.70" fill="#ffffff" stroke="none" stroke-width="1" opacity="0.6"/>
<rect x="142.56" y="569.24" width="9.63" height="0.70" fill="#ffffff" stroke="none" stroke-width="1" opacity="0.6"/>
<rect x="161.97" y="569.24" width="26.47" height="0.70" fill="#ffffff" stroke="none" stroke-width="1" opacity="0.6"/>
<rect x="276.59" y="569.24" width="23.71" height="0.70" fill="#ffffff" stroke="none" stroke-width="1" opacity="0.6"/>
<rect x="131.56" y="570.98" width="11.77" height="0.70" fill="#ffffff" stroke="none" stroke-width="1" opacity="0.6"/>
<rect x="143.32" y="570.98" width="28.60" height="0.70" fill="#ffffff" stroke="none" stroke-width="1" opacity="0.6"/>
<rect x="228.85" y="570.98" width="3.90" height="0.70" fill="#ffffff" stroke="none" stroke-width="1" opacity="0.6"/>
<rect x="100.04" y="572.70" width="15.61" height="0.70" fill="#ffffff" stroke="none" stroke-width="1" opacity="0.6"/>
<rect x="160.51" y="572.70" width="5.78" height="0.70" fill="#ffffff" stroke="none" stroke-width="1" opacity="0.6"/>
<rect x="300.88" y="572.70" width="10.12" height="0.70" fill="#ffffff" stroke="none" stroke-width="1" opacity="0.6"/>
<rect x="78.30" y="574.61" width="28.87" height="0.70" fill="#ffffff" stroke="none" stroke-width="1" opacity="0.6"/>
<rect x="112.29" y="574.61" width="28.80" height="0.70" fill="#ffffff" stroke="none" stroke-width="1" opacity="0.6"/>
<rect x="183.51" y="574.61" width="24.62" height="0.70" fill="#ffffff" stroke="none" stroke-width="1" opacity="0.6"/>
<rect x="241.34" y="574.61" width="13.41" height="0.70" fill="#ffffff" stroke="none" stroke-width="1" opacity="0.6"/>
<rect x="254.75" y="574.61" width="11.71" height="0.70" fill="#ffffff" stroke="none" stroke-width="1" opacity="0.6"/>
<rect x="266.46" y="574.61" width="23.57" height="0.70" fill="#ffffff" stroke="none" stroke-width="1" opacity="0.6"/>
<rect x="86.86" y="576.49" width="6.92" height="0.70" fill="#ffffff" stroke="none" stroke-width="1" opacity="0.6"/>
<rect x="102.88" y="576.49" width="23.94" height="0.70" fill="#ffffff" stroke="none" stroke-width="1" opacity="0.6"/>
<rect x="153.92" y="576.49" width="7.17" height="0.70" fill="#ffffff" stroke="none" stroke-width="1" opacity="0.6"/>
<rect x="161.08" y="576.49" width="10.44" height="0.70" fill="#ffffff" stroke="none" stroke-width="1" opacity="0.6"/>
<rect x="222.19" y="576.49" width="8.84" height="0.70" fill="#ffffff" stroke="none" stroke-width="1" opacity="0.6"/>
<rect x="284.53" y="576.49" width="12.84" height="0.70" fill="#ffffff" stroke="none" stroke-width="1" opacity="0.6"/>
<rect x="135.23" y="578.29" width="24.91" height="0.70" fill="#ffffff" stroke="none" stroke-width="1" opacity="0.6"/>
<rect x="179.94" y="578.29" width="6.02" height="0.70" fill="#ffffff" stroke="none" stroke-width="1" opacity="0.6"/>
<rect x="212.54" y="578.29" width="28.08" height="0.70" fill="#ffffff" stroke="none" stroke-width="1" opacity="0.6"/>
<rect x="240.63" y="578.29" width="28.06" height="0.70" fill="#ffffff" stroke="none" stroke-width="1" opacity="0.6"/>
<rect x="290.69" y="578.29" width="7.39" height="0.70" fill="#ffffff" stroke="none" stroke-width="1" opacity="0.6"/>
<rect x="106.88" y="580.32" width="12.42" height="0.70" fill="#ffffff" stroke="none" stroke-width="1" opacity="0.6"/>
<rect x="128.95" y="580.32" width="4.01" height="0.70" fill="#ffffff" stroke="none" stroke-width="1" opacity="0.6"/>
<rect x="132.95" y="580.32" width="11.73" height="0.70" fill="#ffffff" stroke="none" stroke-width="1" opacity="0.6"/>
<rect x="144.69" y="580.32" width="10.59" height="0.70" fill="#ffffff" stroke="none" stroke-width="1" opacity="0.6"/>
<rect x="201.19" y="580.32" width="28.52" height="0.70" fill="#ffffff" stroke="none" stroke-width="1" opacity="0.6"/>
<rect x="229.71" y="580.32" width="8.24" height="0.70" fill="#ffffff" stroke="none" stroke-width="1" opacity="0.6"/>
<rect x="276.49" y="580.32" width="6.49" height="0.70" fill="#ffffff" stroke="none" stroke-width="1" opacity="0.6"/>
<rect x="282.98" y="580.32" width="17.92" height="0.70" fill="#ffffff" stroke="none" stroke-width="1" opacity="0.6"/>
<rect x="97.19" y="582.20" width="15.02" height="0.70" fill="#ffffff" stroke="none" stroke-width="1" opacity="0.6"/>
<rect x="143.33" y="582.20" width="13.21" height="0.70" fill="#ffffff" stroke="none" stroke-width="1" opacity="0.6"/>
<rect x="156.54" y="582.20" width="6.56" height="0.70" fill="#ffffff" stroke="none" stroke-width="1" opacity="0.6"/>
<rect x="163.10" y="582.20" width="22.62" height="0.70" fill="#ffffff" stroke="none" stroke-width="1" opacity="0.6"/>
<rect x="185.72" y="582.20" width="2.55" height="0.70" fill="#ffffff" stroke="none" stroke-width="1" opacity="0.6"/>
<rect x="232.92" y="582.20" width="7.11" height="0.70" fill="#ffffff" stroke="none" stroke-width="1" opacity="0.6"/>
<rect x="240.03" y="582.20" width="10.52" height="0.70" fill="#ffffff" stroke="none" stroke-width="1" opacity="0.6"/>
<rect x="272.19" y="582.20" width="19.47" height="0.70" fill="#ffffff" stroke="none" stroke-width="1" opacity="0.6"/>
<rect x="78.30" y="584.12" width="14.89" height="0.70" fill="#ffffff" stroke="none" stroke-width="1" opacity="0.6"/>
<rect x="93.19" y="584.12" width="27.58" height="0.70" fill="#ffffff" stroke="none" stroke-width="1" opacity="0.6"/>
<rect x="148.98" y="584.12" width="26.70" height="0.70" fill="#ffffff" stroke="none" stroke-width="1" opacity="0.6"/>
<rect x="191.92" y="584.12" width="10.08" height="0.70" fill="#ffffff" stroke="none" stroke-width="1" opacity="0.6"/>
<rect x="202.00" y="584.12" width="22.26" height="0.70" fill="#ffffff" stroke="none" stroke-width="1" opacity="0.6"/>
<rect x="224.26" y="584.12" width="18.34" height="0.70" fill="#ffffff" stroke="none" stroke-width="1" opacity="0.6"/>
<rect x="242.60" y="584.12" width="28.53" height="0.70" fill="#ffffff" stroke="none" stroke-width="1" opacity="0.6"/>
<rect x="78.30" y="585.72" width="15.90" height="0.70" fill="#ffffff" stroke="none" stroke-width="1" opacity="0.6"/>
<rect x="112.28" y="585.72" width="14.94" height="0.70" fill="#ffffff" stroke="none" stroke-width="1" opacity="0.6"/>
<rect x="185.89" y="585.72" width="24.34" height="0.70" fill="#ffffff" stroke="none" stroke-width="1" opacity="0.6"/>
<rect x="279.93" y="585.72" width="15.50" height="0.70" fill="#ffffff" stroke="none" stroke-width="1" opacity="0.6"/>
<rect x="78.30" y="544.30" width="15.00" height="41.50" fill="#ffffff" stroke="none" stroke-width="1" opacity="0.7"/>
<path d="M93,578 L160,581 L240,576 L290,568 L311,571 L311,585 L93,585 Z" fill="#ffffff" stroke="none" stroke-width="1" opacity="0.35"/>
<rect x="147.97" y="555.09" width="52.54" height="1.18" fill="#ffffff" stroke="none" stroke-width="1" opacity="0.8"/>
<rect x="239.22" y="579.34" width="45.83" height="1.18" fill="#ffffff" stroke="none" stroke-width="1" opacity="0.8"/>
<rect x="225.25" y="571.06" width="51.06" height="0.81" fill="#ffffff" stroke="none" stroke-width="1" opacity="0.8"/>
<rect x="159.43" y="574.26" width="25.98" height="1.25" fill="#ffffff" stroke="none" stroke-width="1" opacity="0.8"/>
<rect x="186.54" y="549.71" width="30.44" height="1.18" fill="#ffffff" stroke="none" stroke-width="1" opacity="0.8"/>
<rect x="238.44" y="567.93" width="56.96" height="1.09" fill="#ffffff" stroke="none" stroke-width="1" opacity="0.8"/>
<rect x="206.74" y="551.00" width="19.92" height="1.29" fill="#ffffff" stroke="none" stroke-width="1" opacity="0.8"/>
<rect x="160.38" y="576.01" width="23.37" height="1.12" fill="#ffffff" stroke="none" stroke-width="1" opacity="0.8"/>
<rect x="248.05" y="572.50" width="43.03" height="0.78" fill="#ffffff" stroke="none" stroke-width="1" opacity="0.8"/>
<rect x="127.61" y="571.53" width="54.05" height="1.16" fill="#ffffff" stroke="none" stroke-width="1" opacity="0.8"/>
<rect x="233.57" y="573.35" width="40.61" height="1.27" fill="#ffffff" stroke="none" stroke-width="1" opacity="0.8"/>
<rect x="183.95" y="568.81" width="32.30" height="0.91" fill="#ffffff" stroke="none" stroke-width="1" opacity="0.8"/>
<rect x="140.93" y="549.71" width="50.80" height="0.84" fill="#ffffff" stroke="none" stroke-width="1" opacity="0.8"/>
<rect x="220.79" y="569.26" width="46.25" height="1.01" fill="#ffffff" stroke="none" stroke-width="1" opacity="0.8"/>
<rect x="155.47" y="558.80" width="23.43" height="1.09" fill="#ffffff" stroke="none" stroke-width="1" opacity="0.8"/>
<rect x="242.49" y="570.27" width="29.88" height="1.26" fill="#ffffff" stroke="none" stroke-width="1" opacity="0.8"/>
<rect x="157.77" y="577.26" width="57.84" height="1.07" fill="#ffffff" stroke="none" stroke-width="1" opacity="0.8"/>
<rect x="220.64" y="578.84" width="30.00" height="0.87" fill="#ffffff" stroke="none" stroke-width="1" opacity="0.8"/>
<rect x="183.42" y="565.20" width="16.59" height="1.22" fill="#ffffff" stroke="none" stroke-width="1" opacity="0.8"/>
<rect x="181.49" y="565.60" width="48.51" height="0.85" fill="#ffffff" stroke="none" stroke-width="1" opacity="0.8"/>
<rect x="195.50" y="555.18" width="25.86" height="0.90" fill="#ffffff" stroke="none" stroke-width="1" opacity="0.8"/>
<rect x="126.78" y="551.17" width="30.99" height="1.02" fill="#ffffff" stroke="none" stroke-width="1" opacity="0.8"/>
<line x1="74.23" y1="552.00" x2="80.00" y2="552.00" stroke="#f2d2b0" stroke-width="0.6"/>
<line x1="69.59" y1="558.00" x2="80.00" y2="558.00" stroke="#f2d2b0" stroke-width="0.6"/>
<line x1="66.22" y1="563.00" x2="80.00" y2="563.00" stroke="#f2d2b0" stroke-width="0.6"/>
<line x1="66.10" y1="569.00" x2="80.00" y2="569.00" stroke="#f2d2b0" stroke-width="0.6"/>
<line x1="63.53" y1="574.00" x2="80.00" y2="574.00" stroke="#f2d2b0" stroke-width="0.6"/>
<line x1="67.11" y1="579.00" x2="80.00" y2="579.00" stroke="#f2d2b0" stroke-width="0.6"/>
<line x1="310.00" y1="548.00" x2="323.59" y2="548.00" stroke="#f0caa0" stroke-width="0.7"/>
<line x1="310.00" y1="551.00" x2="315.22" y2="551.00" stroke="#f0caa0" stroke-width="0.7"/>
<line x1="310.00" y1="555.00" x2="318.33" y2="555.00" stroke="#f0caa0" stroke-width="0.7"/>
<line x1="310.00" y1="560.00" x2="320.86" y2="560.00" stroke="#f0caa0" stroke-width="0.7"/>
<line x1="310.00" y1="566.00" x2="321.62" y2="566.00" stroke="#f0caa0" stroke-width="0.7"/>
<line x1="310.00" y1="571.00" x2="319.55" y2="571.00" stroke="#f0caa0" stroke-width="0.7"/>
<text x="52.3" y="541.6" font-size="7.4" text-anchor="end" font-weight="normal" fill="#222" textLength="43.8" lengthAdjust="spacingAndGlyphs" stroke="#222" stroke-width="0.08">UT242 genome</text>
<text x="52.3" y="560.2" font-size="7.4" text-anchor="end" font-weight="normal" fill="#222" textLength="45.4" lengthAdjust="spacingAndGlyphs" stroke="#222" stroke-width="0.08">Optical genome</text>
<text x="52.3" y="568.0" font-size="7.4" text-anchor="end" font-weight="normal" fill="#222" textLength="24.6" lengthAdjust="spacingAndGlyphs" stroke="#222" stroke-width="0.08">mapping</text>
<text x="52.3" y="577.9" font-size="7.4" text-anchor="end" font-weight="normal" fill="#222" textLength="44.6" lengthAdjust="spacingAndGlyphs" stroke="#222" stroke-width="0.08">DNA fragments</text>
<text x="21.6" y="515.4" font-size="7.2" text-anchor="middle" font-weight="normal" fill="#222" textLength="29.2" lengthAdjust="spacingAndGlyphs" transform="rotate(-90 21.6 515.4)" stroke="#222" stroke-width="0.08">Reference</text>
<text x="29.6" y="515.4" font-size="7.2" text-anchor="middle" font-weight="normal" fill="#222" textLength="23.2" lengthAdjust="spacingAndGlyphs" transform="rotate(-90 29.6 515.4)" stroke="#222" stroke-width="0.08">genome</text>
<line x1="34.20" y1="501.50" x2="34.20" y2="529.20" stroke="#444" stroke-width="0.7"/>
<text x="52.3" y="506.3" font-size="7.2" text-anchor="end" font-weight="normal" fill="#222" textLength="12" lengthAdjust="spacingAndGlyphs" stroke="#222" stroke-width="0.08">chr5</text>
<text x="52.3" y="527.8" font-size="7.2" text-anchor="end" font-weight="normal" fill="#222" textLength="15.4" lengthAdjust="spacingAndGlyphs" stroke="#222" stroke-width="0.08">chr14</text>
<text x="37.6" y="643.6" font-size="7.6" text-anchor="start" font-weight="normal" fill="#222" textLength="14.7" lengthAdjust="spacingAndGlyphs" stroke="#222" stroke-width="0.16">WGS</text>
<text x="112.5" y="602.0" font-size="7.0" text-anchor="middle" font-weight="normal" fill="#222" stroke="#222" stroke-width="0.05">UT242</text>
<text x="56.4" y="608.6" font-size="6.5" text-anchor="start" font-weight="normal" fill="#222" textLength="45.5" lengthAdjust="spacingAndGlyphs" stroke="#222" stroke-width="0.05">chr5:170,733,191</text>
<text x="122.5" y="608.6" font-size="6.5" text-anchor="start" font-weight="normal" fill="#222" textLength="45" lengthAdjust="spacingAndGlyphs" stroke="#222" stroke-width="0.05">chr14:99,014,789</text>
<svg x="56.70" y="614.40" width="54.40" height="52.20" overflow="hidden">
<rect x="-20.08" y="0.00" width="7.26" height="2.20" fill="#bebebe" stroke="none" stroke-width="1"/>
<rect x="-19.36" y="2.15" width="7.26" height="2.20" fill="#c2c2c2" stroke="none" stroke-width="1"/>
<rect x="-18.73" y="4.30" width="7.26" height="2.20" fill="#c2c2c2" stroke="none" stroke-width="1"/>
<rect x="-18.11" y="6.45" width="7.26" height="2.20" fill="#bebebe" stroke="none" stroke-width="1"/>
<rect x="-17.33" y="8.60" width="7.26" height="2.20" fill="#bebebe" stroke="none" stroke-width="1"/>
<rect x="-16.46" y="10.75" width="7.26" height="2.20" fill="#c2c2c2" stroke="none" stroke-width="1"/>
<rect x="-15.72" y="12.90" width="7.26" height="2.20" fill="#cccccc" stroke="none" stroke-width="1"/>
<rect x="-14.79" y="15.05" width="7.26" height="2.20" fill="#c8c8c8" stroke="none" stroke-width="1"/>
<rect x="-13.89" y="17.20" width="7.26" height="2.20" fill="#c2c2c2" stroke="none" stroke-width="1"/>
<rect x="-13.34" y="19.35" width="7.26" height="2.20" fill="#cccccc" stroke="none" stroke-width="1"/>
<rect x="-12.61" y="21.50" width="7.26" height="2.20" fill="#c8c8c8" stroke="none" stroke-width="1"/>
<rect x="-11.86" y="23.65" width="7.26" height="2.20" fill="#c8c8c8" stroke="none" stroke-width="1"/>
<rect x="-11.05" y="25.80" width="7.26" height="2.20" fill="#c5c5c5" stroke="none" stroke-width="1"/>
<rect x="-10.47" y="27.95" width="7.26" height="2.20" fill="#c5c5c5" stroke="none" stroke-width="1"/>
<rect x="-9.90" y="30.10" width="7.26" height="2.20" fill="#cccccc" stroke="none" stroke-width="1"/>
<rect x="-9.19" y="32.25" width="7.26" height="2.20" fill="#cccccc" stroke="none" stroke-width="1"/>
<rect x="-8.40" y="34.40" width="7.26" height="2.20" fill="#c8c8c8" stroke="none" stroke-width="1"/>
<rect x="-11.57" y="0.00" width="6.44" height="2.20" fill="#c2c2c2" stroke="none" stroke-width="1"/>
<rect x="-11.01" y="2.15" width="6.44" height="2.20" fill="#c5c5c5" stroke="none" stroke-width="1"/>
<rect x="-10.17" y="4.30" width="6.44" height="2.20" fill="#c8c8c8" stroke="none" stroke-width="1"/>
<rect x="-9.30" y="6.45" width="6.44" height="2.20" fill="#bebebe" stroke="none" stroke-width="1"/>
<rect x="-8.60" y="8.60" width="6.44" height="2.20" fill="#cccccc" stroke="none" stroke-width="1"/>
<rect x="-7.88" y="10.75" width="6.44" height="2.20" fill="#c8c8c8" stroke="none" stroke-width="1"/>
<rect x="-7.17" y="12.90" width="6.44" height="2.20" fill="#bebebe" stroke="none" stroke-width="1"/>
<rect x="-6.58" y="15.05" width="6.44" height="2.20" fill="#cccccc" stroke="none" stroke-width="1"/>
<rect x="-5.81" y="17.20" width="6.44" height="2.20" fill="#cccccc" stroke="none" stroke-width="1"/>
<rect x="-5.06" y="19.35" width="6.44" height="2.20" fill="#cccccc" stroke="none" stroke-width="1"/>
<rect x="-4.48" y="21.50" width="6.44" height="2.20" fill="#c8c8c8" stroke="none" stroke-width="1"/>
<rect x="-3.64" y="23.65" width="6.44" height="2.20" fill="#c5c5c5" stroke="none" stroke-width="1"/>
<rect x="-2.82" y="25.80" width="6.44" height="2.20" fill="#cccccc" stroke="none" stroke-width="1"/>
<rect x="-2.15" y="27.95" width="6.44" height="2.20" fill="#c5c5c5" stroke="none" stroke-width="1"/>
<rect x="-1.39" y="30.10" width="6.44" height="2.20" fill="#bebebe" stroke="none" stroke-width="1"/>
<rect x="-0.68" y="32.25" width="6.44" height="2.20" fill="#cccccc" stroke="none" stroke-width="1"/>
<rect x="-4.17" y="0.00" width="7.21" height="2.20" fill="#bebebe" stroke="none" stroke-width="1"/>
<rect x="-3.54" y="2.15" width="7.21" height="2.20" fill="#cccccc" stroke="none" stroke-width="1"/>
<rect x="-2.76" y="4.30" width="7.21" height="2.20" fill="#c8c8c8" stroke="none" stroke-width="1"/>
<rect x="-2.05" y="6.45" width="7.21" height="2.20" fill="#c5c5c5" stroke="none" stroke-width="1"/>
<rect x="-1.21" y="8.60" width="7.21" height="2.20" fill="#bebebe" stroke="none" stroke-width="1"/>
<rect x="-0.43" y="10.75" width="7.21" height="2.20" fill="#bebebe" stroke="none" stroke-width="1"/>
<rect x="0.39" y="12.90" width="7.21" height="2.20" fill="#cccccc" stroke="none" stroke-width="1"/>
<rect x="1.33" y="15.05" width="7.21" height="2.20" fill="#c8c8c8" stroke="none" stroke-width="1"/>
<rect x="2.12" y="17.20" width="7.21" height="2.20" fill="#c5c5c5" stroke="none" stroke-width="1"/>
<rect x="2.78" y="19.35" width="7.21" height="2.20" fill="#c5c5c5" stroke="none" stroke-width="1"/>
<rect x="3.71" y="21.50" width="7.21" height="2.20" fill="#bebebe" stroke="none" stroke-width="1"/>
<rect x="4.51" y="23.65" width="7.21" height="2.20" fill="#cccccc" stroke="none" stroke-width="1"/>
<rect x="5.18" y="25.80" width="7.21" height="2.20" fill="#cccccc" stroke="none" stroke-width="1"/>
<rect x="5.76" y="27.95" width="7.21" height="2.20" fill="#c2c2c2" stroke="none" stroke-width="1"/>
<rect x="6.53" y="30.10" width="7.21" height="2.20" fill="#cccccc" stroke="none" stroke-width="1"/>
<rect x="7.46" y="32.25" width="7.21" height="2.20" fill="#bebebe" stroke="none" stroke-width="1"/>
<rect x="3.95" y="0.00" width="6.24" height="2.20" fill="#bebebe" stroke="none" stroke-width="1"/>
<rect x="4.65" y="2.15" width="6.24" height="2.20" fill="#bebebe" stroke="none" stroke-width="1"/>
<rect x="5.43" y="4.30" width="6.24" height="2.20" fill="#a8d888" stroke="none" stroke-width="1"/>
<rect x="6.14" y="6.45" width="6.24" height="2.20" fill="#cccccc" stroke="none" stroke-width="1"/>
<rect x="6.82" y="8.60" width="6.24" height="2.20" fill="#c5c5c5" stroke="none" stroke-width="1"/>
<rect x="7.44" y="10.75" width="6.24" height="2.20" fill="#c2c2c2" stroke="none" stroke-width="1"/>
<rect x="8.24" y="12.90" width="6.24" height="2.20" fill="#c2c2c2" stroke="none" stroke-width="1"/>
<rect x="8.90" y="15.05" width="6.24" height="2.20" fill="#cccccc" stroke="none" stroke-width="1"/>
<rect x="9.68" y="17.20" width="6.24" height="2.20" fill="#bebebe" stroke="none" stroke-width="1"/>
<rect x="10.31" y="19.35" width="6.24" height="2.20" fill="#bebebe" stroke="none" stroke-width="1"/>
<rect x="11.00" y="21.50" width="6.24" height="2.20" fill="#c8c8c8" stroke="none" stroke-width="1"/>
<rect x="11.83" y="23.65" width="6.24" height="2.20" fill="#c888b8" stroke="none" stroke-width="1"/>
<rect x="12.49" y="25.80" width="6.24" height="2.20" fill="#c5c5c5" stroke="none" stroke-width="1"/>
<rect x="13.13" y="27.95" width="6.24" height="2.20" fill="#c8c8c8" stroke="none" stroke-width="1"/>
<rect x="13.81" y="30.10" width="6.24" height="2.20" fill="#bebebe" stroke="none" stroke-width="1"/>
<rect x="14.71" y="32.25" width="6.24" height="2.20" fill="#c8c8c8" stroke="none" stroke-width="1"/>
<rect x="15.63" y="34.40" width="6.24" height="2.20" fill="#c888b8" stroke="none" stroke-width="1"/>
<rect x="16.46" y="36.55" width="6.24" height="2.20" fill="#c8c8c8" stroke="none" stroke-width="1"/>
<rect x="11.68" y="0.00" width="6.08" height="2.20" fill="#cccccc" stroke="none" stroke-width="1"/>
<rect x="12.25" y="2.15" width="6.08" height="2.20" fill="#c2c2c2" stroke="none" stroke-width="1"/>
<rect x="13.07" y="4.30" width="6.08" height="2.20" fill="#b080c0" stroke="none" stroke-width="1"/>
<rect x="13.64" y="6.45" width="6.08" height="2.20" fill="#bebebe" stroke="none" stroke-width="1"/>
<rect x="14.39" y="8.60" width="6.08" height="2.20" fill="#c5c5c5" stroke="none" stroke-width="1"/>
<rect x="14.96" y="10.75" width="6.08" height="2.20" fill="#c888b8" stroke="none" stroke-width="1"/>
<rect x="15.58" y="12.90" width="6.08" height="2.20" fill="#c8a0d0" stroke="none" stroke-width="1"/>
<rect x="16.41" y="15.05" width="6.08" height="2.20" fill="#b080c0" stroke="none" stroke-width="1"/>
<rect x="17.05" y="17.20" width="6.08" height="2.20" fill="#b080c0" stroke="none" stroke-width="1"/>
<rect x="17.60" y="19.35" width="6.08" height="2.20" fill="#c090c8" stroke="none" stroke-width="1"/>
<rect x="18.16" y="21.50" width="6.08" height="2.20" fill="#c8a0d0" stroke="none" stroke-width="1"/>
<rect x="18.81" y="23.65" width="6.08" height="2.20" fill="#c090c8" stroke="none" stroke-width="1"/>
<rect x="19.55" y="25.80" width="6.08" height="2.20" fill="#c888b8" stroke="none" stroke-width="1"/>
<rect x="20.46" y="27.95" width="6.08" height="2.20" fill="#c5c5c5" stroke="none" stroke-width="1"/>
<rect x="21.18" y="30.10" width="6.08" height="2.20" fill="#d8a8d0" stroke="none" stroke-width="1"/>
<rect x="21.88" y="32.25" width="6.08" height="2.20" fill="#c888b8" stroke="none" stroke-width="1"/>
<rect x="22.66" y="34.40" width="6.08" height="2.20" fill="#b080c0" stroke="none" stroke-width="1"/>
<rect x="23.33" y="36.55" width="6.08" height="2.20" fill="#c2c2c2" stroke="none" stroke-width="1"/>
<rect x="23.90" y="38.70" width="6.08" height="2.20" fill="#c8a0d0" stroke="none" stroke-width="1"/>
<rect x="24.59" y="40.85" width="6.08" height="2.20" fill="#c5c5c5" stroke="none" stroke-width="1"/>
<rect x="19.19" y="0.00" width="6.56" height="2.20" fill="#c888b8" stroke="none" stroke-width="1"/>
<rect x="20.13" y="2.15" width="6.56" height="2.20" fill="#c8a0d0" stroke="none" stroke-width="1"/>
<rect x="20.90" y="4.30" width="6.56" height="2.20" fill="#c888b8" stroke="none" stroke-width="1"/>
<rect x="21.67" y="6.45" width="6.56" height="2.20" fill="#c2c2c2" stroke="none" stroke-width="1"/>
<rect x="22.43" y="8.60" width="6.56" height="2.20" fill="#c090c8" stroke="none" stroke-width="1"/>
<rect x="22.98" y="10.75" width="6.56" height="2.20" fill="#c8c8c8" stroke="none" stroke-width="1"/>
<rect x="23.82" y="12.90" width="6.56" height="2.20" fill="#d8a8d0" stroke="none" stroke-width="1"/>
<rect x="24.60" y="15.05" width="6.56" height="2.20" fill="#c888b8" stroke="none" stroke-width="1"/>
<rect x="25.44" y="17.20" width="6.56" height="2.20" fill="#98d078" stroke="none" stroke-width="1"/>
<rect x="26.26" y="19.35" width="6.56" height="2.20" fill="#c8c8c8" stroke="none" stroke-width="1"/>
<rect x="27.07" y="21.50" width="6.56" height="2.20" fill="#bebebe" stroke="none" stroke-width="1"/>
<rect x="27.99" y="23.65" width="6.56" height="2.20" fill="#98d078" stroke="none" stroke-width="1"/>
<rect x="28.82" y="25.80" width="6.56" height="2.20" fill="#c8c8c8" stroke="none" stroke-width="1"/>
<rect x="29.47" y="27.95" width="6.56" height="2.20" fill="#a8d888" stroke="none" stroke-width="1"/>
<rect x="30.41" y="30.10" width="6.56" height="2.20" fill="#98d078" stroke="none" stroke-width="1"/>
<rect x="31.27" y="32.25" width="6.56" height="2.20" fill="#98d078" stroke="none" stroke-width="1"/>
<rect x="32.13" y="34.40" width="6.56" height="2.20" fill="#c2c2c2" stroke="none" stroke-width="1"/>
<rect x="33.04" y="36.55" width="6.56" height="2.20" fill="#bebebe" stroke="none" stroke-width="1"/>
<rect x="33.95" y="38.70" width="6.56" height="2.20" fill="#a8d888" stroke="none" stroke-width="1"/>
<rect x="34.74" y="40.85" width="6.56" height="2.20" fill="#c2c2c2" stroke="none" stroke-width="1"/>
<rect x="27.26" y="0.00" width="6.54" height="2.20" fill="#a8d888" stroke="none" stroke-width="1"/>
<rect x="27.90" y="2.15" width="6.54" height="2.20" fill="#98d078" stroke="none" stroke-width="1"/>
<rect x="28.72" y="4.30" width="6.54" height="2.20" fill="#98d078" stroke="none" stroke-width="1"/>
<rect x="29.43" y="6.45" width="6.54" height="2.20" fill="#c2c2c2" stroke="none" stroke-width="1"/>
<rect x="30.24" y="8.60" width="6.54" height="2.20" fill="#cccccc" stroke="none" stroke-width="1"/>
<rect x="30.92" y="10.75" width="6.54" height="2.20" fill="#a0d080" stroke="none" stroke-width="1"/>
<rect x="31.71" y="12.90" width="6.54" height="2.20" fill="#a8d888" stroke="none" stroke-width="1"/>
<rect x="32.30" y="15.05" width="6.54" height="2.20" fill="#bebebe" stroke="none" stroke-width="1"/>
<rect x="33.00" y="17.20" width="6.54" height="2.20" fill="#98d078" stroke="none" stroke-width="1"/>
<rect x="33.63" y="19.35" width="6.54" height="2.20" fill="#98d078" stroke="none" stroke-width="1"/>
<rect x="34.36" y="21.50" width="6.54" height="2.20" fill="#cccccc" stroke="none" stroke-width="1"/>
<rect x="34.94" y="23.65" width="6.54" height="2.20" fill="#a0d080" stroke="none" stroke-width="1"/>
<rect x="35.68" y="25.80" width="6.54" height="2.20" fill="#cccccc" stroke="none" stroke-width="1"/>
<rect x="36.53" y="27.95" width="6.54" height="2.20" fill="#bebebe" stroke="none" stroke-width="1"/>
<rect x="37.10" y="30.10" width="6.54" height="2.20" fill="#98d078" stroke="none" stroke-width="1"/>
<rect x="37.90" y="32.25" width="6.54" height="2.20" fill="#a0d080" stroke="none" stroke-width="1"/>
<rect x="38.50" y="34.40" width="6.54" height="2.20" fill="#b8e098" stroke="none" stroke-width="1"/>
<rect x="39.29" y="36.55" width="6.54" height="2.20" fill="#98d078" stroke="none" stroke-width="1"/>
<rect x="39.96" y="38.70" width="6.54" height="2.20" fill="#a0d080" stroke="none" stroke-width="1"/>
<rect x="40.59" y="40.85" width="6.54" height="2.20" fill="#98d078" stroke="none" stroke-width="1"/>
<rect x="35.25" y="0.00" width="6.53" height="2.20" fill="#a8d888" stroke="none" stroke-width="1"/>
<rect x="35.99" y="2.15" width="6.53" height="2.20" fill="#c2c2c2" stroke="none" stroke-width="1"/>
<rect x="36.56" y="4.30" width="6.53" height="2.20" fill="#bebebe" stroke="none" stroke-width="1"/>
<rect x="37.27" y="6.45" width="6.53" height="2.20" fill="#c5c5c5" stroke="none" stroke-width="1"/>
<rect x="37.94" y="8.60" width="6.53" height="2.20" fill="#bebebe" stroke="none" stroke-width="1"/>
<rect x="38.54" y="10.75" width="6.53" height="2.20" fill="#cccccc" stroke="none" stroke-width="1"/>
<rect x="39.45" y="12.90" width="6.53" height="2.20" fill="#c2c2c2" stroke="none" stroke-width="1"/>
<rect x="40.01" y="15.05" width="6.53" height="2.20" fill="#98d078" stroke="none" stroke-width="1"/>
<rect x="40.86" y="17.20" width="6.53" height="2.20" fill="#c2c2c2" stroke="none" stroke-width="1"/>
<rect x="41.78" y="19.35" width="6.53" height="2.20" fill="#c8c8c8" stroke="none" stroke-width="1"/>
<rect x="42.68" y="21.50" width="6.53" height="2.20" fill="#bebebe" stroke="none" stroke-width="1"/>
<rect x="43.27" y="23.65" width="6.53" height="2.20" fill="#c2c2c2" stroke="none" stroke-width="1"/>
<rect x="44.17" y="25.80" width="6.53" height="2.20" fill="#bebebe" stroke="none" stroke-width="1"/>
<rect x="44.99" y="27.95" width="6.53" height="2.20" fill="#c5c5c5" stroke="none" stroke-width="1"/>
<rect x="45.77" y="30.10" width="6.53" height="2.20" fill="#bebebe" stroke="none" stroke-width="1"/>
<rect x="46.66" y="32.25" width="6.53" height="2.20" fill="#bebebe" stroke="none" stroke-width="1"/>
<rect x="47.26" y="34.40" width="6.53" height="2.20" fill="#cccccc" stroke="none" stroke-width="1"/>
<rect x="47.85" y="36.55" width="6.53" height="2.20" fill="#c2c2c2" stroke="none" stroke-width="1"/>
<rect x="42.83" y="0.00" width="6.55" height="2.20" fill="#bebebe" stroke="none" stroke-width="1"/>
<rect x="43.72" y="2.15" width="6.55" height="2.20" fill="#c2c2c2" stroke="none" stroke-width="1"/>
<rect x="44.42" y="4.30" width="6.55" height="2.20" fill="#c5c5c5" stroke="none" stroke-width="1"/>
<rect x="45.31" y="6.45" width="6.55" height="2.20" fill="#c8c8c8" stroke="none" stroke-width="1"/>
<rect x="46.10" y="8.60" width="6.55" height="2.20" fill="#c2c2c2" stroke="none" stroke-width="1"/>
<rect x="46.93" y="10.75" width="6.55" height="2.20" fill="#bebebe" stroke="none" stroke-width="1"/>
<rect x="47.66" y="12.90" width="6.55" height="2.20" fill="#c5c5c5" stroke="none" stroke-width="1"/>
<rect x="48.24" y="15.05" width="6.55" height="2.20" fill="#c8c8c8" stroke="none" stroke-width="1"/>
<rect x="48.86" y="17.20" width="6.55" height="2.20" fill="#cccccc" stroke="none" stroke-width="1"/>
<rect x="49.79" y="19.35" width="6.55" height="2.20" fill="#cccccc" stroke="none" stroke-width="1"/>
<rect x="50.56" y="21.50" width="6.55" height="2.20" fill="#c8c8c8" stroke="none" stroke-width="1"/>
<rect x="51.41" y="23.65" width="6.55" height="2.20" fill="#cccccc" stroke="none" stroke-width="1"/>
<rect x="52.20" y="25.80" width="6.55" height="2.20" fill="#c8c8c8" stroke="none" stroke-width="1"/>
<rect x="52.99" y="27.95" width="6.55" height="2.20" fill="#c2c2c2" stroke="none" stroke-width="1"/>
<rect x="53.88" y="30.10" width="6.55" height="2.20" fill="#c5c5c5" stroke="none" stroke-width="1"/>
<rect x="54.66" y="32.25" width="6.55" height="2.20" fill="#bebebe" stroke="none" stroke-width="1"/>
<rect x="55.23" y="34.40" width="6.55" height="2.20" fill="#c2c2c2" stroke="none" stroke-width="1"/>
<rect x="55.84" y="36.55" width="6.55" height="2.20" fill="#bebebe" stroke="none" stroke-width="1"/>
<rect x="56.61" y="38.70" width="6.55" height="2.20" fill="#bebebe" stroke="none" stroke-width="1"/>
<rect x="57.18" y="40.85" width="6.55" height="2.20" fill="#c2c2c2" stroke="none" stroke-width="1"/>
<rect x="50.69" y="0.00" width="6.22" height="2.20" fill="#bebebe" stroke="none" stroke-width="1"/>
<rect x="51.48" y="2.15" width="6.22" height="2.20" fill="#bebebe" stroke="none" stroke-width="1"/>
<rect x="52.18" y="4.30" width="6.22" height="2.20" fill="#bebebe" stroke="none" stroke-width="1"/>
<rect x="52.95" y="6.45" width="6.22" height="2.20" fill="#c5c5c5" stroke="none" stroke-width="1"/>
<rect x="53.52" y="8.60" width="6.22" height="2.20" fill="#c5c5c5" stroke="none" stroke-width="1"/>
<rect x="54.18" y="10.75" width="6.22" height="2.20" fill="#bebebe" stroke="none" stroke-width="1"/>
<rect x="54.92" y="12.90" width="6.22" height="2.20" fill="#c2c2c2" stroke="none" stroke-width="1"/>
<rect x="55.81" y="15.05" width="6.22" height="2.20" fill="#cccccc" stroke="none" stroke-width="1"/>
<rect x="56.57" y="17.20" width="6.22" height="2.20" fill="#c5c5c5" stroke="none" stroke-width="1"/>
<rect x="57.33" y="19.35" width="6.22" height="2.20" fill="#bebebe" stroke="none" stroke-width="1"/>
<rect x="58.15" y="21.50" width="6.22" height="2.20" fill="#bebebe" stroke="none" stroke-width="1"/>
<rect x="58.95" y="23.65" width="6.22" height="2.20" fill="#cccccc" stroke="none" stroke-width="1"/>
<rect x="59.66" y="25.80" width="6.22" height="2.20" fill="#cccccc" stroke="none" stroke-width="1"/>
<rect x="60.48" y="27.95" width="6.22" height="2.20" fill="#bebebe" stroke="none" stroke-width="1"/>
<rect x="61.08" y="30.10" width="6.22" height="2.20" fill="#cccccc" stroke="none" stroke-width="1"/>
<rect x="62.01" y="32.25" width="6.22" height="2.20" fill="#c8c8c8" stroke="none" stroke-width="1"/>
<rect x="62.79" y="34.40" width="6.22" height="2.20" fill="#c2c2c2" stroke="none" stroke-width="1"/>
<rect x="63.64" y="36.55" width="6.22" height="2.20" fill="#cccccc" stroke="none" stroke-width="1"/>
<rect x="64.32" y="38.70" width="6.22" height="2.20" fill="#cccccc" stroke="none" stroke-width="1"/>
<rect x="64.95" y="40.85" width="6.22" height="2.20" fill="#b080c0" stroke="none" stroke-width="1"/>
</svg>
<svg x="112.10" y="614.40" width="48.90" height="52.20" overflow="hidden">
<rect x="-21.59" y="0.00" width="7.05" height="2.20" fill="#c2c2c2" stroke="none" stroke-width="1"/>
<rect x="-20.98" y="2.15" width="7.05" height="2.20" fill="#bebebe" stroke="none" stroke-width="1"/>
<rect x="-20.19" y="4.30" width="7.05" height="2.20" fill="#c2c2c2" stroke="none" stroke-width="1"/>
<rect x="-19.62" y="6.45" width="7.05" height="2.20" fill="#c8c8c8" stroke="none" stroke-width="1"/>
<rect x="-19.04" y="8.60" width="7.05" height="2.20" fill="#a8d888" stroke="none" stroke-width="1"/>
<rect x="-18.30" y="10.75" width="7.05" height="2.20" fill="#c8c8c8" stroke="none" stroke-width="1"/>
<rect x="-17.39" y="12.90" width="7.05" height="2.20" fill="#c8c8c8" stroke="none" stroke-width="1"/>
<rect x="-16.72" y="15.05" width="7.05" height="2.20" fill="#cccccc" stroke="none" stroke-width="1"/>
<rect x="-15.91" y="17.20" width="7.05" height="2.20" fill="#c2c2c2" stroke="none" stroke-width="1"/>
<rect x="-15.30" y="19.35" width="7.05" height="2.20" fill="#cccccc" stroke="none" stroke-width="1"/>
<rect x="-14.62" y="21.50" width="7.05" height="2.20" fill="#cccccc" stroke="none" stroke-width="1"/>
<rect x="-13.75" y="23.65" width="7.05" height="2.20" fill="#c2c2c2" stroke="none" stroke-width="1"/>
<rect x="-13.10" y="25.80" width="7.05" height="2.20" fill="#c5c5c5" stroke="none" stroke-width="1"/>
<rect x="-12.34" y="27.95" width="7.05" height="2.20" fill="#bebebe" stroke="none" stroke-width="1"/>
<rect x="-13.42" y="0.00" width="7.04" height="2.20" fill="#c8c8c8" stroke="none" stroke-width="1"/>
<rect x="-12.70" y="2.15" width="7.04" height="2.20" fill="#c8c8c8" stroke="none" stroke-width="1"/>
<rect x="-12.11" y="4.30" width="7.04" height="2.20" fill="#c2c2c2" stroke="none" stroke-width="1"/>
<rect x="-11.46" y="6.45" width="7.04" height="2.20" fill="#cccccc" stroke="none" stroke-width="1"/>
<rect x="-10.65" y="8.60" width="7.04" height="2.20" fill="#bebebe" stroke="none" stroke-width="1"/>
<rect x="-10.07" y="10.75" width="7.04" height="2.20" fill="#c8c8c8" stroke="none" stroke-width="1"/>
<rect x="-9.28" y="12.90" width="7.04" height="2.20" fill="#c8c8c8" stroke="none" stroke-width="1"/>
<rect x="-8.53" y="15.05" width="7.04" height="2.20" fill="#c5c5c5" stroke="none" stroke-width="1"/>
<rect x="-7.67" y="17.20" width="7.04" height="2.20" fill="#c5c5c5" stroke="none" stroke-width="1"/>
<rect x="-6.80" y="19.35" width="7.04" height="2.20" fill="#cccccc" stroke="none" stroke-width="1"/>
<rect x="-5.99" y="21.50" width="7.04" height="2.20" fill="#bebebe" stroke="none" stroke-width="1"/>
<rect x="-5.39" y="0.00" width="6.65" height="2.20" fill="#c5c5c5" stroke="none" stroke-width="1"/>
<rect x="-4.52" y="2.15" width="6.65" height="2.20" fill="#c8c8c8" stroke="none" stroke-width="1"/>
<rect x="-3.82" y="4.30" width="6.65" height="2.20" fill="#c2c2c2" stroke="none" stroke-width="1"/>
<rect x="-3.14" y="6.45" width="6.65" height="2.20" fill="#c2c2c2" stroke="none" stroke-width="1"/>
<rect x="-2.52" y="8.60" width="6.65" height="2.20" fill="#bebebe" stroke="none" stroke-width="1"/>
<rect x="-1.72" y="10.75" width="6.65" height="2.20" fill="#c8c8c8" stroke="none" stroke-width="1"/>
<rect x="-0.96" y="12.90" width="6.65" height="2.20" fill="#c2c2c2" stroke="none" stroke-width="1"/>
<rect x="-0.10" y="15.05" width="6.65" height="2.20" fill="#cccccc" stroke="none" stroke-width="1"/>
<rect x="0.81" y="17.20" width="6.65" height="2.20" fill="#bebebe" stroke="none" stroke-width="1"/>
<rect x="1.73" y="19.35" width="6.65" height="2.20" fill="#bebebe" stroke="none" stroke-width="1"/>
<rect x="2.60" y="21.50" width="6.65" height="2.20" fill="#bebebe" stroke="none" stroke-width="1"/>
<rect x="3.17" y="23.65" width="6.65" height="2.20" fill="#c5c5c5" stroke="none" stroke-width="1"/>
<rect x="2.29" y="0.00" width="6.11" height="2.20" fill="#c5c5c5" stroke="none" stroke-width="1"/>
<rect x="2.94" y="2.15" width="6.11" height="2.20" fill="#cccccc" stroke="none" stroke-width="1"/>
<rect x="3.62" y="4.30" width="6.11" height="2.20" fill="#c2c2c2" stroke="none" stroke-width="1"/>
<rect x="4.34" y="6.45" width="6.11" height="2.20" fill="#bebebe" stroke="none" stroke-width="1"/>
<rect x="5.04" y="8.60" width="6.11" height="2.20" fill="#c5c5c5" stroke="none" stroke-width="1"/>
<rect x="5.72" y="10.75" width="6.11" height="2.20" fill="#c2c2c2" stroke="none" stroke-width="1"/>
<rect x="6.54" y="12.90" width="6.11" height="2.20" fill="#c5c5c5" stroke="none" stroke-width="1"/>
<rect x="7.25" y="15.05" width="6.11" height="2.20" fill="#c8c8c8" stroke="none" stroke-width="1"/>
<rect x="7.93" y="17.20" width="6.11" height="2.20" fill="#bebebe" stroke="none" stroke-width="1"/>
<rect x="8.86" y="19.35" width="6.11" height="2.20" fill="#cccccc" stroke="none" stroke-width="1"/>
<rect x="9.60" y="21.50" width="6.11" height="2.20" fill="#bebebe" stroke="none" stroke-width="1"/>
<rect x="10.21" y="23.65" width="6.11" height="2.20" fill="#c5c5c5" stroke="none" stroke-width="1"/>
<rect x="11.08" y="25.80" width="6.11" height="2.20" fill="#c5c5c5" stroke="none" stroke-width="1"/>
<rect x="9.88" y="0.00" width="6.20" height="2.20" fill="#c2c2c2" stroke="none" stroke-width="1"/>
<rect x="10.81" y="2.15" width="6.20" height="2.20" fill="#c8a0d0" stroke="none" stroke-width="1"/>
<rect x="11.55" y="4.30" width="6.20" height="2.20" fill="#c5c5c5" stroke="none" stroke-width="1"/>
<rect x="12.35" y="6.45" width="6.20" height="2.20" fill="#b080c0" stroke="none" stroke-width="1"/>
<rect x="13.22" y="8.60" width="6.20" height="2.20" fill="#d8a8d0" stroke="none" stroke-width="1"/>
<rect x="13.81" y="10.75" width="6.20" height="2.20" fill="#b080c0" stroke="none" stroke-width="1"/>
<rect x="14.62" y="12.90" width="6.20" height="2.20" fill="#c5c5c5" stroke="none" stroke-width="1"/>
<rect x="15.24" y="15.05" width="6.20" height="2.20" fill="#bebebe" stroke="none" stroke-width="1"/>
<rect x="15.87" y="17.20" width="6.20" height="2.20" fill="#c090c8" stroke="none" stroke-width="1"/>
<rect x="16.69" y="19.35" width="6.20" height="2.20" fill="#c2c2c2" stroke="none" stroke-width="1"/>
<rect x="17.48" y="21.50" width="6.20" height="2.20" fill="#c5c5c5" stroke="none" stroke-width="1"/>
<rect x="18.26" y="23.65" width="6.20" height="2.20" fill="#c2c2c2" stroke="none" stroke-width="1"/>
<rect x="18.90" y="25.80" width="6.20" height="2.20" fill="#cccccc" stroke="none" stroke-width="1"/>
<rect x="19.64" y="27.95" width="6.20" height="2.20" fill="#d8a8d0" stroke="none" stroke-width="1"/>
<rect x="20.57" y="30.10" width="6.20" height="2.20" fill="#c8c8c8" stroke="none" stroke-width="1"/>
<rect x="21.26" y="32.25" width="6.20" height="2.20" fill="#c090c8" stroke="none" stroke-width="1"/>
<rect x="22.18" y="34.40" width="6.20" height="2.20" fill="#cccccc" stroke="none" stroke-width="1"/>
<rect x="23.09" y="36.55" width="6.20" height="2.20" fill="#b8e098" stroke="none" stroke-width="1"/>
<rect x="17.30" y="0.00" width="6.52" height="2.20" fill="#cccccc" stroke="none" stroke-width="1"/>
<rect x="18.23" y="2.15" width="6.52" height="2.20" fill="#bebebe" stroke="none" stroke-width="1"/>
<rect x="19.06" y="4.30" width="6.52" height="2.20" fill="#d8a8d0" stroke="none" stroke-width="1"/>
<rect x="19.84" y="6.45" width="6.52" height="2.20" fill="#c2c2c2" stroke="none" stroke-width="1"/>
<rect x="20.74" y="8.60" width="6.52" height="2.20" fill="#c8c8c8" stroke="none" stroke-width="1"/>
<rect x="21.31" y="10.75" width="6.52" height="2.20" fill="#a8d888" stroke="none" stroke-width="1"/>
<rect x="21.98" y="12.90" width="6.52" height="2.20" fill="#a0d080" stroke="none" stroke-width="1"/>
<rect x="22.67" y="15.05" width="6.52" height="2.20" fill="#a8d888" stroke="none" stroke-width="1"/>
<rect x="23.39" y="17.20" width="6.52" height="2.20" fill="#a8d888" stroke="none" stroke-width="1"/>
<rect x="24.02" y="19.35" width="6.52" height="2.20" fill="#a8d888" stroke="none" stroke-width="1"/>
<rect x="24.87" y="21.50" width="6.52" height="2.20" fill="#a0d080" stroke="none" stroke-width="1"/>
<rect x="25.56" y="23.65" width="6.52" height="2.20" fill="#b8e098" stroke="none" stroke-width="1"/>
<rect x="26.48" y="25.80" width="6.52" height="2.20" fill="#c2c2c2" stroke="none" stroke-width="1"/>
<rect x="27.27" y="27.95" width="6.52" height="2.20" fill="#c5c5c5" stroke="none" stroke-width="1"/>
<rect x="27.89" y="30.10" width="6.52" height="2.20" fill="#98d078" stroke="none" stroke-width="1"/>
<rect x="28.49" y="32.25" width="6.52" height="2.20" fill="#bebebe" stroke="none" stroke-width="1"/>
<rect x="29.07" y="34.40" width="6.52" height="2.20" fill="#98d078" stroke="none" stroke-width="1"/>
<rect x="29.66" y="36.55" width="6.52" height="2.20" fill="#cccccc" stroke="none" stroke-width="1"/>
<rect x="24.76" y="0.00" width="6.41" height="2.20" fill="#a8d888" stroke="none" stroke-width="1"/>
<rect x="25.54" y="2.15" width="6.41" height="2.20" fill="#98d078" stroke="none" stroke-width="1"/>
<rect x="26.25" y="4.30" width="6.41" height="2.20" fill="#98d078" stroke="none" stroke-width="1"/>
<rect x="27.00" y="6.45" width="6.41" height="2.20" fill="#b8e098" stroke="none" stroke-width="1"/>
<rect x="27.77" y="8.60" width="6.41" height="2.20" fill="#cccccc" stroke="none" stroke-width="1"/>
<rect x="28.54" y="10.75" width="6.41" height="2.20" fill="#a8d888" stroke="none" stroke-width="1"/>
<rect x="29.22" y="12.90" width="6.41" height="2.20" fill="#cccccc" stroke="none" stroke-width="1"/>
<rect x="29.81" y="15.05" width="6.41" height="2.20" fill="#b8e098" stroke="none" stroke-width="1"/>
<rect x="30.66" y="17.20" width="6.41" height="2.20" fill="#a8d888" stroke="none" stroke-width="1"/>
<rect x="31.53" y="19.35" width="6.41" height="2.20" fill="#a8d888" stroke="none" stroke-width="1"/>
<rect x="32.23" y="21.50" width="6.41" height="2.20" fill="#98d078" stroke="none" stroke-width="1"/>
<rect x="32.79" y="23.65" width="6.41" height="2.20" fill="#a0d080" stroke="none" stroke-width="1"/>
<rect x="33.38" y="25.80" width="6.41" height="2.20" fill="#cccccc" stroke="none" stroke-width="1"/>
<rect x="34.13" y="27.95" width="6.41" height="2.20" fill="#a0d080" stroke="none" stroke-width="1"/>
<rect x="32.69" y="0.00" width="6.72" height="2.20" fill="#c2c2c2" stroke="none" stroke-width="1"/>
<rect x="33.57" y="2.15" width="6.72" height="2.20" fill="#a8d888" stroke="none" stroke-width="1"/>
<rect x="34.36" y="4.30" width="6.72" height="2.20" fill="#98d078" stroke="none" stroke-width="1"/>
<rect x="35.27" y="6.45" width="6.72" height="2.20" fill="#a0d080" stroke="none" stroke-width="1"/>
<rect x="35.87" y="8.60" width="6.72" height="2.20" fill="#bebebe" stroke="none" stroke-width="1"/>
<rect x="36.59" y="10.75" width="6.72" height="2.20" fill="#a0d080" stroke="none" stroke-width="1"/>
<rect x="37.49" y="12.90" width="6.72" height="2.20" fill="#bebebe" stroke="none" stroke-width="1"/>
<rect x="38.20" y="15.05" width="6.72" height="2.20" fill="#cccccc" stroke="none" stroke-width="1"/>
<rect x="38.78" y="17.20" width="6.72" height="2.20" fill="#c5c5c5" stroke="none" stroke-width="1"/>
<rect x="39.51" y="19.35" width="6.72" height="2.20" fill="#c8c8c8" stroke="none" stroke-width="1"/>
<rect x="40.10" y="21.50" width="6.72" height="2.20" fill="#cccccc" stroke="none" stroke-width="1"/>
<rect x="40.70" y="23.65" width="6.72" height="2.20" fill="#cccccc" stroke="none" stroke-width="1"/>
<rect x="41.47" y="25.80" width="6.72" height="2.20" fill="#c5c5c5" stroke="none" stroke-width="1"/>
<rect x="42.15" y="27.95" width="6.72" height="2.20" fill="#cccccc" stroke="none" stroke-width="1"/>
<rect x="42.91" y="30.10" width="6.72" height="2.20" fill="#c8c8c8" stroke="none" stroke-width="1"/>
<rect x="40.97" y="0.00" width="7.16" height="2.20" fill="#c8c8c8" stroke="none" stroke-width="1"/>
<rect x="41.60" y="2.15" width="7.16" height="2.20" fill="#cccccc" stroke="none" stroke-width="1"/>
<rect x="42.29" y="4.30" width="7.16" height="2.20" fill="#bebebe" stroke="none" stroke-width="1"/>
<rect x="42.84" y="6.45" width="7.16" height="2.20" fill="#c2c2c2" stroke="none" stroke-width="1"/>
<rect x="43.79" y="8.60" width="7.16" height="2.20" fill="#c2c2c2" stroke="none" stroke-width="1"/>
<rect x="44.38" y="10.75" width="7.16" height="2.20" fill="#c2c2c2" stroke="none" stroke-width="1"/>
<rect x="45.29" y="12.90" width="7.16" height="2.20" fill="#bebebe" stroke="none" stroke-width="1"/>
<rect x="46.02" y="15.05" width="7.16" height="2.20" fill="#bebebe" stroke="none" stroke-width="1"/>
<rect x="46.85" y="17.20" width="7.16" height="2.20" fill="#cccccc" stroke="none" stroke-width="1"/>
<rect x="47.54" y="19.35" width="7.16" height="2.20" fill="#c5c5c5" stroke="none" stroke-width="1"/>
<rect x="48.48" y="21.50" width="7.16" height="2.20" fill="#c5c5c5" stroke="none" stroke-width="1"/>
<rect x="49.16" y="23.65" width="7.16" height="2.20" fill="#c8c8c8" stroke="none" stroke-width="1"/>
<rect x="50.09" y="25.80" width="7.16" height="2.20" fill="#c8c8c8" stroke="none" stroke-width="1"/>
<rect x="50.94" y="27.95" width="7.16" height="2.20" fill="#c2c2c2" stroke="none" stroke-width="1"/>
<rect x="51.86" y="30.10" width="7.16" height="2.20" fill="#cccccc" stroke="none" stroke-width="1"/>
<rect x="49.42" y="0.00" width="7.02" height="2.20" fill="#c2c2c2" stroke="none" stroke-width="1"/>
<rect x="50.00" y="2.15" width="7.02" height="2.20" fill="#cccccc" stroke="none" stroke-width="1"/>
<rect x="50.78" y="4.30" width="7.02" height="2.20" fill="#cccccc" stroke="none" stroke-width="1"/>
<rect x="51.41" y="6.45" width="7.02" height="2.20" fill="#bebebe" stroke="none" stroke-width="1"/>
<rect x="52.11" y="8.60" width="7.02" height="2.20" fill="#c2c2c2" stroke="none" stroke-width="1"/>
<rect x="52.81" y="10.75" width="7.02" height="2.20" fill="#cccccc" stroke="none" stroke-width="1"/>
<rect x="53.44" y="12.90" width="7.02" height="2.20" fill="#cccccc" stroke="none" stroke-width="1"/>
<rect x="54.32" y="15.05" width="7.02" height="2.20" fill="#c2c2c2" stroke="none" stroke-width="1"/>
<rect x="55.27" y="17.20" width="7.02" height="2.20" fill="#c8c8c8" stroke="none" stroke-width="1"/>
<rect x="55.87" y="19.35" width="7.02" height="2.20" fill="#cccccc" stroke="none" stroke-width="1"/>
<rect x="56.66" y="21.50" width="7.02" height="2.20" fill="#c8c8c8" stroke="none" stroke-width="1"/>
<rect x="57.22" y="23.65" width="7.02" height="2.20" fill="#c5c5c5" stroke="none" stroke-width="1"/>
</svg>
<rect x="56.10" y="613.80" width="105.50" height="53.40" fill="none" stroke="#555" stroke-width="1.0"/>
<line x1="111.60" y1="613.80" x2="111.60" y2="667.20" stroke="#222" stroke-width="1.0"/>
<line x1="85.10" y1="613.80" x2="85.10" y2="668.20" stroke="#222" stroke-width="0.8" stroke-dasharray="1.4,1"/>
<path d="M83.0,612.0 L87.19999999999999,612.0 L85.1,616.1999999999999 Z" fill="#7a2a4a" stroke="none" stroke-width="1"/>
<path d="M83.0,668.2 L87.19999999999999,668.2 L85.1,671.6 Z" fill="#111" stroke="none" stroke-width="1"/>
<text x="85.1" y="680.8" font-size="7.0" text-anchor="middle" font-weight="normal" fill="#222" textLength="31" lengthAdjust="spacingAndGlyphs" stroke="#222" stroke-width="0.06">Breakpoint</text>
<line x1="136.60" y1="613.80" x2="136.60" y2="668.20" stroke="#222" stroke-width="0.8" stroke-dasharray="1.4,1"/>
<path d="M134.5,612.0 L138.7,612.0 L136.6,616.1999999999999 Z" fill="#7a2a4a" stroke="none" stroke-width="1"/>
<path d="M134.5,668.2 L138.7,668.2 L136.6,671.6 Z" fill="#111" stroke="none" stroke-width="1"/>
<text x="136.6" y="680.8" font-size="7.0" text-anchor="middle" font-weight="normal" fill="#222" textLength="31" lengthAdjust="spacingAndGlyphs" stroke="#222" stroke-width="0.06">Breakpoint</text>
<text x="233.6" y="602.0" font-size="7.0" text-anchor="middle" font-weight="normal" fill="#222" stroke="#222" stroke-width="0.05">UT308</text>
<text x="175.0" y="608.6" font-size="6.5" text-anchor="start" font-weight="normal" fill="#222" textLength="45.5" lengthAdjust="spacingAndGlyphs" stroke="#222" stroke-width="0.05">chr5:170,762,920</text>
<text x="241.7" y="608.6" font-size="6.5" text-anchor="start" font-weight="normal" fill="#222" textLength="45" lengthAdjust="spacingAndGlyphs" stroke="#222" stroke-width="0.05">chr14:98,688,391</text>
<svg x="175.30" y="614.40" width="55.10" height="52.20" overflow="hidden">
<rect x="-21.75" y="0.00" width="6.49" height="2.20" fill="#c2c2c2" stroke="none" stroke-width="1"/>
<rect x="-20.98" y="2.15" width="6.49" height="2.20" fill="#c2c2c2" stroke="none" stroke-width="1"/>
<rect x="-20.19" y="4.30" width="6.49" height="2.20" fill="#c2c2c2" stroke="none" stroke-width="1"/>
<rect x="-19.31" y="6.45" width="6.49" height="2.20" fill="#cccccc" stroke="none" stroke-width="1"/>
<rect x="-18.76" y="8.60" width="6.49" height="2.20" fill="#c5c5c5" stroke="none" stroke-width="1"/>
<rect x="-18.14" y="10.75" width="6.49" height="2.20" fill="#c5c5c5" stroke="none" stroke-width="1"/>
<rect x="-17.56" y="12.90" width="6.49" height="2.20" fill="#bebebe" stroke="none" stroke-width="1"/>
<rect x="-16.62" y="15.05" width="6.49" height="2.20" fill="#c5c5c5" stroke="none" stroke-width="1"/>
<rect x="-16.06" y="17.20" width="6.49" height="2.20" fill="#c5c5c5" stroke="none" stroke-width="1"/>
<rect x="-15.32" y="19.35" width="6.49" height="2.20" fill="#cccccc" stroke="none" stroke-width="1"/>
<rect x="-14.55" y="21.50" width="6.49" height="2.20" fill="#bebebe" stroke="none" stroke-width="1"/>
<rect x="-13.77" y="23.65" width="6.49" height="2.20" fill="#bebebe" stroke="none" stroke-width="1"/>
<rect x="-12.95" y="25.80" width="6.49" height="2.20" fill="#c2c2c2" stroke="none" stroke-width="1"/>
<rect x="-12.10" y="27.95" width="6.49" height="2.20" fill="#c2c2c2" stroke="none" stroke-width="1"/>
<rect x="-11.34" y="30.10" width="6.49" height="2.20" fill="#bebebe" stroke="none" stroke-width="1"/>
<rect x="-10.66" y="32.25" width="6.49" height="2.20" fill="#c8c8c8" stroke="none" stroke-width="1"/>
<rect x="-9.99" y="34.40" width="6.49" height="2.20" fill="#c888b8" stroke="none" stroke-width="1"/>
<rect x="-9.27" y="36.55" width="6.49" height="2.20" fill="#bebebe" stroke="none" stroke-width="1"/>
<rect x="-13.93" y="0.00" width="6.50" height="2.20" fill="#cccccc" stroke="none" stroke-width="1"/>
<rect x="-13.27" y="2.15" width="6.50" height="2.20" fill="#c5c5c5" stroke="none" stroke-width="1"/>
<rect x="-12.60" y="4.30" width="6.50" height="2.20" fill="#cccccc" stroke="none" stroke-width="1"/>
<rect x="-11.99" y="6.45" width="6.50" height="2.20" fill="#c2c2c2" stroke="none" stroke-width="1"/>
<rect x="-11.05" y="8.60" width="6.50" height="2.20" fill="#c5c5c5" stroke="none" stroke-width="1"/>
<rect x="-10.27" y="10.75" width="6.50" height="2.20" fill="#c5c5c5" stroke="none" stroke-width="1"/>
<rect x="-9.54" y="12.90" width="6.50" height="2.20" fill="#cccccc" stroke="none" stroke-width="1"/>
<rect x="-8.78" y="15.05" width="6.50" height="2.20" fill="#bebebe" stroke="none" stroke-width="1"/>
<rect x="-8.06" y="17.20" width="6.50" height="2.20" fill="#c2c2c2" stroke="none" stroke-width="1"/>
<rect x="-7.50" y="19.35" width="6.50" height="2.20" fill="#c2c2c2" stroke="none" stroke-width="1"/>
<rect x="-6.83" y="21.50" width="6.50" height="2.20" fill="#c5c5c5" stroke="none" stroke-width="1"/>
<rect x="-5.94" y="23.65" width="6.50" height="2.20" fill="#c5c5c5" stroke="none" stroke-width="1"/>
<rect x="-5.03" y="25.80" width="6.50" height="2.20" fill="#bebebe" stroke="none" stroke-width="1"/>
<rect x="-4.34" y="27.95" width="6.50" height="2.20" fill="#c5c5c5" stroke="none" stroke-width="1"/>
<rect x="-3.76" y="30.10" width="6.50" height="2.20" fill="#c2c2c2" stroke="none" stroke-width="1"/>
<rect x="-2.93" y="32.25" width="6.50" height="2.20" fill="#c8c8c8" stroke="none" stroke-width="1"/>
<rect x="-2.17" y="34.40" width="6.50" height="2.20" fill="#c2c2c2" stroke="none" stroke-width="1"/>
<rect x="-1.57" y="36.55" width="6.50" height="2.20" fill="#cccccc" stroke="none" stroke-width="1"/>
<rect x="-6.22" y="0.00" width="6.91" height="2.20" fill="#c2c2c2" stroke="none" stroke-width="1"/>
<rect x="-5.40" y="2.15" width="6.91" height="2.20" fill="#c2c2c2" stroke="none" stroke-width="1"/>
<rect x="-4.78" y="4.30" width="6.91" height="2.20" fill="#cccccc" stroke="none" stroke-width="1"/>
<rect x="-3.92" y="6.45" width="6.91" height="2.20" fill="#c5c5c5" stroke="none" stroke-width="1"/>
<rect x="-3.16" y="8.60" width="6.91" height="2.20" fill="#bebebe" stroke="none" stroke-width="1"/>
<rect x="-2.34" y="10.75" width="6.91" height="2.20" fill="#bebebe" stroke="none" stroke-width="1"/>
<rect x="-1.48" y="12.90" width="6.91" height="2.20" fill="#bebebe" stroke="none" stroke-width="1"/>
<rect x="-0.56" y="15.05" width="6.91" height="2.20" fill="#c2c2c2" stroke="none" stroke-width="1"/>
<rect x="0.29" y="17.20" width="6.91" height="2.20" fill="#c5c5c5" stroke="none" stroke-width="1"/>
<rect x="1.03" y="19.35" width="6.91" height="2.20" fill="#c2c2c2" stroke="none" stroke-width="1"/>
<rect x="1.71" y="21.50" width="6.91" height="2.20" fill="#cccccc" stroke="none" stroke-width="1"/>
<rect x="2.38" y="23.65" width="6.91" height="2.20" fill="#c8c8c8" stroke="none" stroke-width="1"/>
<rect x="2.94" y="25.80" width="6.91" height="2.20" fill="#c2c2c2" stroke="none" stroke-width="1"/>
<rect x="3.72" y="27.95" width="6.91" height="2.20" fill="#cccccc" stroke="none" stroke-width="1"/>
<rect x="4.65" y="30.10" width="6.91" height="2.20" fill="#bebebe" stroke="none" stroke-width="1"/>
<rect x="5.28" y="32.25" width="6.91" height="2.20" fill="#cccccc" stroke="none" stroke-width="1"/>
<rect x="5.84" y="34.40" width="6.91" height="2.20" fill="#c5c5c5" stroke="none" stroke-width="1"/>
<rect x="1.76" y="0.00" width="6.45" height="2.20" fill="#c8c8c8" stroke="none" stroke-width="1"/>
<rect x="2.37" y="2.15" width="6.45" height="2.20" fill="#cccccc" stroke="none" stroke-width="1"/>
<rect x="3.29" y="4.30" width="6.45" height="2.20" fill="#c5c5c5" stroke="none" stroke-width="1"/>
<rect x="4.17" y="6.45" width="6.45" height="2.20" fill="#c8c8c8" stroke="none" stroke-width="1"/>
<rect x="4.84" y="8.60" width="6.45" height="2.20" fill="#c090c8" stroke="none" stroke-width="1"/>
<rect x="5.74" y="10.75" width="6.45" height="2.20" fill="#bebebe" stroke="none" stroke-width="1"/>
<rect x="6.67" y="12.90" width="6.45" height="2.20" fill="#c8c8c8" stroke="none" stroke-width="1"/>
<rect x="7.48" y="15.05" width="6.45" height="2.20" fill="#c2c2c2" stroke="none" stroke-width="1"/>
<rect x="8.15" y="17.20" width="6.45" height="2.20" fill="#c8c8c8" stroke="none" stroke-width="1"/>
<rect x="9.02" y="19.35" width="6.45" height="2.20" fill="#bebebe" stroke="none" stroke-width="1"/>
<rect x="9.62" y="21.50" width="6.45" height="2.20" fill="#c5c5c5" stroke="none" stroke-width="1"/>
<rect x="10.49" y="23.65" width="6.45" height="2.20" fill="#c2c2c2" stroke="none" stroke-width="1"/>
<rect x="11.19" y="25.80" width="6.45" height="2.20" fill="#c8c8c8" stroke="none" stroke-width="1"/>
<rect x="12.12" y="27.95" width="6.45" height="2.20" fill="#cccccc" stroke="none" stroke-width="1"/>
<rect x="12.75" y="30.10" width="6.45" height="2.20" fill="#cccccc" stroke="none" stroke-width="1"/>
<rect x="13.39" y="32.25" width="6.45" height="2.20" fill="#c2c2c2" stroke="none" stroke-width="1"/>
<rect x="14.07" y="34.40" width="6.45" height="2.20" fill="#c2c2c2" stroke="none" stroke-width="1"/>
<rect x="9.55" y="0.00" width="7.01" height="2.20" fill="#c8c8c8" stroke="none" stroke-width="1"/>
<rect x="10.39" y="2.15" width="7.01" height="2.20" fill="#c5c5c5" stroke="none" stroke-width="1"/>
<rect x="10.95" y="4.30" width="7.01" height="2.20" fill="#c8c8c8" stroke="none" stroke-width="1"/>
<rect x="11.63" y="6.45" width="7.01" height="2.20" fill="#c5c5c5" stroke="none" stroke-width="1"/>
<rect x="12.35" y="8.60" width="7.01" height="2.20" fill="#c2c2c2" stroke="none" stroke-width="1"/>
<rect x="12.95" y="10.75" width="7.01" height="2.20" fill="#c5c5c5" stroke="none" stroke-width="1"/>
<rect x="13.87" y="12.90" width="7.01" height="2.20" fill="#c5c5c5" stroke="none" stroke-width="1"/>
<rect x="14.54" y="15.05" width="7.01" height="2.20" fill="#c8c8c8" stroke="none" stroke-width="1"/>
<rect x="15.30" y="17.20" width="7.01" height="2.20" fill="#c8c8c8" stroke="none" stroke-width="1"/>
<rect x="16.17" y="19.35" width="7.01" height="2.20" fill="#cccccc" stroke="none" stroke-width="1"/>
<rect x="16.80" y="21.50" width="7.01" height="2.20" fill="#cccccc" stroke="none" stroke-width="1"/>
<rect x="17.67" y="23.65" width="7.01" height="2.20" fill="#c8a0d0" stroke="none" stroke-width="1"/>
<rect x="18.24" y="25.80" width="7.01" height="2.20" fill="#c8a0d0" stroke="none" stroke-width="1"/>
<rect x="18.91" y="27.95" width="7.01" height="2.20" fill="#cccccc" stroke="none" stroke-width="1"/>
<rect x="19.84" y="30.10" width="7.01" height="2.20" fill="#bebebe" stroke="none" stroke-width="1"/>
<rect x="20.75" y="32.25" width="7.01" height="2.20" fill="#c888b8" stroke="none" stroke-width="1"/>
<rect x="21.32" y="34.40" width="7.01" height="2.20" fill="#c8a0d0" stroke="none" stroke-width="1"/>
<rect x="22.09" y="36.55" width="7.01" height="2.20" fill="#d8a8d0" stroke="none" stroke-width="1"/>
<rect x="17.99" y="0.00" width="6.29" height="2.20" fill="#c2c2c2" stroke="none" stroke-width="1"/>
<rect x="18.72" y="2.15" width="6.29" height="2.20" fill="#cccccc" stroke="none" stroke-width="1"/>
<rect x="19.65" y="4.30" width="6.29" height="2.20" fill="#c2c2c2" stroke="none" stroke-width="1"/>
<rect x="20.37" y="6.45" width="6.29" height="2.20" fill="#c8c8c8" stroke="none" stroke-width="1"/>
<rect x="21.20" y="8.60" width="6.29" height="2.20" fill="#c090c8" stroke="none" stroke-width="1"/>
<rect x="22.02" y="10.75" width="6.29" height="2.20" fill="#c090c8" stroke="none" stroke-width="1"/>
<rect x="22.81" y="12.90" width="6.29" height="2.20" fill="#cccccc" stroke="none" stroke-width="1"/>
<rect x="23.42" y="15.05" width="6.29" height="2.20" fill="#bebebe" stroke="none" stroke-width="1"/>
<rect x="24.22" y="17.20" width="6.29" height="2.20" fill="#c5c5c5" stroke="none" stroke-width="1"/>
<rect x="24.79" y="19.35" width="6.29" height="2.20" fill="#c090c8" stroke="none" stroke-width="1"/>
<rect x="25.68" y="21.50" width="6.29" height="2.20" fill="#c8c8c8" stroke="none" stroke-width="1"/>
<rect x="26.33" y="23.65" width="6.29" height="2.20" fill="#b080c0" stroke="none" stroke-width="1"/>
<rect x="27.04" y="25.80" width="6.29" height="2.20" fill="#c8a0d0" stroke="none" stroke-width="1"/>
<rect x="27.68" y="27.95" width="6.29" height="2.20" fill="#d8a8d0" stroke="none" stroke-width="1"/>
<rect x="28.29" y="30.10" width="6.29" height="2.20" fill="#c2c2c2" stroke="none" stroke-width="1"/>
<rect x="25.31" y="0.00" width="7.37" height="2.20" fill="#c888b8" stroke="none" stroke-width="1"/>
<rect x="26.09" y="2.15" width="7.37" height="2.20" fill="#bebebe" stroke="none" stroke-width="1"/>
<rect x="26.74" y="4.30" width="7.37" height="2.20" fill="#c8c8c8" stroke="none" stroke-width="1"/>
<rect x="27.43" y="6.45" width="7.37" height="2.20" fill="#c5c5c5" stroke="none" stroke-width="1"/>
<rect x="28.08" y="8.60" width="7.37" height="2.20" fill="#c2c2c2" stroke="none" stroke-width="1"/>
<rect x="28.68" y="10.75" width="7.37" height="2.20" fill="#c2c2c2" stroke="none" stroke-width="1"/>
<rect x="29.33" y="12.90" width="7.37" height="2.20" fill="#c8a0d0" stroke="none" stroke-width="1"/>
<rect x="33.91" y="0.00" width="7.24" height="2.20" fill="#c2c2c2" stroke="none" stroke-width="1"/>
<rect x="34.79" y="2.15" width="7.24" height="2.20" fill="#c8c8c8" stroke="none" stroke-width="1"/>
<rect x="35.72" y="4.30" width="7.24" height="2.20" fill="#c5c5c5" stroke="none" stroke-width="1"/>
<rect x="36.51" y="6.45" width="7.24" height="2.20" fill="#c2c2c2" stroke="none" stroke-width="1"/>
<rect x="37.29" y="8.60" width="7.24" height="2.20" fill="#c8c8c8" stroke="none" stroke-width="1"/>
<rect x="38.00" y="10.75" width="7.24" height="2.20" fill="#c8c8c8" stroke="none" stroke-width="1"/>
<rect x="38.64" y="12.90" width="7.24" height="2.20" fill="#c2c2c2" stroke="none" stroke-width="1"/>
<rect x="42.14" y="0.00" width="6.41" height="2.20" fill="#c5c5c5" stroke="none" stroke-width="1"/>
<rect x="42.71" y="2.15" width="6.41" height="2.20" fill="#c8c8c8" stroke="none" stroke-width="1"/>
<rect x="43.48" y="4.30" width="6.41" height="2.20" fill="#c8c8c8" stroke="none" stroke-width="1"/>
<rect x="44.26" y="6.45" width="6.41" height="2.20" fill="#bebebe" stroke="none" stroke-width="1"/>
<rect x="45.19" y="8.60" width="6.41" height="2.20" fill="#c8a0d0" stroke="none" stroke-width="1"/>
<rect x="45.95" y="10.75" width="6.41" height="2.20" fill="#cccccc" stroke="none" stroke-width="1"/>
<rect x="46.88" y="12.90" width="6.41" height="2.20" fill="#c5c5c5" stroke="none" stroke-width="1"/>
<rect x="47.52" y="15.05" width="6.41" height="2.20" fill="#bebebe" stroke="none" stroke-width="1"/>
<rect x="49.92" y="0.00" width="7.00" height="2.20" fill="#c5c5c5" stroke="none" stroke-width="1"/>
<rect x="50.71" y="2.15" width="7.00" height="2.20" fill="#c5c5c5" stroke="none" stroke-width="1"/>
<rect x="51.45" y="4.30" width="7.00" height="2.20" fill="#c8c8c8" stroke="none" stroke-width="1"/>
<rect x="52.18" y="6.45" width="7.00" height="2.20" fill="#c5c5c5" stroke="none" stroke-width="1"/>
<rect x="53.03" y="8.60" width="7.00" height="2.20" fill="#c5c5c5" stroke="none" stroke-width="1"/>
<rect x="53.70" y="10.75" width="7.00" height="2.20" fill="#bebebe" stroke="none" stroke-width="1"/>
</svg>
<svg x="231.40" y="614.40" width="53.90" height="52.20" overflow="hidden">
<rect x="-20.88" y="0.00" width="7.03" height="2.20" fill="#c5c5c5" stroke="none" stroke-width="1"/>
<rect x="-19.95" y="2.15" width="7.03" height="2.20" fill="#c5c5c5" stroke="none" stroke-width="1"/>
<rect x="-19.00" y="4.30" width="7.03" height="2.20" fill="#c5c5c5" stroke="none" stroke-width="1"/>
<rect x="-18.28" y="6.45" width="7.03" height="2.20" fill="#c888b8" stroke="none" stroke-width="1"/>
<rect x="-17.43" y="8.60" width="7.03" height="2.20" fill="#c5c5c5" stroke="none" stroke-width="1"/>
<rect x="-16.57" y="10.75" width="7.03" height="2.20" fill="#cccccc" stroke="none" stroke-width="1"/>
<rect x="-15.77" y="12.90" width="7.03" height="2.20" fill="#c5c5c5" stroke="none" stroke-width="1"/>
<rect x="-14.88" y="15.05" width="7.03" height="2.20" fill="#bebebe" stroke="none" stroke-width="1"/>
<rect x="-14.06" y="17.20" width="7.03" height="2.20" fill="#c2c2c2" stroke="none" stroke-width="1"/>
<rect x="-13.12" y="19.35" width="7.03" height="2.20" fill="#cccccc" stroke="none" stroke-width="1"/>
<rect x="-12.41" y="21.50" width="7.03" height="2.20" fill="#c5c5c5" stroke="none" stroke-width="1"/>
<rect x="-11.80" y="23.65" width="7.03" height="2.20" fill="#c8c8c8" stroke="none" stroke-width="1"/>
<rect x="-10.96" y="25.80" width="7.03" height="2.20" fill="#c8c8c8" stroke="none" stroke-width="1"/>
<rect x="-10.32" y="27.95" width="7.03" height="2.20" fill="#bebebe" stroke="none" stroke-width="1"/>
<rect x="-9.43" y="30.10" width="7.03" height="2.20" fill="#c2c2c2" stroke="none" stroke-width="1"/>
<rect x="-8.80" y="32.25" width="7.03" height="2.20" fill="#cccccc" stroke="none" stroke-width="1"/>
<rect x="-12.27" y="0.00" width="6.52" height="2.20" fill="#bebebe" stroke="none" stroke-width="1"/>
<rect x="-11.68" y="2.15" width="6.52" height="2.20" fill="#c5c5c5" stroke="none" stroke-width="1"/>
<rect x="-10.80" y="4.30" width="6.52" height="2.20" fill="#c2c2c2" stroke="none" stroke-width="1"/>
<rect x="-10.01" y="6.45" width="6.52" height="2.20" fill="#bebebe" stroke="none" stroke-width="1"/>
<rect x="-9.07" y="8.60" width="6.52" height="2.20" fill="#bebebe" stroke="none" stroke-width="1"/>
<rect x="-8.31" y="10.75" width="6.52" height="2.20" fill="#c5c5c5" stroke="none" stroke-width="1"/>
<rect x="-7.50" y="12.90" width="6.52" height="2.20" fill="#cccccc" stroke="none" stroke-width="1"/>
<rect x="-6.75" y="15.05" width="6.52" height="2.20" fill="#cccccc" stroke="none" stroke-width="1"/>
<rect x="-6.03" y="17.20" width="6.52" height="2.20" fill="#cccccc" stroke="none" stroke-width="1"/>
<rect x="-5.12" y="19.35" width="6.52" height="2.20" fill="#cccccc" stroke="none" stroke-width="1"/>
<rect x="-4.38" y="21.50" width="6.52" height="2.20" fill="#c8c8c8" stroke="none" stroke-width="1"/>
<rect x="-3.44" y="23.65" width="6.52" height="2.20" fill="#c5c5c5" stroke="none" stroke-width="1"/>
<rect x="-2.75" y="25.80" width="6.52" height="2.20" fill="#cccccc" stroke="none" stroke-width="1"/>
<rect x="-2.02" y="27.95" width="6.52" height="2.20" fill="#bebebe" stroke="none" stroke-width="1"/>
<rect x="-1.23" y="30.10" width="6.52" height="2.20" fill="#cccccc" stroke="none" stroke-width="1"/>
<rect x="-0.50" y="32.25" width="6.52" height="2.20" fill="#cccccc" stroke="none" stroke-width="1"/>
<rect x="0.11" y="34.40" width="6.52" height="2.20" fill="#c5c5c5" stroke="none" stroke-width="1"/>
<rect x="-4.75" y="0.00" width="6.50" height="2.20" fill="#e8a070" stroke="none" stroke-width="1"/>
<rect x="-3.85" y="2.15" width="6.50" height="2.20" fill="#bebebe" stroke="none" stroke-width="1"/>
<rect x="-2.99" y="4.30" width="6.50" height="2.20" fill="#cccccc" stroke="none" stroke-width="1"/>
<rect x="-2.25" y="6.45" width="6.50" height="2.20" fill="#c8c8c8" stroke="none" stroke-width="1"/>
<rect x="-1.43" y="8.60" width="6.50" height="2.20" fill="#cccccc" stroke="none" stroke-width="1"/>
<rect x="-0.68" y="10.75" width="6.50" height="2.20" fill="#c5c5c5" stroke="none" stroke-width="1"/>
<rect x="0.21" y="12.90" width="6.50" height="2.20" fill="#c5c5c5" stroke="none" stroke-width="1"/>
<rect x="0.78" y="15.05" width="6.50" height="2.20" fill="#c5c5c5" stroke="none" stroke-width="1"/>
<rect x="1.47" y="17.20" width="6.50" height="2.20" fill="#cccccc" stroke="none" stroke-width="1"/>
<rect x="2.19" y="19.35" width="6.50" height="2.20" fill="#cccccc" stroke="none" stroke-width="1"/>
<rect x="2.82" y="21.50" width="6.50" height="2.20" fill="#cccccc" stroke="none" stroke-width="1"/>
<rect x="3.56" y="23.65" width="6.50" height="2.20" fill="#c8c8c8" stroke="none" stroke-width="1"/>
<rect x="4.15" y="25.80" width="6.50" height="2.20" fill="#c8c8c8" stroke="none" stroke-width="1"/>
<rect x="4.83" y="27.95" width="6.50" height="2.20" fill="#cccccc" stroke="none" stroke-width="1"/>
<rect x="5.47" y="30.10" width="6.50" height="2.20" fill="#c5c5c5" stroke="none" stroke-width="1"/>
<rect x="2.67" y="0.00" width="6.68" height="2.20" fill="#c8c8c8" stroke="none" stroke-width="1"/>
<rect x="3.29" y="2.15" width="6.68" height="2.20" fill="#c2c2c2" stroke="none" stroke-width="1"/>
<rect x="4.24" y="4.30" width="6.68" height="2.20" fill="#c2c2c2" stroke="none" stroke-width="1"/>
<rect x="4.81" y="6.45" width="6.68" height="2.20" fill="#c2c2c2" stroke="none" stroke-width="1"/>
<rect x="5.46" y="8.60" width="6.68" height="2.20" fill="#c5c5c5" stroke="none" stroke-width="1"/>
<rect x="6.07" y="10.75" width="6.68" height="2.20" fill="#c5c5c5" stroke="none" stroke-width="1"/>
<rect x="6.80" y="12.90" width="6.68" height="2.20" fill="#c5c5c5" stroke="none" stroke-width="1"/>
<rect x="7.65" y="15.05" width="6.68" height="2.20" fill="#cccccc" stroke="none" stroke-width="1"/>
<rect x="8.30" y="17.20" width="6.68" height="2.20" fill="#c2c2c2" stroke="none" stroke-width="1"/>
<rect x="8.88" y="19.35" width="6.68" height="2.20" fill="#c8c8c8" stroke="none" stroke-width="1"/>
<rect x="9.66" y="21.50" width="6.68" height="2.20" fill="#b080c0" stroke="none" stroke-width="1"/>
<rect x="10.38" y="23.65" width="6.68" height="2.20" fill="#cccccc" stroke="none" stroke-width="1"/>
<rect x="10.93" y="25.80" width="6.68" height="2.20" fill="#cccccc" stroke="none" stroke-width="1"/>
<rect x="11.64" y="27.95" width="6.68" height="2.20" fill="#bebebe" stroke="none" stroke-width="1"/>
<rect x="12.32" y="30.10" width="6.68" height="2.20" fill="#c5c5c5" stroke="none" stroke-width="1"/>
<rect x="13.21" y="32.25" width="6.68" height="2.20" fill="#c8c8c8" stroke="none" stroke-width="1"/>
<rect x="10.58" y="0.00" width="6.21" height="2.20" fill="#c5c5c5" stroke="none" stroke-width="1"/>
<rect x="11.29" y="2.15" width="6.21" height="2.20" fill="#c8c8c8" stroke="none" stroke-width="1"/>
<rect x="12.05" y="4.30" width="6.21" height="2.20" fill="#c5c5c5" stroke="none" stroke-width="1"/>
<rect x="12.92" y="6.45" width="6.21" height="2.20" fill="#c5c5c5" stroke="none" stroke-width="1"/>
<rect x="13.66" y="8.60" width="6.21" height="2.20" fill="#c5c5c5" stroke="none" stroke-width="1"/>
<rect x="14.33" y="10.75" width="6.21" height="2.20" fill="#c5c5c5" stroke="none" stroke-width="1"/>
<rect x="15.18" y="12.90" width="6.21" height="2.20" fill="#c8c8c8" stroke="none" stroke-width="1"/>
<rect x="16.09" y="15.05" width="6.21" height="2.20" fill="#cccccc" stroke="none" stroke-width="1"/>
<rect x="16.69" y="17.20" width="6.21" height="2.20" fill="#c2c2c2" stroke="none" stroke-width="1"/>
<rect x="17.46" y="19.35" width="6.21" height="2.20" fill="#bebebe" stroke="none" stroke-width="1"/>
<rect x="18.02" y="21.50" width="6.21" height="2.20" fill="#cccccc" stroke="none" stroke-width="1"/>
<rect x="18.59" y="23.65" width="6.21" height="2.20" fill="#c8a0d0" stroke="none" stroke-width="1"/>
<rect x="19.14" y="25.80" width="6.21" height="2.20" fill="#c5c5c5" stroke="none" stroke-width="1"/>
<rect x="19.79" y="27.95" width="6.21" height="2.20" fill="#c888b8" stroke="none" stroke-width="1"/>
<rect x="20.58" y="30.10" width="6.21" height="2.20" fill="#c5c5c5" stroke="none" stroke-width="1"/>
<rect x="21.22" y="32.25" width="6.21" height="2.20" fill="#c8c8c8" stroke="none" stroke-width="1"/>
<rect x="22.08" y="34.40" width="6.21" height="2.20" fill="#cccccc" stroke="none" stroke-width="1"/>
<rect x="22.89" y="36.55" width="6.21" height="2.20" fill="#c5c5c5" stroke="none" stroke-width="1"/>
<rect x="23.63" y="38.70" width="6.21" height="2.20" fill="#cccccc" stroke="none" stroke-width="1"/>
<rect x="24.39" y="40.85" width="6.21" height="2.20" fill="#c8c8c8" stroke="none" stroke-width="1"/>
<rect x="18.23" y="0.00" width="6.77" height="2.20" fill="#c8c8c8" stroke="none" stroke-width="1"/>
<rect x="18.81" y="2.15" width="6.77" height="2.20" fill="#bebebe" stroke="none" stroke-width="1"/>
<rect x="19.60" y="4.30" width="6.77" height="2.20" fill="#c5c5c5" stroke="none" stroke-width="1"/>
<rect x="20.29" y="6.45" width="6.77" height="2.20" fill="#c8c8c8" stroke="none" stroke-width="1"/>
<rect x="21.20" y="8.60" width="6.77" height="2.20" fill="#c2c2c2" stroke="none" stroke-width="1"/>
<rect x="21.88" y="10.75" width="6.77" height="2.20" fill="#bebebe" stroke="none" stroke-width="1"/>
<rect x="22.46" y="12.90" width="6.77" height="2.20" fill="#c5c5c5" stroke="none" stroke-width="1"/>
<rect x="23.31" y="15.05" width="6.77" height="2.20" fill="#c5c5c5" stroke="none" stroke-width="1"/>
<rect x="24.15" y="17.20" width="6.77" height="2.20" fill="#e8b0c8" stroke="none" stroke-width="1"/>
<rect x="24.91" y="19.35" width="6.77" height="2.20" fill="#f0b080" stroke="none" stroke-width="1"/>
<rect x="25.62" y="21.50" width="6.77" height="2.20" fill="#c5c5c5" stroke="none" stroke-width="1"/>
<rect x="26.35" y="23.65" width="6.77" height="2.20" fill="#f0b080" stroke="none" stroke-width="1"/>
<rect x="27.16" y="25.80" width="6.77" height="2.20" fill="#c5c5c5" stroke="none" stroke-width="1"/>
<rect x="27.76" y="27.95" width="6.77" height="2.20" fill="#c2c2c2" stroke="none" stroke-width="1"/>
<rect x="28.42" y="30.10" width="6.77" height="2.20" fill="#c2c2c2" stroke="none" stroke-width="1"/>
<rect x="29.04" y="32.25" width="6.77" height="2.20" fill="#c890c8" stroke="none" stroke-width="1"/>
<rect x="29.92" y="34.40" width="6.77" height="2.20" fill="#c8c8c8" stroke="none" stroke-width="1"/>
<rect x="30.83" y="36.55" width="6.77" height="2.20" fill="#f0b080" stroke="none" stroke-width="1"/>
<rect x="31.70" y="38.70" width="6.77" height="2.20" fill="#bebebe" stroke="none" stroke-width="1"/>
<rect x="32.63" y="40.85" width="6.77" height="2.20" fill="#e8a070" stroke="none" stroke-width="1"/>
<rect x="33.57" y="43.00" width="6.77" height="2.20" fill="#c5c5c5" stroke="none" stroke-width="1"/>
<rect x="34.40" y="45.15" width="6.77" height="2.20" fill="#cccccc" stroke="none" stroke-width="1"/>
<rect x="35.11" y="47.30" width="6.77" height="2.20" fill="#c2c2c2" stroke="none" stroke-width="1"/>
<rect x="26.03" y="0.00" width="6.77" height="2.20" fill="#c5c5c5" stroke="none" stroke-width="1"/>
<rect x="26.73" y="2.15" width="6.77" height="2.20" fill="#f0b080" stroke="none" stroke-width="1"/>
<rect x="27.46" y="4.30" width="6.77" height="2.20" fill="#c8c8c8" stroke="none" stroke-width="1"/>
<rect x="28.22" y="6.45" width="6.77" height="2.20" fill="#c8c8c8" stroke="none" stroke-width="1"/>
<rect x="28.99" y="8.60" width="6.77" height="2.20" fill="#bebebe" stroke="none" stroke-width="1"/>
<rect x="29.64" y="10.75" width="6.77" height="2.20" fill="#c890c8" stroke="none" stroke-width="1"/>
<rect x="30.36" y="12.90" width="6.77" height="2.20" fill="#e8b0c8" stroke="none" stroke-width="1"/>
<rect x="30.92" y="15.05" width="6.77" height="2.20" fill="#c5c5c5" stroke="none" stroke-width="1"/>
<rect x="31.75" y="17.20" width="6.77" height="2.20" fill="#c8c8c8" stroke="none" stroke-width="1"/>
<rect x="32.56" y="19.35" width="6.77" height="2.20" fill="#bebebe" stroke="none" stroke-width="1"/>
<rect x="33.51" y="21.50" width="6.77" height="2.20" fill="#c8c8c8" stroke="none" stroke-width="1"/>
<rect x="34.23" y="23.65" width="6.77" height="2.20" fill="#cccccc" stroke="none" stroke-width="1"/>
<rect x="35.07" y="25.80" width="6.77" height="2.20" fill="#c8c8c8" stroke="none" stroke-width="1"/>
<rect x="35.77" y="27.95" width="6.77" height="2.20" fill="#c8c8c8" stroke="none" stroke-width="1"/>
<rect x="33.81" y="0.00" width="6.13" height="2.20" fill="#bebebe" stroke="none" stroke-width="1"/>
<rect x="34.43" y="2.15" width="6.13" height="2.20" fill="#c8c8c8" stroke="none" stroke-width="1"/>
<rect x="35.27" y="4.30" width="6.13" height="2.20" fill="#bebebe" stroke="none" stroke-width="1"/>
<rect x="36.19" y="6.45" width="6.13" height="2.20" fill="#cccccc" stroke="none" stroke-width="1"/>
<rect x="36.92" y="8.60" width="6.13" height="2.20" fill="#c2c2c2" stroke="none" stroke-width="1"/>
<rect x="37.60" y="10.75" width="6.13" height="2.20" fill="#c5c5c5" stroke="none" stroke-width="1"/>
<rect x="38.54" y="12.90" width="6.13" height="2.20" fill="#cccccc" stroke="none" stroke-width="1"/>
<rect x="39.26" y="15.05" width="6.13" height="2.20" fill="#cccccc" stroke="none" stroke-width="1"/>
<rect x="39.83" y="17.20" width="6.13" height="2.20" fill="#c2c2c2" stroke="none" stroke-width="1"/>
<rect x="40.65" y="19.35" width="6.13" height="2.20" fill="#c8c8c8" stroke="none" stroke-width="1"/>
<rect x="41.26" y="21.50" width="6.13" height="2.20" fill="#c5c5c5" stroke="none" stroke-width="1"/>
<rect x="41.99" y="23.65" width="6.13" height="2.20" fill="#bebebe" stroke="none" stroke-width="1"/>
<rect x="42.88" y="25.80" width="6.13" height="2.20" fill="#bebebe" stroke="none" stroke-width="1"/>
<rect x="41.22" y="0.00" width="7.32" height="2.20" fill="#c2c2c2" stroke="none" stroke-width="1"/>
<rect x="42.02" y="2.15" width="7.32" height="2.20" fill="#cccccc" stroke="none" stroke-width="1"/>
<rect x="42.86" y="4.30" width="7.32" height="2.20" fill="#c2c2c2" stroke="none" stroke-width="1"/>
<rect x="43.66" y="6.45" width="7.32" height="2.20" fill="#cccccc" stroke="none" stroke-width="1"/>
<rect x="44.28" y="8.60" width="7.32" height="2.20" fill="#bebebe" stroke="none" stroke-width="1"/>
<rect x="44.98" y="10.75" width="7.32" height="2.20" fill="#c5c5c5" stroke="none" stroke-width="1"/>
<rect x="45.90" y="12.90" width="7.32" height="2.20" fill="#c2c2c2" stroke="none" stroke-width="1"/>
<rect x="46.64" y="15.05" width="7.32" height="2.20" fill="#c5c5c5" stroke="none" stroke-width="1"/>
<rect x="47.39" y="17.20" width="7.32" height="2.20" fill="#bebebe" stroke="none" stroke-width="1"/>
<rect x="48.14" y="19.35" width="7.32" height="2.20" fill="#c5c5c5" stroke="none" stroke-width="1"/>
<rect x="48.81" y="21.50" width="7.32" height="2.20" fill="#c2c2c2" stroke="none" stroke-width="1"/>
<rect x="49.69" y="23.65" width="7.32" height="2.20" fill="#c2c2c2" stroke="none" stroke-width="1"/>
<rect x="50.45" y="25.80" width="7.32" height="2.20" fill="#c8c8c8" stroke="none" stroke-width="1"/>
<rect x="50.03" y="0.00" width="6.61" height="2.20" fill="#c8c8c8" stroke="none" stroke-width="1"/>
<rect x="50.82" y="2.15" width="6.61" height="2.20" fill="#cccccc" stroke="none" stroke-width="1"/>
<rect x="51.74" y="4.30" width="6.61" height="2.20" fill="#cccccc" stroke="none" stroke-width="1"/>
<rect x="52.57" y="6.45" width="6.61" height="2.20" fill="#c888b8" stroke="none" stroke-width="1"/>
<rect x="53.16" y="8.60" width="6.61" height="2.20" fill="#cccccc" stroke="none" stroke-width="1"/>
<rect x="53.83" y="10.75" width="6.61" height="2.20" fill="#bebebe" stroke="none" stroke-width="1"/>
<rect x="54.49" y="12.90" width="6.61" height="2.20" fill="#cccccc" stroke="none" stroke-width="1"/>
<rect x="55.19" y="15.05" width="6.61" height="2.20" fill="#c2c2c2" stroke="none" stroke-width="1"/>
<rect x="56.05" y="17.20" width="6.61" height="2.20" fill="#bebebe" stroke="none" stroke-width="1"/>
<rect x="56.98" y="19.35" width="6.61" height="2.20" fill="#c5c5c5" stroke="none" stroke-width="1"/>
<rect x="57.88" y="21.50" width="6.61" height="2.20" fill="#c5c5c5" stroke="none" stroke-width="1"/>
</svg>
<rect x="174.70" y="613.80" width="111.20" height="53.40" fill="none" stroke="#555" stroke-width="1.0"/>
<line x1="230.90" y1="613.80" x2="230.90" y2="667.20" stroke="#222" stroke-width="1.0"/>
<line x1="206.70" y1="613.80" x2="206.70" y2="668.20" stroke="#222" stroke-width="0.8" stroke-dasharray="1.4,1"/>
<path d="M204.6,612.0 L208.79999999999998,612.0 L206.7,616.1999999999999 Z" fill="#7a2a4a" stroke="none" stroke-width="1"/>
<path d="M204.6,668.2 L208.79999999999998,668.2 L206.7,671.6 Z" fill="#111" stroke="none" stroke-width="1"/>
<text x="206.7" y="680.8" font-size="7.0" text-anchor="middle" font-weight="normal" fill="#222" textLength="31" lengthAdjust="spacingAndGlyphs" stroke="#222" stroke-width="0.06">Breakpoint</text>
<line x1="262.00" y1="613.80" x2="262.00" y2="668.20" stroke="#222" stroke-width="0.8" stroke-dasharray="1.4,1"/>
<path d="M259.9,612.0 L264.1,612.0 L262.0,616.1999999999999 Z" fill="#7a2a4a" stroke="none" stroke-width="1"/>
<path d="M259.9,668.2 L264.1,668.2 L262.0,671.6 Z" fill="#111" stroke="none" stroke-width="1"/>
<text x="262.0" y="680.8" font-size="7.0" text-anchor="middle" font-weight="normal" fill="#222" textLength="31" lengthAdjust="spacingAndGlyphs" stroke="#222" stroke-width="0.06">Breakpoint</text>
<text x="350.8" y="602.0" font-size="7.0" text-anchor="middle" font-weight="normal" fill="#222" stroke="#222" stroke-width="0.05">DND-41</text>
<text x="294.1" y="608.6" font-size="6.5" text-anchor="start" font-weight="normal" fill="#222" textLength="45.5" lengthAdjust="spacingAndGlyphs" stroke="#222" stroke-width="0.05">chr5:170,456,171</text>
<text x="360.6" y="608.6" font-size="6.5" text-anchor="start" font-weight="normal" fill="#222" textLength="45" lengthAdjust="spacingAndGlyphs" stroke="#222" stroke-width="0.05">chr14:98,805,500</text>
<svg x="294.40" y="614.40" width="55.90" height="52.20" overflow="hidden">
<rect x="-20.04" y="0.00" width="6.92" height="2.20" fill="#c8c8c8" stroke="none" stroke-width="1"/>
<rect x="-19.30" y="2.15" width="6.92" height="2.20" fill="#c8c8c8" stroke="none" stroke-width="1"/>
<rect x="-18.72" y="4.30" width="6.92" height="2.20" fill="#c8c8c8" stroke="none" stroke-width="1"/>
<rect x="-17.92" y="6.45" width="6.92" height="2.20" fill="#cccccc" stroke="none" stroke-width="1"/>
<rect x="-17.07" y="8.60" width="6.92" height="2.20" fill="#bebebe" stroke="none" stroke-width="1"/>
<rect x="-16.21" y="10.75" width="6.92" height="2.20" fill="#cccccc" stroke="none" stroke-width="1"/>
<rect x="-15.36" y="12.90" width="6.92" height="2.20" fill="#a8d888" stroke="none" stroke-width="1"/>
<rect x="-14.74" y="15.05" width="6.92" height="2.20" fill="#c5c5c5" stroke="none" stroke-width="1"/>
<rect x="-14.13" y="17.20" width="6.92" height="2.20" fill="#c2c2c2" stroke="none" stroke-width="1"/>
<rect x="-12.17" y="0.00" width="7.30" height="2.20" fill="#c5c5c5" stroke="none" stroke-width="1"/>
<rect x="-11.50" y="2.15" width="7.30" height="2.20" fill="#c2c2c2" stroke="none" stroke-width="1"/>
<rect x="-10.88" y="4.30" width="7.30" height="2.20" fill="#c8c8c8" stroke="none" stroke-width="1"/>
<rect x="-10.13" y="6.45" width="7.30" height="2.20" fill="#c2c2c2" stroke="none" stroke-width="1"/>
<rect x="-9.30" y="8.60" width="7.30" height="2.20" fill="#cccccc" stroke="none" stroke-width="1"/>
<rect x="-8.68" y="10.75" width="7.30" height="2.20" fill="#c2c2c2" stroke="none" stroke-width="1"/>
<rect x="-7.92" y="12.90" width="7.30" height="2.20" fill="#cccccc" stroke="none" stroke-width="1"/>
<rect x="-7.19" y="15.05" width="7.30" height="2.20" fill="#cccccc" stroke="none" stroke-width="1"/>
<rect x="-6.57" y="17.20" width="7.30" height="2.20" fill="#c2c2c2" stroke="none" stroke-width="1"/>
<rect x="-6.00" y="19.35" width="7.30" height="2.20" fill="#c8c8c8" stroke="none" stroke-width="1"/>
<rect x="-5.07" y="21.50" width="7.30" height="2.20" fill="#cccccc" stroke="none" stroke-width="1"/>
<rect x="-3.88" y="0.00" width="7.35" height="2.20" fill="#bebebe" stroke="none" stroke-width="1"/>
<rect x="-3.22" y="2.15" width="7.35" height="2.20" fill="#c2c2c2" stroke="none" stroke-width="1"/>
<rect x="-2.43" y="4.30" width="7.35" height="2.20" fill="#c2c2c2" stroke="none" stroke-width="1"/>
<rect x="-1.76" y="6.45" width="7.35" height="2.20" fill="#c2c2c2" stroke="none" stroke-width="1"/>
<rect x="-0.96" y="8.60" width="7.35" height="2.20" fill="#c2c2c2" stroke="none" stroke-width="1"/>
<rect x="-0.12" y="10.75" width="7.35" height="2.20" fill="#c5c5c5" stroke="none" stroke-width="1"/>
<rect x="0.44" y="12.90" width="7.35" height="2.20" fill="#cccccc" stroke="none" stroke-width="1"/>
<rect x="1.27" y="15.05" width="7.35" height="2.20" fill="#c8c8c8" stroke="none" stroke-width="1"/>
<rect x="2.13" y="17.20" width="7.35" height="2.20" fill="#cccccc" stroke="none" stroke-width="1"/>
<rect x="2.76" y="19.35" width="7.35" height="2.20" fill="#e07878" stroke="none" stroke-width="1"/>
<rect x="3.68" y="21.50" width="7.35" height="2.20" fill="#c2c2c2" stroke="none" stroke-width="1"/>
<rect x="4.38" y="23.65" width="7.35" height="2.20" fill="#c8c8c8" stroke="none" stroke-width="1"/>
<rect x="4.42" y="0.00" width="7.36" height="2.20" fill="#c2c2c2" stroke="none" stroke-width="1"/>
<rect x="5.00" y="2.15" width="7.36" height="2.20" fill="#c5c5c5" stroke="none" stroke-width="1"/>
<rect x="5.86" y="4.30" width="7.36" height="2.20" fill="#c5c5c5" stroke="none" stroke-width="1"/>
<rect x="6.41" y="6.45" width="7.36" height="2.20" fill="#cccccc" stroke="none" stroke-width="1"/>
<rect x="7.21" y="8.60" width="7.36" height="2.20" fill="#bebebe" stroke="none" stroke-width="1"/>
<rect x="8.14" y="10.75" width="7.36" height="2.20" fill="#bebebe" stroke="none" stroke-width="1"/>
<rect x="8.89" y="12.90" width="7.36" height="2.20" fill="#bebebe" stroke="none" stroke-width="1"/>
<rect x="9.56" y="15.05" width="7.36" height="2.20" fill="#cccccc" stroke="none" stroke-width="1"/>
<rect x="10.49" y="17.20" width="7.36" height="2.20" fill="#c5c5c5" stroke="none" stroke-width="1"/>
<rect x="11.25" y="19.35" width="7.36" height="2.20" fill="#c8c8c8" stroke="none" stroke-width="1"/>
<rect x="12.07" y="21.50" width="7.36" height="2.20" fill="#cccccc" stroke="none" stroke-width="1"/>
<rect x="12.96" y="23.65" width="7.36" height="2.20" fill="#bebebe" stroke="none" stroke-width="1"/>
<rect x="13.62" y="25.80" width="7.36" height="2.20" fill="#98d078" stroke="none" stroke-width="1"/>
<rect x="14.55" y="27.95" width="7.36" height="2.20" fill="#c8c8c8" stroke="none" stroke-width="1"/>
<rect x="15.12" y="30.10" width="7.36" height="2.20" fill="#bebebe" stroke="none" stroke-width="1"/>
<rect x="13.01" y="0.00" width="6.88" height="2.20" fill="#bebebe" stroke="none" stroke-width="1"/>
<rect x="13.58" y="2.15" width="6.88" height="2.20" fill="#c2c2c2" stroke="none" stroke-width="1"/>
<rect x="14.38" y="4.30" width="6.88" height="2.20" fill="#c5c5c5" stroke="none" stroke-width="1"/>
<rect x="14.95" y="6.45" width="6.88" height="2.20" fill="#c5c5c5" stroke="none" stroke-width="1"/>
<rect x="15.54" y="8.60" width="6.88" height="2.20" fill="#e07878" stroke="none" stroke-width="1"/>
<rect x="16.32" y="10.75" width="6.88" height="2.20" fill="#88b0e0" stroke="none" stroke-width="1"/>
<rect x="16.94" y="12.90" width="6.88" height="2.20" fill="#e07878" stroke="none" stroke-width="1"/>
<rect x="17.87" y="15.05" width="6.88" height="2.20" fill="#c5c5c5" stroke="none" stroke-width="1"/>
<rect x="18.74" y="17.20" width="6.88" height="2.20" fill="#c5c5c5" stroke="none" stroke-width="1"/>
<rect x="19.60" y="19.35" width="6.88" height="2.20" fill="#bebebe" stroke="none" stroke-width="1"/>
<rect x="20.29" y="21.50" width="6.88" height="2.20" fill="#e07878" stroke="none" stroke-width="1"/>
<rect x="20.89" y="23.65" width="6.88" height="2.20" fill="#c8c8c8" stroke="none" stroke-width="1"/>
<rect x="21.71" y="25.80" width="6.88" height="2.20" fill="#cccccc" stroke="none" stroke-width="1"/>
<rect x="22.47" y="27.95" width="6.88" height="2.20" fill="#c5c5c5" stroke="none" stroke-width="1"/>
<rect x="23.17" y="30.10" width="6.88" height="2.20" fill="#a8d888" stroke="none" stroke-width="1"/>
<rect x="24.07" y="32.25" width="6.88" height="2.20" fill="#bebebe" stroke="none" stroke-width="1"/>
<rect x="24.79" y="34.40" width="6.88" height="2.20" fill="#e07878" stroke="none" stroke-width="1"/>
<rect x="25.52" y="36.55" width="6.88" height="2.20" fill="#98d078" stroke="none" stroke-width="1"/>
<rect x="26.33" y="38.70" width="6.88" height="2.20" fill="#c2c2c2" stroke="none" stroke-width="1"/>
<rect x="20.86" y="0.00" width="6.88" height="2.20" fill="#c2c2c2" stroke="none" stroke-width="1"/>
<rect x="21.48" y="2.15" width="6.88" height="2.20" fill="#88b0e0" stroke="none" stroke-width="1"/>
<rect x="22.34" y="4.30" width="6.88" height="2.20" fill="#e07878" stroke="none" stroke-width="1"/>
<rect x="23.14" y="6.45" width="6.88" height="2.20" fill="#c5c5c5" stroke="none" stroke-width="1"/>
<rect x="23.93" y="8.60" width="6.88" height="2.20" fill="#a8d888" stroke="none" stroke-width="1"/>
<rect x="24.64" y="10.75" width="6.88" height="2.20" fill="#98d078" stroke="none" stroke-width="1"/>
<rect x="25.24" y="12.90" width="6.88" height="2.20" fill="#c2c2c2" stroke="none" stroke-width="1"/>
<rect x="25.96" y="15.05" width="6.88" height="2.20" fill="#c8c8c8" stroke="none" stroke-width="1"/>
<rect x="26.74" y="17.20" width="6.88" height="2.20" fill="#cccccc" stroke="none" stroke-width="1"/>
<rect x="27.61" y="19.35" width="6.88" height="2.20" fill="#c5c5c5" stroke="none" stroke-width="1"/>
<rect x="28.31" y="21.50" width="6.88" height="2.20" fill="#c5c5c5" stroke="none" stroke-width="1"/>
<rect x="29.15" y="23.65" width="6.88" height="2.20" fill="#c2c2c2" stroke="none" stroke-width="1"/>
<rect x="29.84" y="25.80" width="6.88" height="2.20" fill="#c5c5c5" stroke="none" stroke-width="1"/>
<rect x="30.47" y="27.95" width="6.88" height="2.20" fill="#cccccc" stroke="none" stroke-width="1"/>
<rect x="31.32" y="30.10" width="6.88" height="2.20" fill="#bebebe" stroke="none" stroke-width="1"/>
<rect x="31.92" y="32.25" width="6.88" height="2.20" fill="#c5c5c5" stroke="none" stroke-width="1"/>
<rect x="32.71" y="34.40" width="6.88" height="2.20" fill="#cccccc" stroke="none" stroke-width="1"/>
<rect x="33.38" y="36.55" width="6.88" height="2.20" fill="#c2c2c2" stroke="none" stroke-width="1"/>
<rect x="34.17" y="38.70" width="6.88" height="2.20" fill="#c8c8c8" stroke="none" stroke-width="1"/>
<rect x="34.84" y="40.85" width="6.88" height="2.20" fill="#c2c2c2" stroke="none" stroke-width="1"/>
<rect x="28.80" y="0.00" width="6.10" height="2.20" fill="#cccccc" stroke="none" stroke-width="1"/>
<rect x="29.59" y="2.15" width="6.10" height="2.20" fill="#cccccc" stroke="none" stroke-width="1"/>
<rect x="30.36" y="4.30" width="6.10" height="2.20" fill="#c8c8c8" stroke="none" stroke-width="1"/>
<rect x="30.91" y="6.45" width="6.10" height="2.20" fill="#c8c8c8" stroke="none" stroke-width="1"/>
<rect x="31.47" y="8.60" width="6.10" height="2.20" fill="#c8c8c8" stroke="none" stroke-width="1"/>
<rect x="32.34" y="10.75" width="6.10" height="2.20" fill="#c8c8c8" stroke="none" stroke-width="1"/>
<rect x="33.17" y="12.90" width="6.10" height="2.20" fill="#c5c5c5" stroke="none" stroke-width="1"/>
<rect x="33.97" y="15.05" width="6.10" height="2.20" fill="#c5c5c5" stroke="none" stroke-width="1"/>
<rect x="34.68" y="17.20" width="6.10" height="2.20" fill="#cccccc" stroke="none" stroke-width="1"/>
<rect x="35.25" y="19.35" width="6.10" height="2.20" fill="#c5c5c5" stroke="none" stroke-width="1"/>
<rect x="36.06" y="21.50" width="6.10" height="2.20" fill="#c8c8c8" stroke="none" stroke-width="1"/>
<rect x="36.67" y="23.65" width="6.10" height="2.20" fill="#c5c5c5" stroke="none" stroke-width="1"/>
<rect x="37.22" y="25.80" width="6.10" height="2.20" fill="#cccccc" stroke="none" stroke-width="1"/>
<rect x="37.84" y="27.95" width="6.10" height="2.20" fill="#c2c2c2" stroke="none" stroke-width="1"/>
<rect x="38.58" y="30.10" width="6.10" height="2.20" fill="#c2c2c2" stroke="none" stroke-width="1"/>
<rect x="39.33" y="32.25" width="6.10" height="2.20" fill="#c8c8c8" stroke="none" stroke-width="1"/>
<rect x="40.06" y="34.40" width="6.10" height="2.20" fill="#c8c8c8" stroke="none" stroke-width="1"/>
<rect x="40.93" y="36.55" width="6.10" height="2.20" fill="#bebebe" stroke="none" stroke-width="1"/>
<rect x="41.62" y="38.70" width="6.10" height="2.20" fill="#c2c2c2" stroke="none" stroke-width="1"/>
<rect x="42.47" y="40.85" width="6.10" height="2.20" fill="#bebebe" stroke="none" stroke-width="1"/>
<rect x="36.10" y="0.00" width="6.04" height="2.20" fill="#cccccc" stroke="none" stroke-width="1"/>
<rect x="36.97" y="2.15" width="6.04" height="2.20" fill="#c5c5c5" stroke="none" stroke-width="1"/>
<rect x="37.57" y="4.30" width="6.04" height="2.20" fill="#bebebe" stroke="none" stroke-width="1"/>
<rect x="38.41" y="6.45" width="6.04" height="2.20" fill="#cccccc" stroke="none" stroke-width="1"/>
<rect x="39.20" y="8.60" width="6.04" height="2.20" fill="#c5c5c5" stroke="none" stroke-width="1"/>
<rect x="39.90" y="10.75" width="6.04" height="2.20" fill="#c5c5c5" stroke="none" stroke-width="1"/>
<rect x="40.52" y="12.90" width="6.04" height="2.20" fill="#c5c5c5" stroke="none" stroke-width="1"/>
<rect x="41.16" y="15.05" width="6.04" height="2.20" fill="#bebebe" stroke="none" stroke-width="1"/>
<rect x="41.71" y="17.20" width="6.04" height="2.20" fill="#c8c8c8" stroke="none" stroke-width="1"/>
<rect x="42.58" y="19.35" width="6.04" height="2.20" fill="#cccccc" stroke="none" stroke-width="1"/>
<rect x="43.32" y="21.50" width="6.04" height="2.20" fill="#c2c2c2" stroke="none" stroke-width="1"/>
<rect x="44.03" y="23.65" width="6.04" height="2.20" fill="#bebebe" stroke="none" stroke-width="1"/>
<rect x="44.82" y="25.80" width="6.04" height="2.20" fill="#c5c5c5" stroke="none" stroke-width="1"/>
<rect x="45.44" y="27.95" width="6.04" height="2.20" fill="#c5c5c5" stroke="none" stroke-width="1"/>
<rect x="46.27" y="30.10" width="6.04" height="2.20" fill="#cccccc" stroke="none" stroke-width="1"/>
<rect x="47.16" y="32.25" width="6.04" height="2.20" fill="#cccccc" stroke="none" stroke-width="1"/>
<rect x="48.11" y="34.40" width="6.04" height="2.20" fill="#c2c2c2" stroke="none" stroke-width="1"/>
<rect x="48.67" y="36.55" width="6.04" height="2.20" fill="#cccccc" stroke="none" stroke-width="1"/>
<rect x="49.59" y="38.70" width="6.04" height="2.20" fill="#c8c8c8" stroke="none" stroke-width="1"/>
<rect x="50.50" y="40.85" width="6.04" height="2.20" fill="#c8c8c8" stroke="none" stroke-width="1"/>
<rect x="43.67" y="0.00" width="6.13" height="2.20" fill="#c2c2c2" stroke="none" stroke-width="1"/>
<rect x="44.46" y="2.15" width="6.13" height="2.20" fill="#cccccc" stroke="none" stroke-width="1"/>
<rect x="45.13" y="4.30" width="6.13" height="2.20" fill="#c8c8c8" stroke="none" stroke-width="1"/>
<rect x="46.07" y="6.45" width="6.13" height="2.20" fill="#c2c2c2" stroke="none" stroke-width="1"/>
<rect x="46.75" y="8.60" width="6.13" height="2.20" fill="#bebebe" stroke="none" stroke-width="1"/>
<rect x="47.59" y="10.75" width="6.13" height="2.20" fill="#bebebe" stroke="none" stroke-width="1"/>
<rect x="48.52" y="12.90" width="6.13" height="2.20" fill="#bebebe" stroke="none" stroke-width="1"/>
<rect x="49.30" y="15.05" width="6.13" height="2.20" fill="#bebebe" stroke="none" stroke-width="1"/>
<rect x="49.87" y="17.20" width="6.13" height="2.20" fill="#cccccc" stroke="none" stroke-width="1"/>
<rect x="50.75" y="19.35" width="6.13" height="2.20" fill="#c2c2c2" stroke="none" stroke-width="1"/>
<rect x="51.31" y="21.50" width="6.13" height="2.20" fill="#bebebe" stroke="none" stroke-width="1"/>
<rect x="52.07" y="23.65" width="6.13" height="2.20" fill="#88b0e0" stroke="none" stroke-width="1"/>
<rect x="52.68" y="25.80" width="6.13" height="2.20" fill="#c5c5c5" stroke="none" stroke-width="1"/>
<rect x="53.27" y="27.95" width="6.13" height="2.20" fill="#c8c8c8" stroke="none" stroke-width="1"/>
<rect x="54.21" y="30.10" width="6.13" height="2.20" fill="#c2c2c2" stroke="none" stroke-width="1"/>
<rect x="54.99" y="32.25" width="6.13" height="2.20" fill="#c5c5c5" stroke="none" stroke-width="1"/>
<rect x="55.62" y="34.40" width="6.13" height="2.20" fill="#c5c5c5" stroke="none" stroke-width="1"/>
<rect x="56.44" y="36.55" width="6.13" height="2.20" fill="#c2c2c2" stroke="none" stroke-width="1"/>
<rect x="57.07" y="38.70" width="6.13" height="2.20" fill="#bebebe" stroke="none" stroke-width="1"/>
<rect x="57.85" y="40.85" width="6.13" height="2.20" fill="#c2c2c2" stroke="none" stroke-width="1"/>
<rect x="58.78" y="43.00" width="6.13" height="2.20" fill="#c5c5c5" stroke="none" stroke-width="1"/>
<rect x="59.38" y="45.15" width="6.13" height="2.20" fill="#c5c5c5" stroke="none" stroke-width="1"/>
<rect x="51.22" y="0.00" width="7.18" height="2.20" fill="#c8c8c8" stroke="none" stroke-width="1"/>
<rect x="51.82" y="2.15" width="7.18" height="2.20" fill="#cccccc" stroke="none" stroke-width="1"/>
<rect x="52.77" y="4.30" width="7.18" height="2.20" fill="#88b0e0" stroke="none" stroke-width="1"/>
<rect x="53.58" y="6.45" width="7.18" height="2.20" fill="#cccccc" stroke="none" stroke-width="1"/>
<rect x="54.18" y="8.60" width="7.18" height="2.20" fill="#bebebe" stroke="none" stroke-width="1"/>
<rect x="54.92" y="10.75" width="7.18" height="2.20" fill="#c2c2c2" stroke="none" stroke-width="1"/>
<rect x="55.76" y="12.90" width="7.18" height="2.20" fill="#c2c2c2" stroke="none" stroke-width="1"/>
<rect x="56.47" y="15.05" width="7.18" height="2.20" fill="#c2c2c2" stroke="none" stroke-width="1"/>
<rect x="57.05" y="17.20" width="7.18" height="2.20" fill="#bebebe" stroke="none" stroke-width="1"/>
<rect x="57.82" y="19.35" width="7.18" height="2.20" fill="#cccccc" stroke="none" stroke-width="1"/>
<rect x="58.74" y="21.50" width="7.18" height="2.20" fill="#bebebe" stroke="none" stroke-width="1"/>
<rect x="59.49" y="23.65" width="7.18" height="2.20" fill="#c8c8c8" stroke="none" stroke-width="1"/>
<rect x="60.18" y="25.80" width="7.18" height="2.20" fill="#88b0e0" stroke="none" stroke-width="1"/>
<rect x="60.90" y="27.95" width="7.18" height="2.20" fill="#cccccc" stroke="none" stroke-width="1"/>
<rect x="61.54" y="30.10" width="7.18" height="2.20" fill="#c8c8c8" stroke="none" stroke-width="1"/>
<rect x="62.19" y="32.25" width="7.18" height="2.20" fill="#cccccc" stroke="none" stroke-width="1"/>
<rect x="62.84" y="34.40" width="7.18" height="2.20" fill="#cccccc" stroke="none" stroke-width="1"/>
<rect x="63.44" y="36.55" width="7.18" height="2.20" fill="#c2c2c2" stroke="none" stroke-width="1"/>
<rect x="64.07" y="38.70" width="7.18" height="2.20" fill="#c5c5c5" stroke="none" stroke-width="1"/>
<rect x="64.70" y="40.85" width="7.18" height="2.20" fill="#bebebe" stroke="none" stroke-width="1"/>
<rect x="65.56" y="43.00" width="7.18" height="2.20" fill="#c8c8c8" stroke="none" stroke-width="1"/>
<rect x="66.46" y="45.15" width="7.18" height="2.20" fill="#98d078" stroke="none" stroke-width="1"/>
</svg>
<svg x="351.30" y="614.40" width="54.90" height="52.20" overflow="hidden">
<rect x="-19.50" y="0.00" width="7.20" height="2.20" fill="#c2c2c2" stroke="none" stroke-width="1"/>
<rect x="-18.57" y="2.15" width="7.20" height="2.20" fill="#c8c8c8" stroke="none" stroke-width="1"/>
<rect x="-18.02" y="4.30" width="7.20" height="2.20" fill="#bebebe" stroke="none" stroke-width="1"/>
<rect x="-17.47" y="6.45" width="7.20" height="2.20" fill="#c5c5c5" stroke="none" stroke-width="1"/>
<rect x="-16.79" y="8.60" width="7.20" height="2.20" fill="#c8c8c8" stroke="none" stroke-width="1"/>
<rect x="-16.10" y="10.75" width="7.20" height="2.20" fill="#bebebe" stroke="none" stroke-width="1"/>
<rect x="-15.47" y="12.90" width="7.20" height="2.20" fill="#c8c8c8" stroke="none" stroke-width="1"/>
<rect x="-14.87" y="15.05" width="7.20" height="2.20" fill="#bebebe" stroke="none" stroke-width="1"/>
<rect x="-14.17" y="17.20" width="7.20" height="2.20" fill="#c5c5c5" stroke="none" stroke-width="1"/>
<rect x="-13.53" y="19.35" width="7.20" height="2.20" fill="#c2c2c2" stroke="none" stroke-width="1"/>
<rect x="-12.94" y="21.50" width="7.20" height="2.20" fill="#bebebe" stroke="none" stroke-width="1"/>
<rect x="-11.99" y="23.65" width="7.20" height="2.20" fill="#c5c5c5" stroke="none" stroke-width="1"/>
<rect x="-11.05" y="25.80" width="7.20" height="2.20" fill="#c5c5c5" stroke="none" stroke-width="1"/>
<rect x="-10.14" y="27.95" width="7.20" height="2.20" fill="#bebebe" stroke="none" stroke-width="1"/>
<rect x="-9.58" y="30.10" width="7.20" height="2.20" fill="#bebebe" stroke="none" stroke-width="1"/>
<rect x="-8.73" y="32.25" width="7.20" height="2.20" fill="#cccccc" stroke="none" stroke-width="1"/>
<rect x="-7.97" y="34.40" width="7.20" height="2.20" fill="#c2c2c2" stroke="none" stroke-width="1"/>
<rect x="-7.08" y="36.55" width="7.20" height="2.20" fill="#c8c8c8" stroke="none" stroke-width="1"/>
<rect x="-6.24" y="38.70" width="7.20" height="2.20" fill="#c2c2c2" stroke="none" stroke-width="1"/>
<rect x="-5.43" y="40.85" width="7.20" height="2.20" fill="#cccccc" stroke="none" stroke-width="1"/>
<rect x="-4.69" y="43.00" width="7.20" height="2.20" fill="#c2c2c2" stroke="none" stroke-width="1"/>
<rect x="-3.84" y="45.15" width="7.20" height="2.20" fill="#bebebe" stroke="none" stroke-width="1"/>
<rect x="-3.12" y="47.30" width="7.20" height="2.20" fill="#c5c5c5" stroke="none" stroke-width="1"/>
<rect x="-10.82" y="0.00" width="7.12" height="2.20" fill="#cccccc" stroke="none" stroke-width="1"/>
<rect x="-10.16" y="2.15" width="7.12" height="2.20" fill="#c5c5c5" stroke="none" stroke-width="1"/>
<rect x="-9.25" y="4.30" width="7.12" height="2.20" fill="#c5c5c5" stroke="none" stroke-width="1"/>
<rect x="-8.56" y="6.45" width="7.12" height="2.20" fill="#c5c5c5" stroke="none" stroke-width="1"/>
<rect x="-7.95" y="8.60" width="7.12" height="2.20" fill="#bebebe" stroke="none" stroke-width="1"/>
<rect x="-7.23" y="10.75" width="7.12" height="2.20" fill="#c5c5c5" stroke="none" stroke-width="1"/>
<rect x="-6.40" y="12.90" width="7.12" height="2.20" fill="#bebebe" stroke="none" stroke-width="1"/>
<rect x="-5.54" y="15.05" width="7.12" height="2.20" fill="#c2c2c2" stroke="none" stroke-width="1"/>
<rect x="-4.93" y="17.20" width="7.12" height="2.20" fill="#bebebe" stroke="none" stroke-width="1"/>
<rect x="-4.37" y="19.35" width="7.12" height="2.20" fill="#bebebe" stroke="none" stroke-width="1"/>
<rect x="-3.54" y="21.50" width="7.12" height="2.20" fill="#bebebe" stroke="none" stroke-width="1"/>
<rect x="-2.61" y="23.65" width="7.12" height="2.20" fill="#c2c2c2" stroke="none" stroke-width="1"/>
<rect x="-1.88" y="25.80" width="7.12" height="2.20" fill="#cccccc" stroke="none" stroke-width="1"/>
<rect x="-0.95" y="27.95" width="7.12" height="2.20" fill="#c2c2c2" stroke="none" stroke-width="1"/>
<rect x="-0.32" y="30.10" width="7.12" height="2.20" fill="#cccccc" stroke="none" stroke-width="1"/>
<rect x="0.48" y="32.25" width="7.12" height="2.20" fill="#c5c5c5" stroke="none" stroke-width="1"/>
<rect x="1.40" y="34.40" width="7.12" height="2.20" fill="#bebebe" stroke="none" stroke-width="1"/>
<rect x="2.24" y="36.55" width="7.12" height="2.20" fill="#c2c2c2" stroke="none" stroke-width="1"/>
<rect x="2.82" y="38.70" width="7.12" height="2.20" fill="#c2c2c2" stroke="none" stroke-width="1"/>
<rect x="3.42" y="40.85" width="7.12" height="2.20" fill="#c2c2c2" stroke="none" stroke-width="1"/>
<rect x="4.01" y="43.00" width="7.12" height="2.20" fill="#c5c5c5" stroke="none" stroke-width="1"/>
<rect x="4.70" y="45.15" width="7.12" height="2.20" fill="#c2c2c2" stroke="none" stroke-width="1"/>
<rect x="-2.69" y="0.00" width="6.96" height="2.20" fill="#c5c5c5" stroke="none" stroke-width="1"/>
<rect x="-2.07" y="2.15" width="6.96" height="2.20" fill="#c8c8c8" stroke="none" stroke-width="1"/>
<rect x="-1.15" y="4.30" width="6.96" height="2.20" fill="#c2c2c2" stroke="none" stroke-width="1"/>
<rect x="-0.42" y="6.45" width="6.96" height="2.20" fill="#bebebe" stroke="none" stroke-width="1"/>
<rect x="0.16" y="8.60" width="6.96" height="2.20" fill="#bebebe" stroke="none" stroke-width="1"/>
<rect x="1.06" y="10.75" width="6.96" height="2.20" fill="#bebebe" stroke="none" stroke-width="1"/>
<rect x="1.90" y="12.90" width="6.96" height="2.20" fill="#bebebe" stroke="none" stroke-width="1"/>
<rect x="2.55" y="15.05" width="6.96" height="2.20" fill="#c5c5c5" stroke="none" stroke-width="1"/>
<rect x="3.19" y="17.20" width="6.96" height="2.20" fill="#c8c8c8" stroke="none" stroke-width="1"/>
<rect x="3.98" y="19.35" width="6.96" height="2.20" fill="#cccccc" stroke="none" stroke-width="1"/>
<rect x="4.69" y="21.50" width="6.96" height="2.20" fill="#bebebe" stroke="none" stroke-width="1"/>
<rect x="5.46" y="23.65" width="6.96" height="2.20" fill="#c8c8c8" stroke="none" stroke-width="1"/>
<rect x="6.05" y="25.80" width="6.96" height="2.20" fill="#c5c5c5" stroke="none" stroke-width="1"/>
<rect x="6.79" y="27.95" width="6.96" height="2.20" fill="#bebebe" stroke="none" stroke-width="1"/>
<rect x="7.69" y="30.10" width="6.96" height="2.20" fill="#bebebe" stroke="none" stroke-width="1"/>
<rect x="8.27" y="32.25" width="6.96" height="2.20" fill="#cccccc" stroke="none" stroke-width="1"/>
<rect x="9.08" y="34.40" width="6.96" height="2.20" fill="#bebebe" stroke="none" stroke-width="1"/>
<rect x="10.01" y="36.55" width="6.96" height="2.20" fill="#b080c0" stroke="none" stroke-width="1"/>
<rect x="10.81" y="38.70" width="6.96" height="2.20" fill="#c888b8" stroke="none" stroke-width="1"/>
<rect x="11.40" y="40.85" width="6.96" height="2.20" fill="#d8a8d0" stroke="none" stroke-width="1"/>
<rect x="12.21" y="43.00" width="6.96" height="2.20" fill="#c8c8c8" stroke="none" stroke-width="1"/>
<rect x="5.79" y="0.00" width="6.51" height="2.20" fill="#e8a070" stroke="none" stroke-width="1"/>
<rect x="6.35" y="2.15" width="6.51" height="2.20" fill="#c5c5c5" stroke="none" stroke-width="1"/>
<rect x="7.01" y="4.30" width="6.51" height="2.20" fill="#c5c5c5" stroke="none" stroke-width="1"/>
<rect x="7.61" y="6.45" width="6.51" height="2.20" fill="#c5c5c5" stroke="none" stroke-width="1"/>
<rect x="8.32" y="8.60" width="6.51" height="2.20" fill="#bebebe" stroke="none" stroke-width="1"/>
<rect x="9.24" y="10.75" width="6.51" height="2.20" fill="#c090c8" stroke="none" stroke-width="1"/>
<rect x="10.14" y="12.90" width="6.51" height="2.20" fill="#cccccc" stroke="none" stroke-width="1"/>
<rect x="11.00" y="15.05" width="6.51" height="2.20" fill="#c8c8c8" stroke="none" stroke-width="1"/>
<rect x="11.64" y="17.20" width="6.51" height="2.20" fill="#c888b8" stroke="none" stroke-width="1"/>
<rect x="12.51" y="19.35" width="6.51" height="2.20" fill="#c2c2c2" stroke="none" stroke-width="1"/>
<rect x="13.07" y="21.50" width="6.51" height="2.20" fill="#c888b8" stroke="none" stroke-width="1"/>
<rect x="13.66" y="23.65" width="6.51" height="2.20" fill="#c8a0d0" stroke="none" stroke-width="1"/>
<rect x="14.60" y="25.80" width="6.51" height="2.20" fill="#c8c8c8" stroke="none" stroke-width="1"/>
<rect x="15.15" y="27.95" width="6.51" height="2.20" fill="#c8a0d0" stroke="none" stroke-width="1"/>
<rect x="15.88" y="30.10" width="6.51" height="2.20" fill="#cccccc" stroke="none" stroke-width="1"/>
<rect x="16.80" y="32.25" width="6.51" height="2.20" fill="#c888b8" stroke="none" stroke-width="1"/>
<rect x="17.73" y="34.40" width="6.51" height="2.20" fill="#c2c2c2" stroke="none" stroke-width="1"/>
<rect x="18.58" y="36.55" width="6.51" height="2.20" fill="#c888b8" stroke="none" stroke-width="1"/>
<rect x="19.52" y="38.70" width="6.51" height="2.20" fill="#cccccc" stroke="none" stroke-width="1"/>
<rect x="20.08" y="40.85" width="6.51" height="2.20" fill="#cccccc" stroke="none" stroke-width="1"/>
<rect x="13.41" y="0.00" width="6.59" height="2.20" fill="#c8c8c8" stroke="none" stroke-width="1"/>
<rect x="14.34" y="2.15" width="6.59" height="2.20" fill="#c090c8" stroke="none" stroke-width="1"/>
<rect x="15.06" y="4.30" width="6.59" height="2.20" fill="#b080c0" stroke="none" stroke-width="1"/>
<rect x="15.87" y="6.45" width="6.59" height="2.20" fill="#c8a0d0" stroke="none" stroke-width="1"/>
<rect x="16.73" y="8.60" width="6.59" height="2.20" fill="#c2c2c2" stroke="none" stroke-width="1"/>
<rect x="17.33" y="10.75" width="6.59" height="2.20" fill="#bebebe" stroke="none" stroke-width="1"/>
<rect x="18.10" y="12.90" width="6.59" height="2.20" fill="#cccccc" stroke="none" stroke-width="1"/>
<rect x="19.00" y="15.05" width="6.59" height="2.20" fill="#c5c5c5" stroke="none" stroke-width="1"/>
<rect x="19.87" y="17.20" width="6.59" height="2.20" fill="#c5c5c5" stroke="none" stroke-width="1"/>
<rect x="20.45" y="19.35" width="6.59" height="2.20" fill="#c090c8" stroke="none" stroke-width="1"/>
<rect x="21.37" y="21.50" width="6.59" height="2.20" fill="#b080c0" stroke="none" stroke-width="1"/>
<rect x="21.99" y="23.65" width="6.59" height="2.20" fill="#c8c8c8" stroke="none" stroke-width="1"/>
<rect x="22.69" y="25.80" width="6.59" height="2.20" fill="#c8c8c8" stroke="none" stroke-width="1"/>
<rect x="23.63" y="27.95" width="6.59" height="2.20" fill="#cccccc" stroke="none" stroke-width="1"/>
<rect x="24.55" y="30.10" width="6.59" height="2.20" fill="#c2c2c2" stroke="none" stroke-width="1"/>
<rect x="25.32" y="32.25" width="6.59" height="2.20" fill="#cccccc" stroke="none" stroke-width="1"/>
<rect x="26.05" y="34.40" width="6.59" height="2.20" fill="#cccccc" stroke="none" stroke-width="1"/>
<rect x="26.97" y="36.55" width="6.59" height="2.20" fill="#c2c2c2" stroke="none" stroke-width="1"/>
<rect x="20.92" y="0.00" width="6.03" height="2.20" fill="#c888b8" stroke="none" stroke-width="1"/>
<rect x="21.73" y="2.15" width="6.03" height="2.20" fill="#c2c2c2" stroke="none" stroke-width="1"/>
<rect x="22.47" y="4.30" width="6.03" height="2.20" fill="#c8a0d0" stroke="none" stroke-width="1"/>
<rect x="23.05" y="6.45" width="6.03" height="2.20" fill="#c2c2c2" stroke="none" stroke-width="1"/>
<rect x="23.61" y="8.60" width="6.03" height="2.20" fill="#c2c2c2" stroke="none" stroke-width="1"/>
<rect x="24.20" y="10.75" width="6.03" height="2.20" fill="#c5c5c5" stroke="none" stroke-width="1"/>
<rect x="25.09" y="12.90" width="6.03" height="2.20" fill="#c8c8c8" stroke="none" stroke-width="1"/>
<rect x="25.87" y="15.05" width="6.03" height="2.20" fill="#cccccc" stroke="none" stroke-width="1"/>
<rect x="26.69" y="17.20" width="6.03" height="2.20" fill="#c890c8" stroke="none" stroke-width="1"/>
<rect x="27.41" y="19.35" width="6.03" height="2.20" fill="#cccccc" stroke="none" stroke-width="1"/>
<rect x="28.14" y="21.50" width="6.03" height="2.20" fill="#bebebe" stroke="none" stroke-width="1"/>
<rect x="28.90" y="23.65" width="6.03" height="2.20" fill="#c2c2c2" stroke="none" stroke-width="1"/>
<rect x="29.53" y="25.80" width="6.03" height="2.20" fill="#e08888" stroke="none" stroke-width="1"/>
<rect x="30.46" y="27.95" width="6.03" height="2.20" fill="#cccccc" stroke="none" stroke-width="1"/>
<rect x="31.20" y="30.10" width="6.03" height="2.20" fill="#cccccc" stroke="none" stroke-width="1"/>
<rect x="31.90" y="32.25" width="6.03" height="2.20" fill="#cccccc" stroke="none" stroke-width="1"/>
<rect x="28.19" y="0.00" width="6.96" height="2.20" fill="#c8c8c8" stroke="none" stroke-width="1"/>
<rect x="28.83" y="2.15" width="6.96" height="2.20" fill="#c5c5c5" stroke="none" stroke-width="1"/>
<rect x="29.69" y="4.30" width="6.96" height="2.20" fill="#c8c8c8" stroke="none" stroke-width="1"/>
<rect x="30.25" y="6.45" width="6.96" height="2.20" fill="#c5c5c5" stroke="none" stroke-width="1"/>
<rect x="30.99" y="8.60" width="6.96" height="2.20" fill="#cccccc" stroke="none" stroke-width="1"/>
<rect x="31.90" y="10.75" width="6.96" height="2.20" fill="#c8c8c8" stroke="none" stroke-width="1"/>
<rect x="32.65" y="12.90" width="6.96" height="2.20" fill="#c8c8c8" stroke="none" stroke-width="1"/>
<rect x="33.38" y="15.05" width="6.96" height="2.20" fill="#cccccc" stroke="none" stroke-width="1"/>
<rect x="34.11" y="17.20" width="6.96" height="2.20" fill="#cccccc" stroke="none" stroke-width="1"/>
<rect x="34.80" y="19.35" width="6.96" height="2.20" fill="#c2c2c2" stroke="none" stroke-width="1"/>
<rect x="35.42" y="21.50" width="6.96" height="2.20" fill="#c5c5c5" stroke="none" stroke-width="1"/>
<rect x="36.30" y="23.65" width="6.96" height="2.20" fill="#cccccc" stroke="none" stroke-width="1"/>
<rect x="36.95" y="25.80" width="6.96" height="2.20" fill="#c2c2c2" stroke="none" stroke-width="1"/>
<rect x="36.23" y="0.00" width="6.65" height="2.20" fill="#c5c5c5" stroke="none" stroke-width="1"/>
<rect x="37.07" y="2.15" width="6.65" height="2.20" fill="#c5c5c5" stroke="none" stroke-width="1"/>
<rect x="37.68" y="4.30" width="6.65" height="2.20" fill="#c5c5c5" stroke="none" stroke-width="1"/>
<rect x="38.31" y="6.45" width="6.65" height="2.20" fill="#cccccc" stroke="none" stroke-width="1"/>
<rect x="38.86" y="8.60" width="6.65" height="2.20" fill="#c2c2c2" stroke="none" stroke-width="1"/>
<rect x="39.63" y="10.75" width="6.65" height="2.20" fill="#f0b080" stroke="none" stroke-width="1"/>
<rect x="40.38" y="12.90" width="6.65" height="2.20" fill="#c5c5c5" stroke="none" stroke-width="1"/>
<rect x="41.18" y="15.05" width="6.65" height="2.20" fill="#c5c5c5" stroke="none" stroke-width="1"/>
<rect x="42.04" y="17.20" width="6.65" height="2.20" fill="#c2c2c2" stroke="none" stroke-width="1"/>
<rect x="42.89" y="19.35" width="6.65" height="2.20" fill="#c5c5c5" stroke="none" stroke-width="1"/>
<rect x="43.70" y="21.50" width="6.65" height="2.20" fill="#c8c8c8" stroke="none" stroke-width="1"/>
<rect x="44.42" y="23.65" width="6.65" height="2.20" fill="#c2c2c2" stroke="none" stroke-width="1"/>
<rect x="44.20" y="0.00" width="6.41" height="2.20" fill="#c8c8c8" stroke="none" stroke-width="1"/>
<rect x="44.88" y="2.15" width="6.41" height="2.20" fill="#bebebe" stroke="none" stroke-width="1"/>
<rect x="45.83" y="4.30" width="6.41" height="2.20" fill="#c5c5c5" stroke="none" stroke-width="1"/>
<rect x="46.61" y="6.45" width="6.41" height="2.20" fill="#bebebe" stroke="none" stroke-width="1"/>
<rect x="47.49" y="8.60" width="6.41" height="2.20" fill="#c8c8c8" stroke="none" stroke-width="1"/>
<rect x="48.38" y="10.75" width="6.41" height="2.20" fill="#cccccc" stroke="none" stroke-width="1"/>
<rect x="49.23" y="12.90" width="6.41" height="2.20" fill="#cccccc" stroke="none" stroke-width="1"/>
<rect x="50.17" y="15.05" width="6.41" height="2.20" fill="#c5c5c5" stroke="none" stroke-width="1"/>
<rect x="51.09" y="17.20" width="6.41" height="2.20" fill="#bebebe" stroke="none" stroke-width="1"/>
<rect x="51.79" y="19.35" width="6.41" height="2.20" fill="#c2c2c2" stroke="none" stroke-width="1"/>
<rect x="52.55" y="21.50" width="6.41" height="2.20" fill="#bebebe" stroke="none" stroke-width="1"/>
<rect x="51.90" y="0.00" width="6.21" height="2.20" fill="#cccccc" stroke="none" stroke-width="1"/>
<rect x="52.79" y="2.15" width="6.21" height="2.20" fill="#c2c2c2" stroke="none" stroke-width="1"/>
<rect x="53.65" y="4.30" width="6.21" height="2.20" fill="#cccccc" stroke="none" stroke-width="1"/>
<rect x="54.51" y="6.45" width="6.21" height="2.20" fill="#c2c2c2" stroke="none" stroke-width="1"/>
<rect x="55.36" y="8.60" width="6.21" height="2.20" fill="#c2c2c2" stroke="none" stroke-width="1"/>
<rect x="55.94" y="10.75" width="6.21" height="2.20" fill="#c5c5c5" stroke="none" stroke-width="1"/>
<rect x="56.54" y="12.90" width="6.21" height="2.20" fill="#c5c5c5" stroke="none" stroke-width="1"/>
<rect x="57.21" y="15.05" width="6.21" height="2.20" fill="#c2c2c2" stroke="none" stroke-width="1"/>
<rect x="57.97" y="17.20" width="6.21" height="2.20" fill="#c5c5c5" stroke="none" stroke-width="1"/>
<rect x="58.59" y="19.35" width="6.21" height="2.20" fill="#cccccc" stroke="none" stroke-width="1"/>
<rect x="59.43" y="21.50" width="6.21" height="2.20" fill="#c5c5c5" stroke="none" stroke-width="1"/>
<rect x="60.17" y="23.65" width="6.21" height="2.20" fill="#bebebe" stroke="none" stroke-width="1"/>
</svg>
<rect x="293.80" y="613.80" width="113.00" height="53.40" fill="none" stroke="#555" stroke-width="1.0"/>
<line x1="350.80" y1="613.80" x2="350.80" y2="667.20" stroke="#222" stroke-width="1.0"/>
<line x1="317.50" y1="613.80" x2="317.50" y2="668.20" stroke="#222" stroke-width="0.8" stroke-dasharray="1.4,1"/>
<path d="M315.4,612.0 L319.6,612.0 L317.5,616.1999999999999 Z" fill="#7a2a4a" stroke="none" stroke-width="1"/>
<path d="M315.4,668.2 L319.6,668.2 L317.5,671.6 Z" fill="#111" stroke="none" stroke-width="1"/>
<text x="317.5" y="680.8" font-size="7.0" text-anchor="middle" font-weight="normal" fill="#222" textLength="31" lengthAdjust="spacingAndGlyphs" stroke="#222" stroke-width="0.06">Breakpoint</text>
<line x1="377.80" y1="613.80" x2="377.80" y2="668.20" stroke="#222" stroke-width="0.8" stroke-dasharray="1.4,1"/>
<path d="M375.7,612.0 L379.90000000000003,612.0 L377.8,616.1999999999999 Z" fill="#7a2a4a" stroke="none" stroke-width="1"/>
<path d="M375.7,668.2 L379.90000000000003,668.2 L377.8,671.6 Z" fill="#111" stroke="none" stroke-width="1"/>
<text x="377.8" y="680.8" font-size="7.0" text-anchor="middle" font-weight="normal" fill="#222" textLength="31" lengthAdjust="spacingAndGlyphs" stroke="#222" stroke-width="0.06">Breakpoint</text>
<text x="339.1" y="487.0" font-size="11" text-anchor="start" font-weight="bold" fill="#111">G</text>
<text x="378.2" y="494.0" font-size="6.8" text-anchor="middle" font-weight="normal" fill="#222" stroke="#222" stroke-width="0.05">UT242</text>
<text x="465.2" y="494.0" font-size="6.8" text-anchor="middle" font-weight="normal" fill="#222" stroke="#222" stroke-width="0.05">UT308</text>
<text x="463.6" y="592.2" font-size="6.8" text-anchor="middle" font-weight="normal" fill="#222" stroke="#222" stroke-width="0.05">DND41</text>
<circle cx="377.4" cy="536.7" r="37.3" fill="#fff" stroke="#c3cad2" stroke-width="2.0"/>
<circle cx="377.4" cy="536.7" r="37.3" fill="none" stroke="#9eaabb" stroke-width="2.0" stroke-dasharray="3.5,2.2,1.5,4,2.5,3" opacity="0.8"/>
<circle cx="377.4" cy="536.7" r="34.9" fill="none" stroke="#bdbdbd" stroke-width="0.5"/>
<circle cx="377.4" cy="536.7" r="31.6" fill="none" stroke="#bdbdbd" stroke-width="0.5"/>
<circle cx="377.4" cy="536.7" r="28.3" fill="none" stroke="#bdbdbd" stroke-width="0.5"/>
<circle cx="377.4" cy="536.7" r="25.0" fill="none" stroke="#bdbdbd" stroke-width="0.5"/>
<circle cx="377.4" cy="536.7" r="22.2" fill="none" stroke="#bdbdbd" stroke-width="0.5"/>
<path d="M408.98,537.70L412.28,537.80M408.54,542.04L411.80,542.60M407.47,546.40L410.61,547.41M405.87,550.40L408.85,551.83M402.43,555.99L405.04,558.01M398.72,560.02L400.95,562.46M395.16,562.84L397.01,565.57M389.80,565.76L391.10,568.80M385.83,567.16L386.71,570.34M380.24,568.17L380.54,571.46M376.93,568.30L376.88,571.60M372.17,567.86L371.62,571.12M366.23,566.26L365.07,569.35M361.42,563.96L359.75,566.81M356.54,560.44L354.36,562.91M353.41,557.27L350.90,559.42M350.55,553.36L347.74,555.09M347.79,547.74L344.70,548.89M346.37,542.66L343.13,543.28M345.84,538.38L342.55,538.55M345.92,533.99L342.63,533.70M346.97,528.17L343.80,527.28M349.32,522.20L346.39,520.68M352.35,517.44L349.73,515.43M356.87,512.68L354.72,510.17M360.45,510.03L358.68,507.25M363.34,508.40L361.87,505.45M367.37,506.73L366.33,503.60M371.66,505.63L371.06,502.38M378.20,505.11L378.28,501.81M381.87,505.42L382.34,502.15M387.52,506.76L388.58,503.64M390.91,508.14L392.33,505.15M394.93,510.41L396.77,507.67M398.68,513.34L400.91,510.90M402.63,517.68L405.27,515.69M404.83,521.01L407.69,519.37M406.90,525.38L409.98,524.20M408.46,530.86L411.70,530.25M405.68,537.79L408.98,537.92M405.41,540.75L408.68,541.22M404.56,544.65L407.73,545.58M402.69,549.41L405.64,550.89M400.78,552.64L403.51,554.50M398.15,555.94L400.57,558.19M393.77,559.78L395.68,562.47M391.06,561.48L392.66,564.37M386.79,563.40L387.88,566.51M383.69,564.29L384.42,567.51M380.03,564.88L380.34,568.16M374.16,564.81L373.78,568.09M368.85,563.68L367.85,566.82M364.10,561.68L362.55,564.59M361.52,560.13L359.67,562.86M357.70,557.02L355.41,559.39M354.51,553.34L351.84,555.28M351.72,548.58L348.72,549.97M349.85,543.17L346.64,543.92M349.16,538.48L345.86,538.68M349.16,534.82L345.87,534.61M349.96,529.77L346.76,528.96M350.89,526.80L347.80,525.64M353.00,522.36L350.16,520.69M355.16,519.20L352.56,517.16M357.60,516.48L355.29,514.12M361.24,513.47L359.36,510.76M365.29,511.12L363.88,508.14M370.74,509.19L369.97,505.99M376.49,508.41L376.38,505.12M380.82,508.61L381.22,505.33M386.01,509.74L387.02,506.60M390.81,511.78L392.38,508.88M395.53,514.97L397.64,512.43M399.19,518.64L401.73,516.54M402.35,523.35L405.26,521.80M403.63,526.07L406.69,524.83M405.22,531.53L408.47,530.93M402.28,539.10L405.57,539.42M401.72,542.51L404.93,543.28M400.84,545.39L403.93,546.54M399.47,548.45L402.38,550.00M397.17,552.00L399.78,554.02M393.57,555.77L395.71,558.28M391.20,557.54L393.03,560.29M388.76,558.97L390.26,561.91M384.36,560.71L385.28,563.88M381.54,561.35L382.09,564.61M377.80,561.70L377.85,565.00M373.02,561.31L372.44,564.56M369.98,560.57L369.00,563.73M367.12,559.49L365.76,562.49M363.33,557.37L361.48,560.09M360.86,555.45L358.68,557.92M358.33,552.86L355.81,555.00M356.52,550.45L353.76,552.26M354.83,547.46L351.85,548.88M353.71,544.68L350.58,545.73M352.71,540.64L349.45,541.16M352.41,536.04L349.11,535.95M352.68,532.96L349.42,532.47M353.27,530.18L350.08,529.32M354.61,526.42L351.60,525.06M356.32,523.27L353.53,521.49M358.23,520.65L355.70,518.53M361.93,517.06L359.89,514.47M365.44,514.75L363.86,511.85M368.18,513.46L366.96,510.40M371.07,512.52L370.23,509.32M375.34,511.79L375.07,508.50M380.08,511.84L380.43,508.56M383.96,512.58L384.82,509.39M386.94,513.59L388.19,510.54M389.76,514.97L391.39,512.10M392.04,516.43L393.97,513.76M394.26,518.24L396.49,515.81M396.78,520.91L399.34,518.82M399.27,524.59L402.16,522.99M401.25,529.21L404.40,528.22M402.12,532.99L405.39,532.50M399.57,537.90L402.36,538.05M399.31,540.27L402.07,540.72M398.44,543.77L401.10,544.66M396.62,547.81L399.04,549.21M394.09,551.34L396.20,553.18M391.48,553.86L393.26,556.03M388.23,556.08L389.60,558.52M385.29,557.45L386.29,560.07M381.77,558.47L382.32,561.21M378.20,558.89L378.30,561.68M373.80,558.61L373.35,561.37M370.40,557.77L369.52,560.42M367.23,556.43L365.95,558.92M364.70,554.91L363.10,557.20M362.68,553.32L360.82,555.41M360.50,551.10L358.37,552.91M358.68,548.63L356.32,550.14M357.01,545.47L354.43,546.58M355.80,541.81L353.07,542.46M355.21,537.22L352.41,537.28M355.29,534.66L352.51,534.41M356.01,530.75L353.31,530.00M356.86,528.29L354.27,527.22M358.84,524.52L356.50,522.98M360.59,522.19L358.47,520.36M362.82,519.96L360.98,517.84M366.11,517.59L364.68,515.18M370.28,515.67L369.38,513.02M373.55,514.84L373.07,512.08M376.45,514.52L376.33,511.72M378.93,514.55L379.13,511.76M382.52,515.10L383.17,512.37M385.36,515.97L386.36,513.36M387.96,517.17L389.29,514.71M390.27,518.61L391.89,516.33M392.98,520.88L394.94,518.89M394.91,523.06L397.12,521.34M396.80,525.91L399.25,524.55M398.02,528.49L400.63,527.45M399.20,532.50L401.95,531.97M399.60,536.28L402.40,536.23" fill="none" stroke="#c8c8c8" stroke-width="0.45"/>
<path d="M377.40,514.50L377.40,500.40M382.86,515.18L386.32,501.51M386.88,516.63L392.90,503.88M391.58,519.62L400.58,508.77M394.96,523.12L406.11,514.49M397.12,526.51L409.65,520.04M399.08,531.92L412.85,528.89M399.59,537.43L413.68,537.89M398.97,541.96L412.67,545.30M396.63,547.80L408.84,554.85M393.15,552.34L403.16,562.27M389.30,555.44L396.86,567.35M383.93,557.92L388.07,571.40M379.50,558.80L380.84,572.84M374.08,558.65L371.97,572.59M369.12,557.30L363.86,570.38M365.11,555.19L357.30,566.93M360.45,551.04L349.69,560.15M357.81,547.14L345.36,553.77M355.96,542.45L342.34,546.10M355.21,536.02L341.12,535.58M355.83,531.46L342.12,528.14M357.15,527.61L344.29,521.83M359.59,523.45L348.27,515.04M362.18,520.54L352.52,510.27M365.65,517.86L358.19,505.90M371.57,515.28L367.87,501.67" fill="none" stroke="#bdbdbd" stroke-width="0.5"/>
<line x1="408.17" y1="546.51" x2="409.89" y2="547.06" stroke="#d07090" stroke-width="0.9"/>
<line x1="347.39" y1="524.74" x2="345.72" y2="524.08" stroke="#999999" stroke-width="0.9"/>
<line x1="368.30" y1="512.67" x2="367.66" y2="510.98" stroke="#d07090" stroke-width="0.9"/>
<line x1="356.92" y1="521.18" x2="355.48" y2="520.09" stroke="#e090a8" stroke-width="0.9"/>
<line x1="397.54" y1="561.96" x2="398.66" y2="563.36" stroke="#e090a8" stroke-width="0.9"/>
<line x1="398.05" y1="546.12" x2="399.69" y2="546.87" stroke="#999999" stroke-width="0.9"/>
<line x1="360.58" y1="556.13" x2="359.40" y2="557.49" stroke="#d07090" stroke-width="0.9"/>
<line x1="390.96" y1="507.39" x2="391.72" y2="505.75" stroke="#999999" stroke-width="0.9"/>
<line x1="385.75" y1="567.90" x2="386.22" y2="569.64" stroke="#d07090" stroke-width="0.9"/>
<line x1="399.58" y1="531.85" x2="401.33" y2="531.46" stroke="#8aa8d0" stroke-width="0.9"/>
<line x1="405.94" y1="541.85" x2="407.71" y2="542.17" stroke="#8aa8d0" stroke-width="0.9"/>
<line x1="401.15" y1="514.81" x2="402.47" y2="513.59" stroke="#7ab890" stroke-width="0.9"/>
<line x1="401.56" y1="545.46" x2="403.25" y2="546.08" stroke="#999999" stroke-width="0.9"/>
<line x1="375.04" y1="559.28" x2="374.85" y2="561.07" stroke="#e090a8" stroke-width="0.9"/>
<line x1="378.69" y1="559.36" x2="378.79" y2="561.16" stroke="#999999" stroke-width="0.9"/>
<line x1="357.38" y1="520.59" x2="355.98" y2="519.46" stroke="#e090a8" stroke-width="0.9"/>
<path d="M377.6,516 Q375,535 367.5,556" fill="none" stroke="#d8123c" stroke-width="2.4" stroke-linecap="round"/>
<path d="M382.5,518 Q385,535 393.5,548" fill="none" stroke="#e0507a" stroke-width="0.7" stroke-linecap="round"/>
<path d="M390.5,519.5 Q378,540 369.5,556" fill="none" stroke="#e0507a" stroke-width="0.7" stroke-linecap="round"/>
<path d="M358.8,545.5 L369,540.8" fill="none" stroke="#e0507a" stroke-width="0.7" stroke-linecap="round"/>
<path d="M376,558 Q383,540 396,548.5" fill="none" stroke="#e0507a" stroke-width="0.7" stroke-linecap="round"/>
<text x="358.8" y="532.4" font-size="6.6" text-anchor="start" font-weight="normal" fill="#222" textLength="15.8" lengthAdjust="spacingAndGlyphs" stroke="#222" stroke-width="0.16">t(5;14)</text>
<line x1="370.50" y1="534.50" x2="373.60" y2="536.50" stroke="#222" stroke-width="0.6"/>
<path d="M372.40000000000003,535.0 L374.90000000000003,537.4 L371.70000000000005,537.7 Z" fill="#222" stroke="none" stroke-width="1"/>
<circle cx="463.5" cy="536.6" r="37.3" fill="#fff" stroke="#c3cad2" stroke-width="2.0"/>
<circle cx="463.5" cy="536.6" r="37.3" fill="none" stroke="#9eaabb" stroke-width="2.0" stroke-dasharray="3.5,2.2,1.5,4,2.5,3" opacity="0.8"/>
<circle cx="463.5" cy="536.6" r="34.9" fill="none" stroke="#bdbdbd" stroke-width="0.5"/>
<circle cx="463.5" cy="536.6" r="31.6" fill="none" stroke="#bdbdbd" stroke-width="0.5"/>
<circle cx="463.5" cy="536.6" r="28.3" fill="none" stroke="#bdbdbd" stroke-width="0.5"/>
<circle cx="463.5" cy="536.6" r="25.0" fill="none" stroke="#bdbdbd" stroke-width="0.5"/>
<circle cx="463.5" cy="536.6" r="22.2" fill="none" stroke="#bdbdbd" stroke-width="0.5"/>
<path d="M494.97,539.46L498.26,539.75M493.93,545.14L497.10,546.03M492.52,549.10L495.55,550.41M490.31,553.33L493.11,555.08M487.84,556.76L490.38,558.86M484.48,560.23L486.67,562.70M479.59,563.80L481.26,566.64M475.93,565.65L477.22,568.69M471.38,567.20L472.20,570.40M465.63,568.13L465.85,571.42M459.60,567.96L459.19,571.23M455.41,567.15L454.57,570.34M451.41,565.79L450.14,568.84M445.65,562.68L443.79,565.40M441.90,559.66L439.64,562.07M439.45,557.10L436.94,559.24M436.29,552.67L433.45,554.34M434.24,548.54L431.19,549.78M432.66,543.48L429.44,544.20M432.02,539.35L428.73,539.64M431.91,535.82L428.61,535.74M432.31,531.55L429.05,531.03M433.69,526.12L430.57,525.03M435.82,521.36L432.93,519.77M439.31,516.26L436.79,514.14M442.44,513.04L440.24,510.58M446.34,510.07L444.55,507.30M449.67,508.19L448.22,505.22M455.32,506.08L454.47,502.89M461.81,505.05L461.63,501.75M467.73,505.29L468.18,502.01M472.28,506.24L473.20,503.07M475.90,507.53L477.19,504.50M480.57,510.01L482.36,507.23M484.60,513.08L486.81,510.62M487.09,515.58L489.56,513.38M489.78,519.05L492.52,517.21M492.16,523.28L495.15,521.89M494.26,529.36L497.47,528.60M495.04,534.73L498.34,534.54M491.78,537.70L495.08,537.83M491.51,540.66L494.77,541.13M490.93,543.57L494.13,544.38M489.96,546.63L493.05,547.80M488.34,550.16L491.24,551.74M485.66,554.20L488.24,556.25M482.69,557.40L484.92,559.83M479.96,559.62L481.88,562.31M475.74,562.11L477.17,565.09M472.58,563.40L473.64,566.53M468.94,564.37L469.57,567.61M463.76,564.90L463.79,568.20M457.89,564.34L457.24,567.57M454.04,563.27L452.94,566.38M449.44,561.16L447.80,564.02M446.62,559.32L444.66,561.97M442.57,555.65L440.13,557.87M439.19,551.09L436.35,552.78M437.01,546.56L433.92,547.72M435.64,541.59L432.39,542.17M435.20,536.85L431.90,536.88M435.76,531.01L432.52,530.36M436.74,527.38L433.62,526.30M439.13,522.22L436.28,520.54M442.59,517.54L440.15,515.31M446.01,514.35L443.97,511.75M448.46,512.63L446.71,509.83M451.81,510.83L450.45,507.82M455.04,509.59L454.06,506.44M458.45,508.75L457.86,505.51M462.09,508.34L461.92,505.04M466.30,508.44L466.63,505.16M471.68,509.51L472.63,506.35M475.58,511.01L476.99,508.02M478.69,512.72L480.46,509.94M482.15,515.31L484.32,512.83M485.70,519.05L488.29,517.01M487.62,521.79L490.43,520.07M489.94,526.50L493.02,525.32M491.20,530.81L494.43,530.13M491.78,535.57L495.08,535.45M488.44,538.34L491.73,538.57M487.84,542.29L491.06,543.04M486.40,546.63L489.42,547.95M485.22,548.98L488.09,550.61M482.32,553.05L484.81,555.23M478.64,556.50L480.64,559.12M474.83,558.88L476.33,561.82M471.37,560.33L472.41,563.46M468.17,561.16L468.79,564.40M465.47,561.52L465.73,564.81M461.19,561.49L460.89,564.78M456.94,560.73L456.08,563.91M452.71,559.15L451.29,562.13M450.30,557.83L448.56,560.64M447.69,555.97L445.61,558.53M445.49,553.93L443.11,556.22M442.79,550.60L440.05,552.45M440.43,546.24L437.39,547.52M439.44,543.41L436.27,544.30M438.60,538.86L435.32,539.16M438.51,536.02L435.21,535.94M439.03,531.46L435.81,530.78M439.83,528.54L436.71,527.48M441.42,524.87L438.51,523.33M443.65,521.40L441.03,519.39M446.02,518.72L443.72,516.36M449.40,515.95L447.54,513.23M453.83,513.55L452.55,510.50M456.54,512.59L455.62,509.42M459.46,511.93L458.92,508.67M464.03,511.61L464.10,508.31M469.05,512.22L469.78,509.01M471.76,513.01L472.85,509.89M476.13,515.03L477.80,512.18M479.23,517.17L481.31,514.60M481.84,519.61L484.26,517.36M484.12,522.46L486.84,520.59M486.03,525.76L489.00,524.33M487.67,530.22L490.86,529.37M488.38,534.15L491.66,533.83M485.70,536.67L488.50,536.68M485.43,540.07L488.19,540.51M484.93,542.40L487.63,543.13M483.68,545.85L486.23,547.02M481.45,549.66L483.71,551.31M478.57,552.90L480.47,554.96M474.88,555.66L476.32,558.06M471.77,557.20L472.81,559.80M469.16,558.07L469.87,560.77M466.82,558.55L467.24,561.32M464.04,558.79L464.11,561.59M461.60,558.72L461.36,561.51M458.66,558.27L458.05,561.00M455.68,557.38L454.69,560.00M452.18,555.70L450.75,558.11M448.91,553.33L447.07,555.44M446.13,550.43L443.94,552.17M444.58,548.22L442.20,549.69M442.85,544.75L440.24,545.78M441.80,541.26L439.06,541.85M441.32,537.60L438.53,537.73M441.53,533.40L438.76,532.99M442.53,529.33L439.88,528.41M444.42,525.25L442.01,523.82M447.16,521.57L445.10,519.67M449.92,519.04L448.20,516.83M453.15,516.96L451.85,514.48M456.43,515.55L455.54,512.90M459.36,514.79L458.84,512.04M462.61,514.42L462.49,511.62M465.26,514.47L465.48,511.68M468.00,514.86L468.56,512.12M470.52,515.54L471.40,512.88M474.55,517.35L475.94,514.92M476.59,518.67L478.24,516.41M478.63,520.36L480.54,518.31M480.67,522.53L482.84,520.76M482.71,525.47L485.13,524.06M483.92,527.89L486.50,526.79M485.17,531.78L487.90,531.17M485.70,536.25L488.50,536.21" fill="none" stroke="#c8c8c8" stroke-width="0.45"/>
<path d="M463.50,514.40L463.50,500.30M467.73,514.81L470.41,500.96M472.07,516.12L477.52,503.12M475.84,518.14L483.67,506.42M480.31,522.10L490.99,512.89M482.64,525.35L494.79,518.20M484.90,530.71L498.50,526.97M485.70,536.76L499.80,536.86M485.33,540.66L499.19,543.23M483.92,545.32L496.88,550.86M481.35,549.81L492.68,558.19M477.39,553.92L486.21,564.92M472.42,556.93L478.08,569.84M468.58,558.21L471.81,571.94M462.44,558.77L461.76,572.86M456.44,557.65L451.95,571.01M452.43,555.84L445.39,568.06M447.96,552.45L438.09,562.52M444.97,548.83L433.21,556.60M442.29,543.15L428.82,547.32M441.36,538.24L427.30,539.28M441.66,532.64L427.78,530.13M443.73,526.50L431.18,520.08M446.91,521.85L436.37,512.48M451.46,517.95L443.81,506.10M455.65,515.84L450.66,502.65M461.63,514.48L460.45,500.43" fill="none" stroke="#bdbdbd" stroke-width="0.5"/>
<line x1="439.58" y1="558.31" x2="438.25" y2="559.52" stroke="#d07090" stroke-width="0.9"/>
<line x1="485.65" y1="531.61" x2="487.40" y2="531.22" stroke="#999999" stroke-width="0.9"/>
<line x1="448.00" y1="512.09" x2="447.04" y2="510.57" stroke="#e090a8" stroke-width="0.9"/>
<line x1="452.34" y1="559.75" x2="451.56" y2="561.37" stroke="#8aa8d0" stroke-width="0.9"/>
<line x1="475.69" y1="506.69" x2="476.37" y2="505.02" stroke="#8aa8d0" stroke-width="0.9"/>
<line x1="434.93" y1="531.63" x2="433.16" y2="531.32" stroke="#7ab890" stroke-width="0.9"/>
<line x1="464.49" y1="568.88" x2="464.54" y2="570.68" stroke="#7ab890" stroke-width="0.9"/>
<line x1="469.13" y1="568.41" x2="469.44" y2="570.18" stroke="#7ab890" stroke-width="0.9"/>
<line x1="437.90" y1="534.29" x2="436.11" y2="534.12" stroke="#d07090" stroke-width="0.9"/>
<line x1="433.67" y1="524.20" x2="432.01" y2="523.51" stroke="#999999" stroke-width="0.9"/>
<line x1="473.72" y1="560.18" x2="474.44" y2="561.83" stroke="#d07090" stroke-width="0.9"/>
<line x1="447.06" y1="556.35" x2="445.91" y2="557.74" stroke="#e090a8" stroke-width="0.9"/>
<line x1="463.95" y1="510.90" x2="463.99" y2="509.10" stroke="#e090a8" stroke-width="0.9"/>
<line x1="434.60" y1="539.04" x2="432.81" y2="539.19" stroke="#7ab890" stroke-width="0.9"/>
<line x1="453.77" y1="509.28" x2="453.16" y2="507.59" stroke="#999999" stroke-width="0.9"/>
<line x1="489.20" y1="536.15" x2="491.00" y2="536.11" stroke="#999999" stroke-width="0.9"/>
<path d="M461.5,517 Q462,538 452.5,555" fill="none" stroke="#d8123c" stroke-width="2.4" stroke-linecap="round"/>
<path d="M463.5,517 Q466,536 459,556" fill="none" stroke="#d8123c" stroke-width="1.0" stroke-linecap="round"/>
<path d="M454.5,519 Q459,528 461,531" fill="none" stroke="#e0507a" stroke-width="0.7" stroke-linecap="round"/>
<path d="M471,522 Q466,540 470,556" fill="none" stroke="#e0507a" stroke-width="0.7" stroke-linecap="round"/>
<path d="M443.5,545 L453,542" fill="none" stroke="#e0507a" stroke-width="0.7" stroke-linecap="round"/>
<path d="M460,549 Q461,555 461.5,558" fill="none" stroke="#e0507a" stroke-width="1.0" stroke-linecap="round"/>
<text x="464.8" y="535.6" font-size="6.6" text-anchor="start" font-weight="normal" fill="#222" textLength="15.8" lengthAdjust="spacingAndGlyphs" stroke="#222" stroke-width="0.16">t(5;14)</text>
<line x1="467.50" y1="537.50" x2="464.80" y2="539.50" stroke="#222" stroke-width="0.6"/>
<path d="M463.6,538.0 L466.1,540.4 L462.90000000000003,540.7 Z" fill="#222" stroke="none" stroke-width="1"/>
<circle cx="463.8" cy="636.6" r="37.3" fill="#fff" stroke="#c3cad2" stroke-width="2.0"/>
<circle cx="463.8" cy="636.6" r="37.3" fill="none" stroke="#9eaabb" stroke-width="2.0" stroke-dasharray="3.5,2.2,1.5,4,2.5,3" opacity="0.8"/>
<circle cx="463.8" cy="636.6" r="34.9" fill="none" stroke="#bdbdbd" stroke-width="0.5"/>
<circle cx="463.8" cy="636.6" r="31.6" fill="none" stroke="#bdbdbd" stroke-width="0.5"/>
<circle cx="463.8" cy="636.6" r="28.3" fill="none" stroke="#bdbdbd" stroke-width="0.5"/>
<circle cx="463.8" cy="636.6" r="25.0" fill="none" stroke="#bdbdbd" stroke-width="0.5"/>
<circle cx="463.8" cy="636.6" r="22.2" fill="none" stroke="#bdbdbd" stroke-width="0.5"/>
<path d="M495.40,636.65L498.70,636.66M494.87,642.37L498.11,642.97M493.77,646.62L496.90,647.66M491.84,651.17L494.77,652.69M488.99,655.68L491.62,657.67M484.99,660.04L487.21,662.49M481.67,662.66L483.53,665.39M476.97,665.32L478.35,668.32M470.73,667.43L471.46,670.65M464.84,668.18L464.95,671.48M459.02,667.84L458.52,671.10M453.78,666.57L452.74,669.70M449.27,664.66L447.75,667.59M444.80,661.85L442.82,664.49M442.02,659.49L439.74,661.88M438.08,654.96L435.39,656.87M435.48,650.63L432.53,652.09M433.84,646.65L430.71,647.69M432.88,643.11L429.65,643.79M432.20,637.14L428.91,637.20M432.58,631.74L429.31,631.24M433.65,627.15L430.50,626.17M436.16,621.28L433.27,619.68M438.98,617.04L436.39,615.00M441.26,614.45L438.91,612.14M445.82,610.61L443.95,607.90M451.28,607.58L449.98,604.55M454.73,606.33L453.79,603.17M460.56,605.17L460.22,601.88M464.68,605.01L464.77,601.71M470.79,605.78L471.52,602.56M476.67,607.74L478.01,604.72M481.05,610.12L482.85,607.36M485.22,613.37L487.46,610.94M489.06,617.61L491.70,615.63M491.81,621.97L494.74,620.45M493.62,626.14L496.73,625.05M495.02,631.73L498.28,631.22M492.02,638.78L495.31,639.03M491.52,642.31L494.75,642.98M490.62,645.64L493.74,646.69M489.34,648.78L492.32,650.21M487.14,652.60L489.86,654.47M484.49,655.90L486.91,658.15M481.82,658.42L483.93,660.96M476.97,661.65L478.50,664.57M472.58,663.50L473.60,666.64M469.61,664.30L470.29,667.53M466.18,664.80L466.45,668.09M460.70,664.73L460.34,668.01M455.89,663.77L454.97,666.94M450.43,661.54L448.87,664.45M445.58,658.25L443.45,660.78M443.22,656.03L440.82,658.29M439.66,651.36L436.84,653.08M437.78,647.73L434.75,649.03M436.38,643.62L433.19,644.44M435.57,638.54L432.27,638.77M435.56,634.80L432.26,634.59M436.03,631.13L432.80,630.49M436.79,628.16L433.64,627.18M437.99,625.00L434.98,623.65M439.70,621.77L436.89,620.04M442.42,618.06L439.93,615.90M445.08,615.38L442.90,612.90M448.06,613.08L446.22,610.34M451.54,611.09L450.11,608.12M455.36,609.59L454.37,606.44M459.63,608.61L459.14,605.35M464.86,608.32L464.98,605.02M470.06,609.00L470.79,605.78M473.39,609.98L474.51,606.87M476.75,611.44L478.26,608.50M481.51,614.53L483.57,611.95M485.69,618.66L488.24,616.57M487.62,621.33L490.40,619.55M489.14,623.99L492.09,622.52M490.85,628.29L494.01,627.32M491.94,633.58L495.22,633.22M488.75,638.12L492.05,638.32M488.06,642.65L491.26,643.45M486.75,646.51L489.78,647.82M485.41,649.17L488.26,650.83M483.43,652.08L486.02,654.12M481.70,654.05L484.06,656.36M478.76,656.63L480.74,659.27M475.94,658.46L477.54,661.34M471.99,660.22L473.07,663.34M468.26,661.20L468.85,664.45M465.23,661.56L465.42,664.85M460.84,661.42L460.44,664.70M457.26,660.73L456.40,663.91M453.35,659.31L451.97,662.31M450.66,657.87L448.93,660.68M446.87,655.00L444.64,657.42M443.51,651.20L440.83,653.13M441.47,647.85L438.53,649.33M440.08,644.50L436.95,645.54M439.26,641.39L436.02,642.02M438.80,636.69L435.50,636.70M438.97,633.66L435.70,633.27M439.78,629.65L436.61,628.74M440.85,626.68L437.82,625.37M442.88,622.92L440.11,621.11M445.78,619.27L443.40,616.99M449.18,616.32L447.25,613.65M452.76,614.17L451.30,611.21M455.35,613.07L454.24,609.96M459.08,612.05L458.46,608.81M463.78,611.60L463.77,608.30M468.29,612.01L468.88,608.76M471.16,612.71L472.14,609.56M473.67,613.63L474.97,610.60M477.60,615.75L479.42,613.00M479.87,617.45L482.00,614.93M482.48,619.99L484.95,617.79M485.11,623.52L487.92,621.80M486.93,627.12L489.99,625.87M487.92,630.04L491.11,629.17M488.73,634.68L492.02,634.42M485.92,638.46L488.71,638.69M485.38,641.80L488.10,642.46M484.45,644.74L487.06,645.76M483.02,647.72L485.44,649.12M481.54,649.95L483.77,651.64M479.11,652.67L481.05,654.70M477.33,654.20L479.03,656.42M474.05,656.29L475.34,658.78M471.45,657.44L472.41,660.07M468.09,658.38L468.63,661.13M465.02,658.77L465.18,661.56M461.86,658.72L461.62,661.50M457.35,657.84L456.54,660.52M453.93,656.49L452.68,658.99M450.45,654.33L448.76,656.57M448.12,652.32L446.14,654.30M446.15,650.06L443.92,651.76M444.44,647.46L441.99,648.82M443.04,644.46L440.42,645.46M441.92,640.36L439.16,640.83M441.60,636.95L438.80,636.99M441.75,634.06L438.96,633.74M442.30,631.08L439.59,630.38M443.31,628.06L440.72,626.99M444.93,624.90L442.55,623.43M447.68,621.34L445.64,619.41M450.53,618.80L448.85,616.56M452.81,617.31L451.42,614.88M456.87,615.51L455.99,612.85M460.43,614.66L460.01,611.89M463.33,614.41L463.27,611.61M467.21,614.66L467.64,611.90M471.03,615.61L471.94,612.96M473.45,616.60L474.66,614.08M476.51,618.40L478.11,616.10M478.87,620.30L480.77,618.24M481.86,623.69L484.14,622.06M484.03,627.46L486.58,626.31M485.41,631.52L488.14,630.88M485.97,635.53L488.77,635.40" fill="none" stroke="#c8c8c8" stroke-width="0.45"/>
<path d="M463.80,614.40L463.80,600.30M467.97,614.80L470.63,600.95M473.42,616.59L479.53,603.89M478.33,619.81L487.55,609.15M482.23,624.23L493.94,616.37M484.64,628.95L497.88,624.10M485.91,634.60L499.95,633.33M485.54,641.09L499.35,643.94M484.13,645.52L497.04,651.19M480.93,650.72L491.81,659.69M476.24,654.99L484.14,666.67M471.45,657.44L476.32,670.67M465.71,658.72L466.92,672.77M460.20,658.51L457.91,672.42M455.77,657.30L450.68,670.44M451.00,654.74L442.88,666.26M446.37,650.35L435.30,659.08M443.18,644.83L430.09,650.06M442.04,641.02L428.23,643.83M441.60,636.41L427.50,636.29M442.36,630.86L428.73,627.21M444.91,624.93L432.92,617.52M447.32,621.72L436.86,612.27M451.35,618.22L443.44,606.54M456.48,615.64L451.83,602.33M460.76,614.61L458.83,600.64" fill="none" stroke="#bdbdbd" stroke-width="0.5"/>
<line x1="435.63" y1="620.79" x2="434.06" y2="619.91" stroke="#d07090" stroke-width="0.9"/>
<line x1="479.92" y1="620.62" x2="481.20" y2="619.35" stroke="#7ab890" stroke-width="0.9"/>
<line x1="481.75" y1="650.50" x2="483.17" y2="651.60" stroke="#999999" stroke-width="0.9"/>
<line x1="488.80" y1="630.63" x2="490.55" y2="630.21" stroke="#999999" stroke-width="0.9"/>
<line x1="441.38" y1="654.99" x2="439.99" y2="656.13" stroke="#e090a8" stroke-width="0.9"/>
<line x1="490.83" y1="618.92" x2="492.34" y2="617.94" stroke="#8aa8d0" stroke-width="0.9"/>
<line x1="480.77" y1="621.52" x2="482.11" y2="620.33" stroke="#999999" stroke-width="0.9"/>
<line x1="479.93" y1="652.57" x2="481.21" y2="653.84" stroke="#d07090" stroke-width="0.9"/>
<line x1="485.81" y1="617.72" x2="487.17" y2="616.54" stroke="#7ab890" stroke-width="0.9"/>
<line x1="492.72" y1="638.75" x2="494.52" y2="638.89" stroke="#7ab890" stroke-width="0.9"/>
<line x1="431.92" y1="631.38" x2="430.15" y2="631.09" stroke="#8aa8d0" stroke-width="0.9"/>
<line x1="487.54" y1="646.44" x2="489.20" y2="647.13" stroke="#8aa8d0" stroke-width="0.9"/>
<line x1="478.92" y1="661.35" x2="479.86" y2="662.88" stroke="#d07090" stroke-width="0.9"/>
<line x1="460.87" y1="611.07" x2="460.66" y2="609.28" stroke="#8aa8d0" stroke-width="0.9"/>
<line x1="452.87" y1="666.99" x2="452.26" y2="668.69" stroke="#e090a8" stroke-width="0.9"/>
<line x1="434.92" y1="633.94" x2="433.13" y2="633.77" stroke="#999999" stroke-width="0.9"/>
<path d="M463.5,617 Q462,640 452,657" fill="none" stroke="#d8123c" stroke-width="2.4" stroke-linecap="round"/>
<path d="M445,624 Q462,640 479,650" fill="none" stroke="#e0507a" stroke-width="0.7" stroke-linecap="round"/>
<path d="M443.5,637 Q470,641 473,654" fill="none" stroke="#e0507a" stroke-width="0.9" stroke-linecap="round"/>
<path d="M442.5,640 L454,639" fill="none" stroke="#e0507a" stroke-width="0.9" stroke-linecap="round"/>
<path d="M472,632 L493,627" fill="none" stroke="#e0507a" stroke-width="0.7" stroke-linecap="round"/>
<path d="M445,633 L455,637" fill="none" stroke="#e0507a" stroke-width="0.7" stroke-linecap="round"/>
<text x="464.4" y="627.8" font-size="6.6" text-anchor="start" font-weight="normal" fill="#222" textLength="15.8" lengthAdjust="spacingAndGlyphs" stroke="#222" stroke-width="0.16">t(5;14)</text>
<line x1="467.50" y1="630.00" x2="465.20" y2="632.00" stroke="#222" stroke-width="0.6"/>
<path d="M464.0,630.5 L466.5,632.9 L463.3,633.2 Z" fill="#222" stroke="none" stroke-width="1"/>
<rect x="0.50" y="0.50" width="519.00" height="688.00" fill="none" stroke="#4d4d4d" stroke-width="1"/>
</svg></body></html>
